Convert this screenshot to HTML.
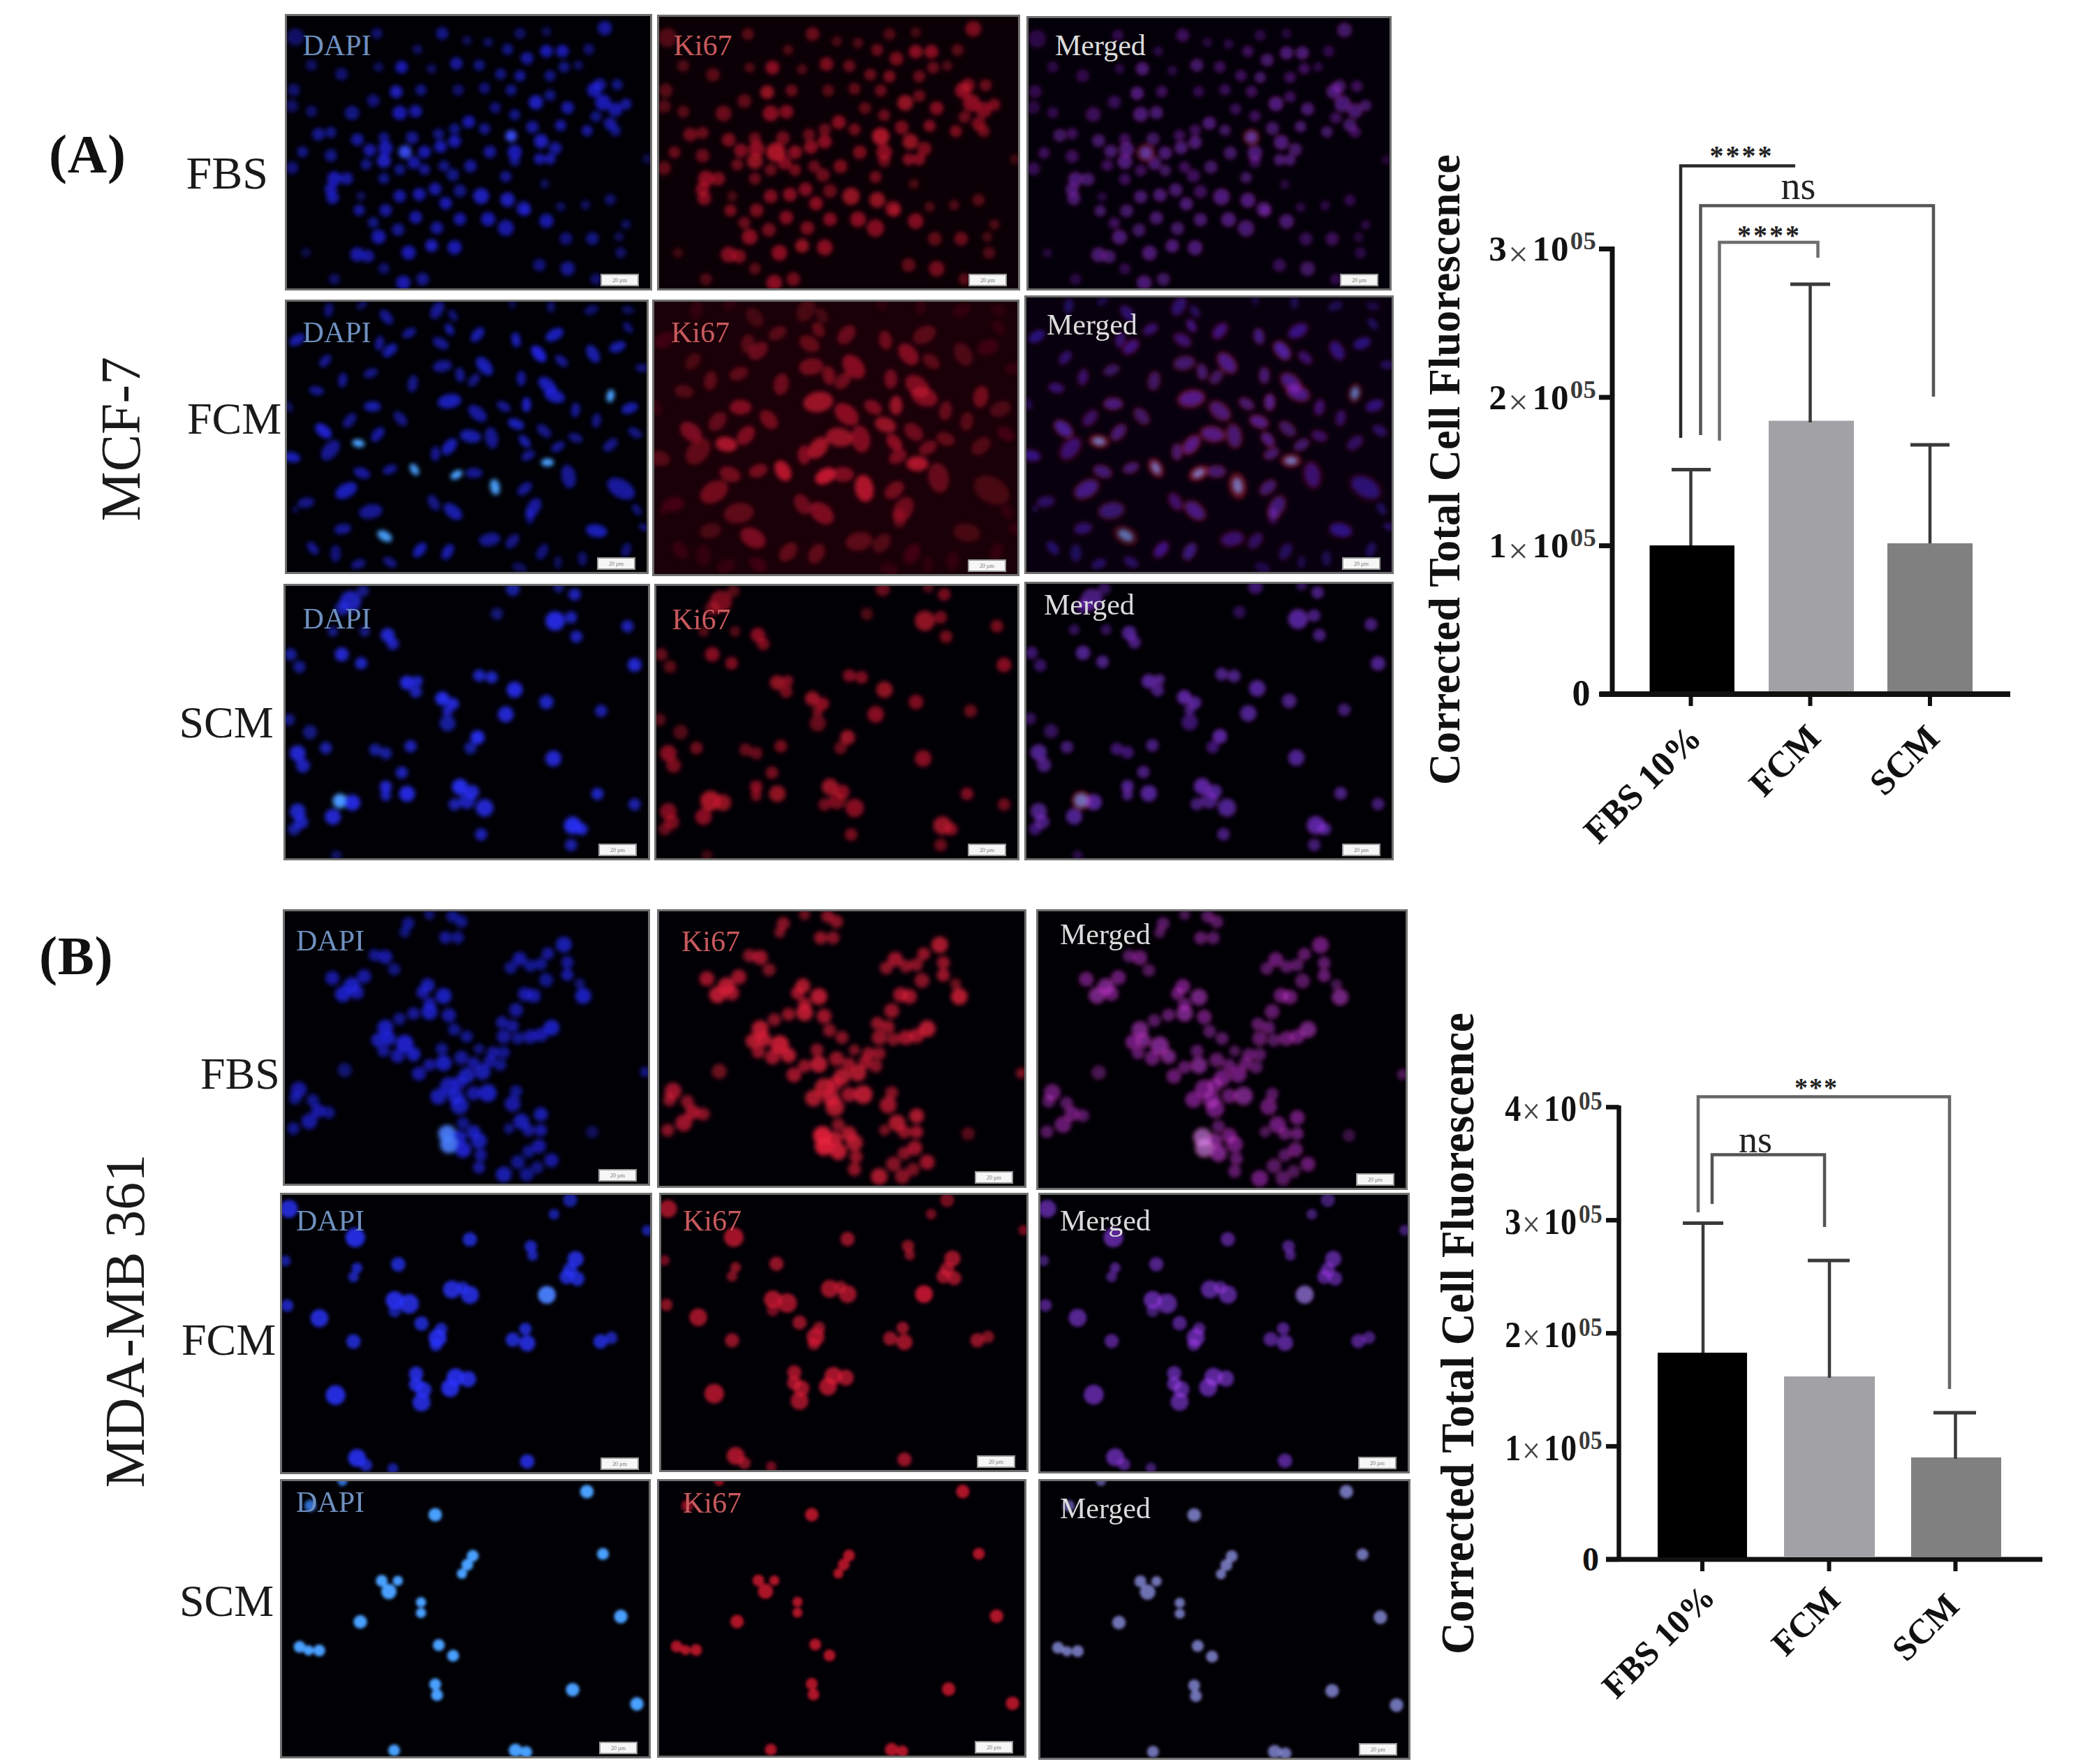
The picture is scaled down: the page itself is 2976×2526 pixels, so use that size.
<!DOCTYPE html><html><head><meta charset="utf-8"><title>Ki67 figure</title><style>html,body{margin:0;padding:0;background:#fff}body{width:2976px;height:2526px;overflow:hidden}svg{display:block}</style></head><body><svg width="2976" height="2526" viewBox="0 0 2976 2526">
<defs><filter id="blur" x="-5%" y="-5%" width="110%" height="110%"><feGaussianBlur stdDeviation="3.2"/></filter><filter id="blur4" x="-5%" y="-5%" width="110%" height="110%"><feGaussianBlur stdDeviation="2.8"/></filter><filter id="blur3" x="-5%" y="-5%" width="110%" height="110%"><feGaussianBlur stdDeviation="2"/></filter></defs>
<rect width="2976" height="2526" fill="#fff"/>
<rect x="408" y="20" width="526" height="396" fill="#6f6f6f"/>
<clipPath id="clipA00"><rect x="411" y="23" width="520" height="390"/></clipPath>
<rect x="411" y="23" width="520" height="390" fill="#010005"/>
<g clip-path="url(#clipA00)"><g style="isolation:isolate">
<g filter="url(#blur)">
<circle cx="423.2" cy="52.9" r="12.5" fill="#2426f0" fill-opacity="0.41"/>
<circle cx="539.6" cy="47.9" r="8.0" fill="#2426f0" fill-opacity="0.45"/>
<circle cx="633.3" cy="47.9" r="9.1" fill="#2426f0" fill-opacity="0.54"/>
<circle cx="668.7" cy="58.0" r="6.8" fill="#2426f0" fill-opacity="0.36"/>
<circle cx="699.1" cy="60.5" r="6.8" fill="#2426f0" fill-opacity="0.41"/>
<circle cx="744.7" cy="47.9" r="8.0" fill="#2426f0" fill-opacity="0.41"/>
<circle cx="782.6" cy="45.3" r="6.8" fill="#2426f0" fill-opacity="0.36"/>
<circle cx="866.2" cy="40.3" r="10.3" fill="#2426f0" fill-opacity="0.63"/>
<circle cx="843.4" cy="70.6" r="8.0" fill="#2426f0" fill-opacity="0.45"/>
<circle cx="575.1" cy="96.0" r="9.1" fill="#2426f0" fill-opacity="0.72"/>
<circle cx="597.8" cy="70.6" r="6.8" fill="#2426f0" fill-opacity="0.41"/>
<circle cx="653.5" cy="90.9" r="9.1" fill="#2426f0" fill-opacity="0.63"/>
<circle cx="686.4" cy="93.4" r="8.0" fill="#2426f0" fill-opacity="0.54"/>
<circle cx="726.9" cy="70.6" r="8.0" fill="#2426f0" fill-opacity="0.54"/>
<circle cx="754.8" cy="83.3" r="9.1" fill="#2426f0" fill-opacity="0.63"/>
<circle cx="782.6" cy="73.2" r="9.1" fill="#2426f0" fill-opacity="0.72"/>
<circle cx="805.4" cy="73.2" r="9.1" fill="#2426f0" fill-opacity="0.72"/>
<circle cx="807.9" cy="96.0" r="8.0" fill="#2426f0" fill-opacity="0.54"/>
<circle cx="744.7" cy="108.6" r="8.0" fill="#2426f0" fill-opacity="0.63"/>
<circle cx="716.8" cy="106.1" r="8.0" fill="#2426f0" fill-opacity="0.54"/>
<circle cx="787.7" cy="108.6" r="8.0" fill="#2426f0" fill-opacity="0.54"/>
<circle cx="489.0" cy="106.1" r="9.1" fill="#2426f0" fill-opacity="0.45"/>
<circle cx="446.0" cy="93.4" r="8.0" fill="#2426f0" fill-opacity="0.41"/>
<circle cx="542.2" cy="96.0" r="6.8" fill="#2426f0" fill-opacity="0.41"/>
<circle cx="618.1" cy="98.5" r="6.8" fill="#2426f0" fill-opacity="0.41"/>
<circle cx="828.2" cy="93.4" r="6.8" fill="#2426f0" fill-opacity="0.41"/>
<circle cx="567.5" cy="131.4" r="9.1" fill="#2426f0" fill-opacity="0.77"/>
<circle cx="602.9" cy="128.9" r="8.0" fill="#2426f0" fill-opacity="0.54"/>
<circle cx="656.1" cy="128.9" r="8.0" fill="#2426f0" fill-opacity="0.45"/>
<circle cx="694.0" cy="126.3" r="8.0" fill="#2426f0" fill-opacity="0.50"/>
<circle cx="732.0" cy="128.9" r="8.0" fill="#2426f0" fill-opacity="0.54"/>
<circle cx="767.4" cy="146.6" r="10.3" fill="#2426f0" fill-opacity="0.77"/>
<circle cx="787.7" cy="136.5" r="8.0" fill="#2426f0" fill-opacity="0.54"/>
<circle cx="813.0" cy="154.2" r="9.1" fill="#2426f0" fill-opacity="0.68"/>
<circle cx="851.0" cy="128.9" r="10.3" fill="#2426f0" fill-opacity="0.72"/>
<circle cx="863.6" cy="146.6" r="11.4" fill="#2426f0" fill-opacity="0.72"/>
<circle cx="881.3" cy="156.7" r="10.3" fill="#2426f0" fill-opacity="0.68"/>
<circle cx="896.5" cy="149.1" r="8.0" fill="#2426f0" fill-opacity="0.63"/>
<circle cx="858.6" cy="121.3" r="9.1" fill="#2426f0" fill-opacity="0.63"/>
<circle cx="883.9" cy="121.3" r="8.0" fill="#2426f0" fill-opacity="0.54"/>
<circle cx="420.7" cy="128.9" r="9.1" fill="#2426f0" fill-opacity="0.45"/>
<circle cx="418.1" cy="151.7" r="9.1" fill="#2426f0" fill-opacity="0.41"/>
<circle cx="446.0" cy="159.3" r="8.0" fill="#2426f0" fill-opacity="0.45"/>
<circle cx="504.2" cy="161.8" r="10.3" fill="#2426f0" fill-opacity="0.54"/>
<circle cx="534.6" cy="144.1" r="9.1" fill="#2426f0" fill-opacity="0.50"/>
<circle cx="572.5" cy="161.8" r="10.3" fill="#2426f0" fill-opacity="0.72"/>
<circle cx="595.3" cy="159.3" r="9.1" fill="#2426f0" fill-opacity="0.68"/>
<circle cx="709.2" cy="154.2" r="8.0" fill="#2426f0" fill-opacity="0.50"/>
<circle cx="737.1" cy="164.3" r="8.0" fill="#2426f0" fill-opacity="0.54"/>
<circle cx="873.8" cy="177.0" r="9.1" fill="#2426f0" fill-opacity="0.63"/>
<circle cx="881.3" cy="187.1" r="8.0" fill="#2426f0" fill-opacity="0.54"/>
<circle cx="671.3" cy="174.5" r="9.1" fill="#2426f0" fill-opacity="0.72"/>
<circle cx="694.0" cy="184.6" r="8.0" fill="#2426f0" fill-opacity="0.59"/>
<circle cx="651.0" cy="184.6" r="8.0" fill="#2426f0" fill-opacity="0.54"/>
<circle cx="628.2" cy="192.2" r="8.0" fill="#2426f0" fill-opacity="0.54"/>
<circle cx="732.0" cy="194.7" r="8.5" fill="#3a50ff" fill-opacity="0.90"/>
<circle cx="762.4" cy="182.0" r="9.1" fill="#2426f0" fill-opacity="0.63"/>
<circle cx="802.9" cy="179.5" r="8.0" fill="#2426f0" fill-opacity="0.68"/>
<circle cx="840.8" cy="187.1" r="8.0" fill="#2426f0" fill-opacity="0.63"/>
<circle cx="456.1" cy="192.2" r="9.1" fill="#2426f0" fill-opacity="0.59"/>
<circle cx="473.8" cy="189.6" r="8.0" fill="#2426f0" fill-opacity="0.54"/>
<circle cx="511.8" cy="199.8" r="9.1" fill="#2426f0" fill-opacity="0.63"/>
<circle cx="549.8" cy="197.2" r="8.0" fill="#2426f0" fill-opacity="0.54"/>
<circle cx="590.3" cy="197.2" r="9.1" fill="#2426f0" fill-opacity="0.59"/>
<circle cx="853.5" cy="166.9" r="8.0" fill="#2426f0" fill-opacity="0.54"/>
<circle cx="529.5" cy="215.0" r="9.1" fill="#2426f0" fill-opacity="0.68"/>
<circle cx="552.3" cy="212.4" r="10.3" fill="#2426f0" fill-opacity="0.72"/>
<circle cx="580.1" cy="217.5" r="9.4" fill="#3a50ff" fill-opacity="0.90"/>
<circle cx="608.0" cy="217.5" r="9.1" fill="#2426f0" fill-opacity="0.72"/>
<circle cx="630.8" cy="209.9" r="9.1" fill="#2426f0" fill-opacity="0.72"/>
<circle cx="651.0" cy="202.3" r="9.1" fill="#2426f0" fill-opacity="0.72"/>
<circle cx="701.6" cy="217.5" r="9.1" fill="#2426f0" fill-opacity="0.63"/>
<circle cx="737.1" cy="217.5" r="10.3" fill="#2426f0" fill-opacity="0.72"/>
<circle cx="775.0" cy="202.3" r="10.3" fill="#2426f0" fill-opacity="0.77"/>
<circle cx="795.3" cy="212.4" r="9.1" fill="#2426f0" fill-opacity="0.63"/>
<circle cx="772.5" cy="227.6" r="8.0" fill="#2426f0" fill-opacity="0.68"/>
<circle cx="787.7" cy="227.6" r="8.0" fill="#2426f0" fill-opacity="0.68"/>
<circle cx="433.3" cy="217.5" r="8.0" fill="#2426f0" fill-opacity="0.54"/>
<circle cx="473.8" cy="222.6" r="9.1" fill="#2426f0" fill-opacity="0.54"/>
<circle cx="549.8" cy="230.2" r="10.3" fill="#2426f0" fill-opacity="0.77"/>
<circle cx="592.8" cy="232.7" r="9.1" fill="#2426f0" fill-opacity="0.68"/>
<circle cx="524.4" cy="235.2" r="8.0" fill="#2426f0" fill-opacity="0.54"/>
<circle cx="572.5" cy="242.8" r="8.0" fill="#2426f0" fill-opacity="0.54"/>
<circle cx="608.0" cy="242.8" r="8.0" fill="#2426f0" fill-opacity="0.59"/>
<circle cx="635.8" cy="237.7" r="8.0" fill="#2426f0" fill-opacity="0.54"/>
<circle cx="673.8" cy="237.7" r="9.1" fill="#2426f0" fill-opacity="0.63"/>
<circle cx="418.1" cy="240.3" r="9.1" fill="#2426f0" fill-opacity="0.50"/>
<circle cx="926.9" cy="227.6" r="6.8" fill="#2426f0" fill-opacity="0.32"/>
<circle cx="737.1" cy="230.2" r="8.0" fill="#2426f0" fill-opacity="0.54"/>
<circle cx="478.9" cy="255.5" r="10.3" fill="#2426f0" fill-opacity="0.72"/>
<circle cx="496.6" cy="255.5" r="9.1" fill="#2426f0" fill-opacity="0.63"/>
<circle cx="549.8" cy="255.5" r="8.0" fill="#2426f0" fill-opacity="0.54"/>
<circle cx="648.5" cy="250.4" r="9.1" fill="#2426f0" fill-opacity="0.54"/>
<circle cx="724.4" cy="252.9" r="8.0" fill="#2426f0" fill-opacity="0.59"/>
<circle cx="473.8" cy="270.7" r="9.1" fill="#2426f0" fill-opacity="0.68"/>
<circle cx="476.3" cy="283.3" r="9.1" fill="#2426f0" fill-opacity="0.68"/>
<circle cx="572.5" cy="280.8" r="9.1" fill="#2426f0" fill-opacity="0.68"/>
<circle cx="600.4" cy="278.3" r="9.1" fill="#2426f0" fill-opacity="0.72"/>
<circle cx="623.2" cy="270.7" r="9.1" fill="#2426f0" fill-opacity="0.68"/>
<circle cx="658.6" cy="273.2" r="9.1" fill="#2426f0" fill-opacity="0.54"/>
<circle cx="689.0" cy="280.8" r="11.4" fill="#2426f0" fill-opacity="0.77"/>
<circle cx="726.9" cy="285.9" r="10.3" fill="#2426f0" fill-opacity="0.77"/>
<circle cx="638.3" cy="290.9" r="9.1" fill="#2426f0" fill-opacity="0.72"/>
<circle cx="516.8" cy="280.8" r="6.8" fill="#2426f0" fill-opacity="0.36"/>
<circle cx="780.1" cy="263.1" r="6.8" fill="#2426f0" fill-opacity="0.36"/>
<circle cx="873.8" cy="285.9" r="8.0" fill="#2426f0" fill-opacity="0.45"/>
<circle cx="802.9" cy="296.0" r="6.8" fill="#2426f0" fill-opacity="0.41"/>
<circle cx="838.3" cy="293.5" r="6.8" fill="#2426f0" fill-opacity="0.41"/>
<circle cx="749.7" cy="298.5" r="10.3" fill="#2426f0" fill-opacity="0.63"/>
<circle cx="514.3" cy="301.0" r="8.0" fill="#2426f0" fill-opacity="0.63"/>
<circle cx="552.3" cy="301.0" r="9.1" fill="#2426f0" fill-opacity="0.63"/>
<circle cx="534.6" cy="318.8" r="8.0" fill="#2426f0" fill-opacity="0.54"/>
<circle cx="595.3" cy="311.2" r="9.1" fill="#2426f0" fill-opacity="0.68"/>
<circle cx="658.6" cy="313.7" r="9.1" fill="#2426f0" fill-opacity="0.68"/>
<circle cx="699.1" cy="313.7" r="10.3" fill="#2426f0" fill-opacity="0.72"/>
<circle cx="752.3" cy="301.0" r="8.0" fill="#2426f0" fill-opacity="0.54"/>
<circle cx="782.6" cy="316.2" r="10.3" fill="#2426f0" fill-opacity="0.68"/>
<circle cx="570.0" cy="328.9" r="9.1" fill="#2426f0" fill-opacity="0.59"/>
<circle cx="625.7" cy="326.4" r="9.1" fill="#2426f0" fill-opacity="0.63"/>
<circle cx="724.4" cy="326.4" r="11.4" fill="#2426f0" fill-opacity="0.68"/>
<circle cx="896.5" cy="321.3" r="6.8" fill="#2426f0" fill-opacity="0.41"/>
<circle cx="810.5" cy="341.6" r="9.1" fill="#2426f0" fill-opacity="0.50"/>
<circle cx="848.4" cy="341.6" r="9.1" fill="#2426f0" fill-opacity="0.54"/>
<circle cx="542.2" cy="339.0" r="10.3" fill="#2426f0" fill-opacity="0.72"/>
<circle cx="511.8" cy="364.3" r="10.3" fill="#2426f0" fill-opacity="0.68"/>
<circle cx="527.0" cy="366.9" r="9.1" fill="#2426f0" fill-opacity="0.63"/>
<circle cx="585.2" cy="361.8" r="10.3" fill="#2426f0" fill-opacity="0.72"/>
<circle cx="618.1" cy="351.7" r="9.1" fill="#2426f0" fill-opacity="0.77"/>
<circle cx="651.0" cy="354.2" r="10.3" fill="#2426f0" fill-opacity="0.72"/>
<circle cx="772.5" cy="379.5" r="9.1" fill="#2426f0" fill-opacity="0.50"/>
<circle cx="813.0" cy="384.6" r="10.3" fill="#2426f0" fill-opacity="0.59"/>
<circle cx="853.5" cy="399.8" r="8.0" fill="#2426f0" fill-opacity="0.45"/>
<circle cx="549.8" cy="384.6" r="8.0" fill="#2426f0" fill-opacity="0.45"/>
<circle cx="577.6" cy="404.9" r="10.3" fill="#2426f0" fill-opacity="0.72"/>
<circle cx="605.4" cy="399.8" r="9.1" fill="#2426f0" fill-opacity="0.59"/>
<circle cx="478.9" cy="399.8" r="8.0" fill="#2426f0" fill-opacity="0.41"/>
<circle cx="888.9" cy="361.8" r="8.0" fill="#2426f0" fill-opacity="0.41"/>
<circle cx="886.4" cy="339.0" r="6.8" fill="#2426f0" fill-opacity="0.36"/>
<circle cx="438.4" cy="361.8" r="6.8" fill="#2426f0" fill-opacity="0.32"/>
</g>
</g></g>
<text x="433.5" y="79.3" font-family="'Liberation Serif','Times New Roman',serif" font-size="42" fill="#6f90c0">DAPI</text>
<rect x="861" y="393" width="53" height="16" fill="#f6f6f6" stroke="#9a9a9a" stroke-width="2"/>
<text x="887.5" y="404" font-family="'Liberation Serif','Times New Roman',serif" font-size="8" fill="#777" text-anchor="middle">20 µm</text>
<rect x="941" y="21" width="520" height="395" fill="#6f6f6f"/>
<clipPath id="clipA01"><rect x="944" y="24" width="514" height="389"/></clipPath>
<rect x="944" y="24" width="514" height="389" fill="#0a0005"/>
<g clip-path="url(#clipA01)"><g style="isolation:isolate">
<g filter="url(#blur)">
<circle cx="956.0" cy="53.8" r="13.8" fill="#d01830" fill-opacity="0.36"/>
<circle cx="1071.1" cy="48.8" r="8.8" fill="#d01830" fill-opacity="0.40"/>
<circle cx="1163.7" cy="48.8" r="10.0" fill="#d01830" fill-opacity="0.48"/>
<circle cx="1198.7" cy="58.9" r="7.5" fill="#d01830" fill-opacity="0.32"/>
<circle cx="1228.8" cy="61.4" r="7.5" fill="#d01830" fill-opacity="0.36"/>
<circle cx="1273.8" cy="48.8" r="8.8" fill="#d01830" fill-opacity="0.36"/>
<circle cx="1311.4" cy="46.3" r="7.5" fill="#d01830" fill-opacity="0.32"/>
<circle cx="1393.9" cy="41.2" r="11.3" fill="#d01830" fill-opacity="0.56"/>
<circle cx="1371.4" cy="71.5" r="8.8" fill="#d01830" fill-opacity="0.40"/>
<circle cx="1106.2" cy="96.8" r="10.0" fill="#d01830" fill-opacity="0.64"/>
<circle cx="1128.7" cy="71.5" r="7.5" fill="#d01830" fill-opacity="0.36"/>
<circle cx="1183.7" cy="91.7" r="10.0" fill="#d01830" fill-opacity="0.56"/>
<circle cx="1216.3" cy="94.2" r="8.8" fill="#d01830" fill-opacity="0.48"/>
<circle cx="1256.3" cy="71.5" r="8.8" fill="#d01830" fill-opacity="0.48"/>
<circle cx="1283.8" cy="84.1" r="10.0" fill="#d01830" fill-opacity="0.56"/>
<circle cx="1311.4" cy="74.0" r="10.0" fill="#d01830" fill-opacity="0.64"/>
<circle cx="1333.9" cy="74.0" r="10.0" fill="#d01830" fill-opacity="0.64"/>
<circle cx="1336.4" cy="96.8" r="8.8" fill="#d01830" fill-opacity="0.48"/>
<circle cx="1273.8" cy="109.4" r="8.8" fill="#d01830" fill-opacity="0.56"/>
<circle cx="1246.3" cy="106.9" r="8.8" fill="#d01830" fill-opacity="0.48"/>
<circle cx="1316.4" cy="109.4" r="8.8" fill="#d01830" fill-opacity="0.48"/>
<circle cx="1021.1" cy="106.9" r="10.0" fill="#d01830" fill-opacity="0.40"/>
<circle cx="978.5" cy="94.2" r="8.8" fill="#d01830" fill-opacity="0.36"/>
<circle cx="1073.6" cy="96.8" r="7.5" fill="#d01830" fill-opacity="0.36"/>
<circle cx="1148.7" cy="99.3" r="7.5" fill="#d01830" fill-opacity="0.36"/>
<circle cx="1356.4" cy="94.2" r="7.5" fill="#d01830" fill-opacity="0.36"/>
<circle cx="1098.7" cy="132.1" r="10.0" fill="#d01830" fill-opacity="0.68"/>
<circle cx="1133.7" cy="129.6" r="8.8" fill="#d01830" fill-opacity="0.48"/>
<circle cx="1186.2" cy="129.6" r="8.8" fill="#d01830" fill-opacity="0.40"/>
<circle cx="1223.8" cy="127.1" r="8.8" fill="#d01830" fill-opacity="0.44"/>
<circle cx="1261.3" cy="129.6" r="8.8" fill="#d01830" fill-opacity="0.48"/>
<circle cx="1296.3" cy="147.3" r="11.3" fill="#d01830" fill-opacity="0.68"/>
<circle cx="1316.4" cy="137.2" r="8.8" fill="#d01830" fill-opacity="0.48"/>
<circle cx="1341.4" cy="154.9" r="10.0" fill="#d01830" fill-opacity="0.60"/>
<circle cx="1378.9" cy="129.6" r="11.3" fill="#d01830" fill-opacity="0.64"/>
<circle cx="1391.4" cy="147.3" r="12.5" fill="#d01830" fill-opacity="0.64"/>
<circle cx="1408.9" cy="157.4" r="11.3" fill="#d01830" fill-opacity="0.60"/>
<circle cx="1424.0" cy="149.8" r="8.8" fill="#d01830" fill-opacity="0.56"/>
<circle cx="1386.4" cy="122.0" r="10.0" fill="#d01830" fill-opacity="0.56"/>
<circle cx="1411.5" cy="122.0" r="8.8" fill="#d01830" fill-opacity="0.48"/>
<circle cx="953.5" cy="129.6" r="10.0" fill="#d01830" fill-opacity="0.40"/>
<circle cx="951.0" cy="152.3" r="10.0" fill="#d01830" fill-opacity="0.36"/>
<circle cx="978.5" cy="159.9" r="8.8" fill="#d01830" fill-opacity="0.40"/>
<circle cx="1036.1" cy="162.4" r="11.3" fill="#d01830" fill-opacity="0.48"/>
<circle cx="1066.1" cy="144.8" r="10.0" fill="#d01830" fill-opacity="0.44"/>
<circle cx="1103.7" cy="162.4" r="11.3" fill="#d01830" fill-opacity="0.64"/>
<circle cx="1126.2" cy="159.9" r="10.0" fill="#d01830" fill-opacity="0.60"/>
<circle cx="1238.8" cy="154.9" r="8.8" fill="#d01830" fill-opacity="0.44"/>
<circle cx="1266.3" cy="165.0" r="8.8" fill="#d01830" fill-opacity="0.48"/>
<circle cx="1401.4" cy="177.6" r="10.0" fill="#d01830" fill-opacity="0.56"/>
<circle cx="1408.9" cy="187.7" r="8.8" fill="#d01830" fill-opacity="0.48"/>
<circle cx="1201.3" cy="175.1" r="10.0" fill="#d01830" fill-opacity="0.64"/>
<circle cx="1223.8" cy="185.2" r="8.8" fill="#d01830" fill-opacity="0.52"/>
<circle cx="1181.2" cy="185.2" r="8.8" fill="#d01830" fill-opacity="0.48"/>
<circle cx="1158.7" cy="192.7" r="8.8" fill="#d01830" fill-opacity="0.48"/>
<circle cx="1261.3" cy="195.3" r="12.5" fill="#d01830" fill-opacity="0.80"/>
<circle cx="1291.3" cy="182.6" r="10.0" fill="#d01830" fill-opacity="0.56"/>
<circle cx="1331.4" cy="180.1" r="8.8" fill="#d01830" fill-opacity="0.60"/>
<circle cx="1368.9" cy="187.7" r="8.8" fill="#d01830" fill-opacity="0.56"/>
<circle cx="988.5" cy="192.7" r="10.0" fill="#d01830" fill-opacity="0.52"/>
<circle cx="1006.1" cy="190.2" r="8.8" fill="#d01830" fill-opacity="0.48"/>
<circle cx="1043.6" cy="200.3" r="10.0" fill="#d01830" fill-opacity="0.56"/>
<circle cx="1081.1" cy="197.8" r="8.8" fill="#d01830" fill-opacity="0.48"/>
<circle cx="1121.2" cy="197.8" r="10.0" fill="#d01830" fill-opacity="0.52"/>
<circle cx="1381.4" cy="167.5" r="8.8" fill="#d01830" fill-opacity="0.48"/>
<circle cx="1061.1" cy="215.5" r="10.0" fill="#d01830" fill-opacity="0.60"/>
<circle cx="1083.6" cy="212.9" r="11.3" fill="#d01830" fill-opacity="0.64"/>
<circle cx="1111.2" cy="218.0" r="13.8" fill="#d01830" fill-opacity="0.80"/>
<circle cx="1138.7" cy="218.0" r="10.0" fill="#d01830" fill-opacity="0.64"/>
<circle cx="1161.2" cy="210.4" r="10.0" fill="#d01830" fill-opacity="0.64"/>
<circle cx="1181.2" cy="202.8" r="10.0" fill="#d01830" fill-opacity="0.64"/>
<circle cx="1231.3" cy="218.0" r="10.0" fill="#d01830" fill-opacity="0.56"/>
<circle cx="1266.3" cy="218.0" r="11.3" fill="#d01830" fill-opacity="0.64"/>
<circle cx="1303.8" cy="202.8" r="11.3" fill="#d01830" fill-opacity="0.68"/>
<circle cx="1323.9" cy="212.9" r="10.0" fill="#d01830" fill-opacity="0.56"/>
<circle cx="1301.3" cy="228.1" r="8.8" fill="#d01830" fill-opacity="0.60"/>
<circle cx="1316.4" cy="228.1" r="8.8" fill="#d01830" fill-opacity="0.60"/>
<circle cx="966.0" cy="218.0" r="8.8" fill="#d01830" fill-opacity="0.48"/>
<circle cx="1006.1" cy="223.0" r="10.0" fill="#d01830" fill-opacity="0.48"/>
<circle cx="1081.1" cy="230.6" r="11.3" fill="#d01830" fill-opacity="0.68"/>
<circle cx="1123.7" cy="233.1" r="10.0" fill="#d01830" fill-opacity="0.60"/>
<circle cx="1056.1" cy="235.7" r="8.8" fill="#d01830" fill-opacity="0.48"/>
<circle cx="1103.7" cy="243.3" r="8.8" fill="#d01830" fill-opacity="0.48"/>
<circle cx="1138.7" cy="243.3" r="8.8" fill="#d01830" fill-opacity="0.52"/>
<circle cx="1166.2" cy="238.2" r="8.8" fill="#d01830" fill-opacity="0.48"/>
<circle cx="1203.8" cy="238.2" r="10.0" fill="#d01830" fill-opacity="0.56"/>
<circle cx="951.0" cy="240.7" r="10.0" fill="#d01830" fill-opacity="0.44"/>
<circle cx="1454.0" cy="228.1" r="7.5" fill="#d01830" fill-opacity="0.28"/>
<circle cx="1266.3" cy="230.6" r="8.8" fill="#d01830" fill-opacity="0.48"/>
<circle cx="1011.1" cy="255.9" r="11.3" fill="#d01830" fill-opacity="0.64"/>
<circle cx="1028.6" cy="255.9" r="10.0" fill="#d01830" fill-opacity="0.56"/>
<circle cx="1081.1" cy="255.9" r="8.8" fill="#d01830" fill-opacity="0.48"/>
<circle cx="1178.7" cy="250.8" r="10.0" fill="#d01830" fill-opacity="0.48"/>
<circle cx="1253.8" cy="253.4" r="8.8" fill="#d01830" fill-opacity="0.52"/>
<circle cx="1006.1" cy="271.0" r="10.0" fill="#d01830" fill-opacity="0.60"/>
<circle cx="1008.6" cy="283.7" r="10.0" fill="#d01830" fill-opacity="0.60"/>
<circle cx="1103.7" cy="281.1" r="10.0" fill="#d01830" fill-opacity="0.60"/>
<circle cx="1131.2" cy="278.6" r="10.0" fill="#d01830" fill-opacity="0.64"/>
<circle cx="1153.7" cy="271.0" r="10.0" fill="#d01830" fill-opacity="0.60"/>
<circle cx="1188.7" cy="273.6" r="10.0" fill="#d01830" fill-opacity="0.48"/>
<circle cx="1218.8" cy="281.1" r="12.5" fill="#d01830" fill-opacity="0.68"/>
<circle cx="1256.3" cy="286.2" r="11.3" fill="#d01830" fill-opacity="0.68"/>
<circle cx="1168.7" cy="291.2" r="10.0" fill="#d01830" fill-opacity="0.64"/>
<circle cx="1048.6" cy="281.1" r="7.5" fill="#d01830" fill-opacity="0.32"/>
<circle cx="1308.9" cy="263.5" r="7.5" fill="#d01830" fill-opacity="0.32"/>
<circle cx="1401.4" cy="286.2" r="8.8" fill="#d01830" fill-opacity="0.40"/>
<circle cx="1331.4" cy="296.3" r="7.5" fill="#d01830" fill-opacity="0.36"/>
<circle cx="1366.4" cy="293.8" r="7.5" fill="#d01830" fill-opacity="0.36"/>
<circle cx="1278.8" cy="298.8" r="11.3" fill="#d01830" fill-opacity="0.56"/>
<circle cx="1046.1" cy="301.3" r="8.8" fill="#d01830" fill-opacity="0.56"/>
<circle cx="1083.6" cy="301.3" r="10.0" fill="#d01830" fill-opacity="0.56"/>
<circle cx="1066.1" cy="319.0" r="8.8" fill="#d01830" fill-opacity="0.48"/>
<circle cx="1126.2" cy="311.4" r="10.0" fill="#d01830" fill-opacity="0.60"/>
<circle cx="1188.7" cy="314.0" r="10.0" fill="#d01830" fill-opacity="0.60"/>
<circle cx="1228.8" cy="314.0" r="11.3" fill="#d01830" fill-opacity="0.64"/>
<circle cx="1281.3" cy="301.3" r="8.8" fill="#d01830" fill-opacity="0.48"/>
<circle cx="1311.4" cy="316.5" r="11.3" fill="#d01830" fill-opacity="0.60"/>
<circle cx="1101.2" cy="329.1" r="10.0" fill="#d01830" fill-opacity="0.52"/>
<circle cx="1156.2" cy="326.6" r="10.0" fill="#d01830" fill-opacity="0.56"/>
<circle cx="1253.8" cy="326.6" r="12.5" fill="#d01830" fill-opacity="0.60"/>
<circle cx="1424.0" cy="321.5" r="7.5" fill="#d01830" fill-opacity="0.36"/>
<circle cx="1338.9" cy="341.7" r="10.0" fill="#d01830" fill-opacity="0.44"/>
<circle cx="1376.4" cy="341.7" r="10.0" fill="#d01830" fill-opacity="0.48"/>
<circle cx="1073.6" cy="339.2" r="11.3" fill="#d01830" fill-opacity="0.64"/>
<circle cx="1043.6" cy="364.5" r="11.3" fill="#d01830" fill-opacity="0.60"/>
<circle cx="1058.6" cy="367.0" r="10.0" fill="#d01830" fill-opacity="0.56"/>
<circle cx="1116.2" cy="362.0" r="11.3" fill="#d01830" fill-opacity="0.64"/>
<circle cx="1148.7" cy="351.9" r="10.0" fill="#d01830" fill-opacity="0.68"/>
<circle cx="1181.2" cy="354.4" r="11.3" fill="#d01830" fill-opacity="0.64"/>
<circle cx="1301.3" cy="379.6" r="10.0" fill="#d01830" fill-opacity="0.44"/>
<circle cx="1341.4" cy="384.7" r="11.3" fill="#d01830" fill-opacity="0.52"/>
<circle cx="1381.4" cy="399.8" r="8.8" fill="#d01830" fill-opacity="0.40"/>
<circle cx="1081.1" cy="384.7" r="8.8" fill="#d01830" fill-opacity="0.40"/>
<circle cx="1108.7" cy="404.9" r="11.3" fill="#d01830" fill-opacity="0.64"/>
<circle cx="1136.2" cy="399.8" r="10.0" fill="#d01830" fill-opacity="0.52"/>
<circle cx="1011.1" cy="399.8" r="8.8" fill="#d01830" fill-opacity="0.36"/>
<circle cx="1416.5" cy="362.0" r="8.8" fill="#d01830" fill-opacity="0.36"/>
<circle cx="1414.0" cy="339.2" r="7.5" fill="#d01830" fill-opacity="0.32"/>
<circle cx="971.0" cy="362.0" r="7.5" fill="#d01830" fill-opacity="0.28"/>
</g>
</g></g>
<text x="964.4" y="79.3" font-family="'Liberation Serif','Times New Roman',serif" font-size="42" fill="#c85a5e">Ki67</text>
<rect x="1388" y="393" width="53" height="16" fill="#f6f6f6" stroke="#9a9a9a" stroke-width="2"/>
<text x="1414.5" y="404" font-family="'Liberation Serif','Times New Roman',serif" font-size="8" fill="#777" text-anchor="middle">20 µm</text>
<rect x="1470" y="23" width="523" height="393" fill="#6f6f6f"/>
<clipPath id="clipA02"><rect x="1473" y="26" width="517" height="387"/></clipPath>
<rect x="1473" y="26" width="517" height="387" fill="#04000a"/>
<g clip-path="url(#clipA02)"><g style="isolation:isolate">
<g filter="url(#blur)">
<circle cx="1485.1" cy="55.7" r="12.5" fill="#2426f0" fill-opacity="0.25"/>
<circle cx="1600.9" cy="50.6" r="7.9" fill="#2426f0" fill-opacity="0.28"/>
<circle cx="1694.0" cy="50.6" r="9.1" fill="#2426f0" fill-opacity="0.33"/>
<circle cx="1729.2" cy="60.7" r="6.8" fill="#2426f0" fill-opacity="0.22"/>
<circle cx="1759.4" cy="63.2" r="6.8" fill="#2426f0" fill-opacity="0.25"/>
<circle cx="1804.7" cy="50.6" r="7.9" fill="#2426f0" fill-opacity="0.25"/>
<circle cx="1842.5" cy="48.1" r="6.8" fill="#2426f0" fill-opacity="0.22"/>
<circle cx="1925.5" cy="43.1" r="10.2" fill="#2426f0" fill-opacity="0.39"/>
<circle cx="1902.9" cy="73.3" r="7.9" fill="#2426f0" fill-opacity="0.28"/>
<circle cx="1636.1" cy="98.4" r="9.1" fill="#2426f0" fill-opacity="0.45"/>
<circle cx="1658.8" cy="73.3" r="6.8" fill="#2426f0" fill-opacity="0.25"/>
<circle cx="1714.1" cy="93.4" r="9.1" fill="#2426f0" fill-opacity="0.39"/>
<circle cx="1746.9" cy="95.9" r="7.9" fill="#2426f0" fill-opacity="0.33"/>
<circle cx="1787.1" cy="73.3" r="7.9" fill="#2426f0" fill-opacity="0.33"/>
<circle cx="1814.8" cy="85.8" r="9.1" fill="#2426f0" fill-opacity="0.39"/>
<circle cx="1842.5" cy="75.8" r="9.1" fill="#2426f0" fill-opacity="0.45"/>
<circle cx="1865.1" cy="75.8" r="9.1" fill="#2426f0" fill-opacity="0.45"/>
<circle cx="1867.7" cy="98.4" r="7.9" fill="#2426f0" fill-opacity="0.33"/>
<circle cx="1804.7" cy="110.9" r="7.9" fill="#2426f0" fill-opacity="0.39"/>
<circle cx="1777.1" cy="108.4" r="7.9" fill="#2426f0" fill-opacity="0.33"/>
<circle cx="1847.5" cy="110.9" r="7.9" fill="#2426f0" fill-opacity="0.33"/>
<circle cx="1550.5" cy="108.4" r="9.1" fill="#2426f0" fill-opacity="0.28"/>
<circle cx="1507.8" cy="95.9" r="7.9" fill="#2426f0" fill-opacity="0.25"/>
<circle cx="1603.4" cy="98.4" r="6.8" fill="#2426f0" fill-opacity="0.25"/>
<circle cx="1678.9" cy="100.9" r="6.8" fill="#2426f0" fill-opacity="0.25"/>
<circle cx="1887.8" cy="95.9" r="6.8" fill="#2426f0" fill-opacity="0.25"/>
<circle cx="1628.6" cy="133.6" r="9.1" fill="#2426f0" fill-opacity="0.47"/>
<circle cx="1663.8" cy="131.0" r="7.9" fill="#2426f0" fill-opacity="0.33"/>
<circle cx="1716.7" cy="131.0" r="7.9" fill="#2426f0" fill-opacity="0.28"/>
<circle cx="1754.4" cy="128.5" r="7.9" fill="#2426f0" fill-opacity="0.31"/>
<circle cx="1792.2" cy="131.0" r="7.9" fill="#2426f0" fill-opacity="0.33"/>
<circle cx="1827.4" cy="148.6" r="10.2" fill="#2426f0" fill-opacity="0.47"/>
<circle cx="1847.5" cy="138.6" r="7.9" fill="#2426f0" fill-opacity="0.33"/>
<circle cx="1872.7" cy="156.2" r="9.1" fill="#2426f0" fill-opacity="0.42"/>
<circle cx="1910.4" cy="131.0" r="10.2" fill="#2426f0" fill-opacity="0.45"/>
<circle cx="1923.0" cy="148.6" r="11.3" fill="#2426f0" fill-opacity="0.45"/>
<circle cx="1940.6" cy="158.7" r="10.2" fill="#2426f0" fill-opacity="0.42"/>
<circle cx="1955.8" cy="151.2" r="7.9" fill="#2426f0" fill-opacity="0.39"/>
<circle cx="1918.0" cy="123.5" r="9.1" fill="#2426f0" fill-opacity="0.39"/>
<circle cx="1943.2" cy="123.5" r="7.9" fill="#2426f0" fill-opacity="0.33"/>
<circle cx="1482.6" cy="131.0" r="9.1" fill="#2426f0" fill-opacity="0.28"/>
<circle cx="1480.1" cy="153.7" r="9.1" fill="#2426f0" fill-opacity="0.25"/>
<circle cx="1507.8" cy="161.2" r="7.9" fill="#2426f0" fill-opacity="0.28"/>
<circle cx="1565.6" cy="163.7" r="10.2" fill="#2426f0" fill-opacity="0.33"/>
<circle cx="1595.8" cy="146.1" r="9.1" fill="#2426f0" fill-opacity="0.31"/>
<circle cx="1633.6" cy="163.7" r="10.2" fill="#2426f0" fill-opacity="0.45"/>
<circle cx="1656.2" cy="161.2" r="9.1" fill="#2426f0" fill-opacity="0.42"/>
<circle cx="1769.5" cy="156.2" r="7.9" fill="#2426f0" fill-opacity="0.31"/>
<circle cx="1797.2" cy="166.2" r="7.9" fill="#2426f0" fill-opacity="0.33"/>
<circle cx="1933.1" cy="178.8" r="9.1" fill="#2426f0" fill-opacity="0.39"/>
<circle cx="1940.6" cy="188.8" r="7.9" fill="#2426f0" fill-opacity="0.33"/>
<circle cx="1731.8" cy="176.3" r="9.1" fill="#2426f0" fill-opacity="0.45"/>
<circle cx="1754.4" cy="186.3" r="7.9" fill="#2426f0" fill-opacity="0.36"/>
<circle cx="1711.6" cy="186.3" r="7.9" fill="#2426f0" fill-opacity="0.33"/>
<circle cx="1689.0" cy="193.9" r="7.9" fill="#2426f0" fill-opacity="0.33"/>
<circle cx="1792.2" cy="196.4" r="8.5" fill="#3a50ff" fill-opacity="0.56"/>
<circle cx="1822.4" cy="183.8" r="9.1" fill="#2426f0" fill-opacity="0.39"/>
<circle cx="1862.6" cy="181.3" r="7.9" fill="#2426f0" fill-opacity="0.42"/>
<circle cx="1900.4" cy="188.8" r="7.9" fill="#2426f0" fill-opacity="0.39"/>
<circle cx="1517.8" cy="193.9" r="9.1" fill="#2426f0" fill-opacity="0.36"/>
<circle cx="1535.4" cy="191.4" r="7.9" fill="#2426f0" fill-opacity="0.33"/>
<circle cx="1573.2" cy="201.4" r="9.1" fill="#2426f0" fill-opacity="0.39"/>
<circle cx="1610.9" cy="198.9" r="7.9" fill="#2426f0" fill-opacity="0.33"/>
<circle cx="1651.2" cy="198.9" r="9.1" fill="#2426f0" fill-opacity="0.36"/>
<circle cx="1913.0" cy="168.7" r="7.9" fill="#2426f0" fill-opacity="0.33"/>
<circle cx="1590.8" cy="216.5" r="9.1" fill="#2426f0" fill-opacity="0.42"/>
<circle cx="1613.5" cy="214.0" r="10.2" fill="#2426f0" fill-opacity="0.45"/>
<circle cx="1641.1" cy="219.0" r="9.3" fill="#3a50ff" fill-opacity="0.56"/>
<circle cx="1668.8" cy="219.0" r="9.1" fill="#2426f0" fill-opacity="0.45"/>
<circle cx="1691.5" cy="211.5" r="9.1" fill="#2426f0" fill-opacity="0.45"/>
<circle cx="1711.6" cy="203.9" r="9.1" fill="#2426f0" fill-opacity="0.45"/>
<circle cx="1762.0" cy="219.0" r="9.1" fill="#2426f0" fill-opacity="0.39"/>
<circle cx="1797.2" cy="219.0" r="10.2" fill="#2426f0" fill-opacity="0.45"/>
<circle cx="1834.9" cy="203.9" r="10.2" fill="#2426f0" fill-opacity="0.47"/>
<circle cx="1855.1" cy="214.0" r="9.1" fill="#2426f0" fill-opacity="0.39"/>
<circle cx="1832.4" cy="229.0" r="7.9" fill="#2426f0" fill-opacity="0.42"/>
<circle cx="1847.5" cy="229.0" r="7.9" fill="#2426f0" fill-opacity="0.42"/>
<circle cx="1495.2" cy="219.0" r="7.9" fill="#2426f0" fill-opacity="0.33"/>
<circle cx="1535.4" cy="224.0" r="9.1" fill="#2426f0" fill-opacity="0.33"/>
<circle cx="1610.9" cy="231.6" r="10.2" fill="#2426f0" fill-opacity="0.47"/>
<circle cx="1653.7" cy="234.1" r="9.1" fill="#2426f0" fill-opacity="0.42"/>
<circle cx="1585.8" cy="236.6" r="7.9" fill="#2426f0" fill-opacity="0.33"/>
<circle cx="1633.6" cy="244.1" r="7.9" fill="#2426f0" fill-opacity="0.33"/>
<circle cx="1668.8" cy="244.1" r="7.9" fill="#2426f0" fill-opacity="0.36"/>
<circle cx="1696.5" cy="239.1" r="7.9" fill="#2426f0" fill-opacity="0.33"/>
<circle cx="1734.3" cy="239.1" r="9.1" fill="#2426f0" fill-opacity="0.39"/>
<circle cx="1480.1" cy="241.6" r="9.1" fill="#2426f0" fill-opacity="0.31"/>
<circle cx="1986.0" cy="229.0" r="6.8" fill="#2426f0" fill-opacity="0.20"/>
<circle cx="1797.2" cy="231.6" r="7.9" fill="#2426f0" fill-opacity="0.33"/>
<circle cx="1540.5" cy="256.7" r="10.2" fill="#2426f0" fill-opacity="0.45"/>
<circle cx="1558.1" cy="256.7" r="9.1" fill="#2426f0" fill-opacity="0.39"/>
<circle cx="1610.9" cy="256.7" r="7.9" fill="#2426f0" fill-opacity="0.33"/>
<circle cx="1709.1" cy="251.7" r="9.1" fill="#2426f0" fill-opacity="0.33"/>
<circle cx="1784.6" cy="254.2" r="7.9" fill="#2426f0" fill-opacity="0.36"/>
<circle cx="1535.4" cy="271.8" r="9.1" fill="#2426f0" fill-opacity="0.42"/>
<circle cx="1538.0" cy="284.3" r="9.1" fill="#2426f0" fill-opacity="0.42"/>
<circle cx="1633.6" cy="281.8" r="9.1" fill="#2426f0" fill-opacity="0.42"/>
<circle cx="1661.3" cy="279.3" r="9.1" fill="#2426f0" fill-opacity="0.45"/>
<circle cx="1683.9" cy="271.8" r="9.1" fill="#2426f0" fill-opacity="0.42"/>
<circle cx="1719.2" cy="274.3" r="9.1" fill="#2426f0" fill-opacity="0.33"/>
<circle cx="1749.4" cy="281.8" r="11.3" fill="#2426f0" fill-opacity="0.47"/>
<circle cx="1787.1" cy="286.8" r="10.2" fill="#2426f0" fill-opacity="0.47"/>
<circle cx="1699.0" cy="291.9" r="9.1" fill="#2426f0" fill-opacity="0.45"/>
<circle cx="1578.2" cy="281.8" r="6.8" fill="#2426f0" fill-opacity="0.22"/>
<circle cx="1840.0" cy="264.2" r="6.8" fill="#2426f0" fill-opacity="0.22"/>
<circle cx="1933.1" cy="286.8" r="7.9" fill="#2426f0" fill-opacity="0.28"/>
<circle cx="1862.6" cy="296.9" r="6.8" fill="#2426f0" fill-opacity="0.25"/>
<circle cx="1897.9" cy="294.4" r="6.8" fill="#2426f0" fill-opacity="0.25"/>
<circle cx="1809.8" cy="299.4" r="10.2" fill="#2426f0" fill-opacity="0.39"/>
<circle cx="1575.7" cy="301.9" r="7.9" fill="#2426f0" fill-opacity="0.39"/>
<circle cx="1613.5" cy="301.9" r="9.1" fill="#2426f0" fill-opacity="0.39"/>
<circle cx="1595.8" cy="319.5" r="7.9" fill="#2426f0" fill-opacity="0.33"/>
<circle cx="1656.2" cy="312.0" r="9.1" fill="#2426f0" fill-opacity="0.42"/>
<circle cx="1719.2" cy="314.5" r="9.1" fill="#2426f0" fill-opacity="0.42"/>
<circle cx="1759.4" cy="314.5" r="10.2" fill="#2426f0" fill-opacity="0.45"/>
<circle cx="1812.3" cy="301.9" r="7.9" fill="#2426f0" fill-opacity="0.33"/>
<circle cx="1842.5" cy="317.0" r="10.2" fill="#2426f0" fill-opacity="0.42"/>
<circle cx="1631.1" cy="329.6" r="9.1" fill="#2426f0" fill-opacity="0.36"/>
<circle cx="1686.4" cy="327.0" r="9.1" fill="#2426f0" fill-opacity="0.39"/>
<circle cx="1784.6" cy="327.0" r="11.3" fill="#2426f0" fill-opacity="0.42"/>
<circle cx="1955.8" cy="322.0" r="6.8" fill="#2426f0" fill-opacity="0.25"/>
<circle cx="1870.2" cy="342.1" r="9.1" fill="#2426f0" fill-opacity="0.31"/>
<circle cx="1907.9" cy="342.1" r="9.1" fill="#2426f0" fill-opacity="0.33"/>
<circle cx="1603.4" cy="339.6" r="10.2" fill="#2426f0" fill-opacity="0.45"/>
<circle cx="1573.2" cy="364.7" r="10.2" fill="#2426f0" fill-opacity="0.42"/>
<circle cx="1588.3" cy="367.3" r="9.1" fill="#2426f0" fill-opacity="0.39"/>
<circle cx="1646.2" cy="362.2" r="10.2" fill="#2426f0" fill-opacity="0.45"/>
<circle cx="1678.9" cy="352.2" r="9.1" fill="#2426f0" fill-opacity="0.47"/>
<circle cx="1711.6" cy="354.7" r="10.2" fill="#2426f0" fill-opacity="0.45"/>
<circle cx="1832.4" cy="379.8" r="9.1" fill="#2426f0" fill-opacity="0.31"/>
<circle cx="1872.7" cy="384.8" r="10.2" fill="#2426f0" fill-opacity="0.36"/>
<circle cx="1913.0" cy="399.9" r="7.9" fill="#2426f0" fill-opacity="0.28"/>
<circle cx="1610.9" cy="384.8" r="7.9" fill="#2426f0" fill-opacity="0.28"/>
<circle cx="1638.6" cy="404.9" r="10.2" fill="#2426f0" fill-opacity="0.45"/>
<circle cx="1666.3" cy="399.9" r="9.1" fill="#2426f0" fill-opacity="0.36"/>
<circle cx="1540.5" cy="399.9" r="7.9" fill="#2426f0" fill-opacity="0.25"/>
<circle cx="1948.2" cy="362.2" r="7.9" fill="#2426f0" fill-opacity="0.25"/>
<circle cx="1945.7" cy="339.6" r="6.8" fill="#2426f0" fill-opacity="0.22"/>
<circle cx="1500.2" cy="362.2" r="6.8" fill="#2426f0" fill-opacity="0.20"/>
</g>
<g filter="url(#blur)" style="mix-blend-mode:screen">
<circle cx="1485.1" cy="55.7" r="13.8" fill="#d01830" fill-opacity="0.16"/>
<circle cx="1600.9" cy="50.6" r="8.8" fill="#d01830" fill-opacity="0.18"/>
<circle cx="1694.0" cy="50.6" r="10.1" fill="#d01830" fill-opacity="0.22"/>
<circle cx="1729.2" cy="60.7" r="7.6" fill="#d01830" fill-opacity="0.14"/>
<circle cx="1759.4" cy="63.2" r="7.6" fill="#d01830" fill-opacity="0.16"/>
<circle cx="1804.7" cy="50.6" r="8.8" fill="#d01830" fill-opacity="0.16"/>
<circle cx="1842.5" cy="48.1" r="7.6" fill="#d01830" fill-opacity="0.14"/>
<circle cx="1925.5" cy="43.1" r="11.3" fill="#d01830" fill-opacity="0.25"/>
<circle cx="1902.9" cy="73.3" r="8.8" fill="#d01830" fill-opacity="0.18"/>
<circle cx="1636.1" cy="98.4" r="10.1" fill="#d01830" fill-opacity="0.29"/>
<circle cx="1658.8" cy="73.3" r="7.6" fill="#d01830" fill-opacity="0.16"/>
<circle cx="1714.1" cy="93.4" r="10.1" fill="#d01830" fill-opacity="0.25"/>
<circle cx="1746.9" cy="95.9" r="8.8" fill="#d01830" fill-opacity="0.22"/>
<circle cx="1787.1" cy="73.3" r="8.8" fill="#d01830" fill-opacity="0.22"/>
<circle cx="1814.8" cy="85.8" r="10.1" fill="#d01830" fill-opacity="0.25"/>
<circle cx="1842.5" cy="75.8" r="10.1" fill="#d01830" fill-opacity="0.29"/>
<circle cx="1865.1" cy="75.8" r="10.1" fill="#d01830" fill-opacity="0.29"/>
<circle cx="1867.7" cy="98.4" r="8.8" fill="#d01830" fill-opacity="0.22"/>
<circle cx="1804.7" cy="110.9" r="8.8" fill="#d01830" fill-opacity="0.25"/>
<circle cx="1777.1" cy="108.4" r="8.8" fill="#d01830" fill-opacity="0.22"/>
<circle cx="1847.5" cy="110.9" r="8.8" fill="#d01830" fill-opacity="0.22"/>
<circle cx="1550.5" cy="108.4" r="10.1" fill="#d01830" fill-opacity="0.18"/>
<circle cx="1507.8" cy="95.9" r="8.8" fill="#d01830" fill-opacity="0.16"/>
<circle cx="1603.4" cy="98.4" r="7.6" fill="#d01830" fill-opacity="0.16"/>
<circle cx="1678.9" cy="100.9" r="7.6" fill="#d01830" fill-opacity="0.16"/>
<circle cx="1887.8" cy="95.9" r="7.6" fill="#d01830" fill-opacity="0.16"/>
<circle cx="1628.6" cy="133.6" r="10.1" fill="#d01830" fill-opacity="0.31"/>
<circle cx="1663.8" cy="131.0" r="8.8" fill="#d01830" fill-opacity="0.22"/>
<circle cx="1716.7" cy="131.0" r="8.8" fill="#d01830" fill-opacity="0.18"/>
<circle cx="1754.4" cy="128.5" r="8.8" fill="#d01830" fill-opacity="0.20"/>
<circle cx="1792.2" cy="131.0" r="8.8" fill="#d01830" fill-opacity="0.22"/>
<circle cx="1827.4" cy="148.6" r="11.3" fill="#d01830" fill-opacity="0.31"/>
<circle cx="1847.5" cy="138.6" r="8.8" fill="#d01830" fill-opacity="0.22"/>
<circle cx="1872.7" cy="156.2" r="10.1" fill="#d01830" fill-opacity="0.27"/>
<circle cx="1910.4" cy="131.0" r="11.3" fill="#d01830" fill-opacity="0.29"/>
<circle cx="1923.0" cy="148.6" r="12.6" fill="#d01830" fill-opacity="0.29"/>
<circle cx="1940.6" cy="158.7" r="11.3" fill="#d01830" fill-opacity="0.27"/>
<circle cx="1955.8" cy="151.2" r="8.8" fill="#d01830" fill-opacity="0.25"/>
<circle cx="1918.0" cy="123.5" r="10.1" fill="#d01830" fill-opacity="0.25"/>
<circle cx="1943.2" cy="123.5" r="8.8" fill="#d01830" fill-opacity="0.22"/>
<circle cx="1482.6" cy="131.0" r="10.1" fill="#d01830" fill-opacity="0.18"/>
<circle cx="1480.1" cy="153.7" r="10.1" fill="#d01830" fill-opacity="0.16"/>
<circle cx="1507.8" cy="161.2" r="8.8" fill="#d01830" fill-opacity="0.18"/>
<circle cx="1565.6" cy="163.7" r="11.3" fill="#d01830" fill-opacity="0.22"/>
<circle cx="1595.8" cy="146.1" r="10.1" fill="#d01830" fill-opacity="0.20"/>
<circle cx="1633.6" cy="163.7" r="11.3" fill="#d01830" fill-opacity="0.29"/>
<circle cx="1656.2" cy="161.2" r="10.1" fill="#d01830" fill-opacity="0.27"/>
<circle cx="1769.5" cy="156.2" r="8.8" fill="#d01830" fill-opacity="0.20"/>
<circle cx="1797.2" cy="166.2" r="8.8" fill="#d01830" fill-opacity="0.22"/>
<circle cx="1933.1" cy="178.8" r="10.1" fill="#d01830" fill-opacity="0.25"/>
<circle cx="1940.6" cy="188.8" r="8.8" fill="#d01830" fill-opacity="0.22"/>
<circle cx="1731.8" cy="176.3" r="10.1" fill="#d01830" fill-opacity="0.29"/>
<circle cx="1754.4" cy="186.3" r="8.8" fill="#d01830" fill-opacity="0.23"/>
<circle cx="1711.6" cy="186.3" r="8.8" fill="#d01830" fill-opacity="0.22"/>
<circle cx="1689.0" cy="193.9" r="8.8" fill="#d01830" fill-opacity="0.22"/>
<circle cx="1792.2" cy="196.4" r="12.6" fill="#d01830" fill-opacity="0.36"/>
<circle cx="1822.4" cy="183.8" r="10.1" fill="#d01830" fill-opacity="0.25"/>
<circle cx="1862.6" cy="181.3" r="8.8" fill="#d01830" fill-opacity="0.27"/>
<circle cx="1900.4" cy="188.8" r="8.8" fill="#d01830" fill-opacity="0.25"/>
<circle cx="1517.8" cy="193.9" r="10.1" fill="#d01830" fill-opacity="0.23"/>
<circle cx="1535.4" cy="191.4" r="8.8" fill="#d01830" fill-opacity="0.22"/>
<circle cx="1573.2" cy="201.4" r="10.1" fill="#d01830" fill-opacity="0.25"/>
<circle cx="1610.9" cy="198.9" r="8.8" fill="#d01830" fill-opacity="0.22"/>
<circle cx="1651.2" cy="198.9" r="10.1" fill="#d01830" fill-opacity="0.23"/>
<circle cx="1913.0" cy="168.7" r="8.8" fill="#d01830" fill-opacity="0.22"/>
<circle cx="1590.8" cy="216.5" r="10.1" fill="#d01830" fill-opacity="0.27"/>
<circle cx="1613.5" cy="214.0" r="11.3" fill="#d01830" fill-opacity="0.29"/>
<circle cx="1641.1" cy="219.0" r="13.8" fill="#d01830" fill-opacity="0.36"/>
<circle cx="1668.8" cy="219.0" r="10.1" fill="#d01830" fill-opacity="0.29"/>
<circle cx="1691.5" cy="211.5" r="10.1" fill="#d01830" fill-opacity="0.29"/>
<circle cx="1711.6" cy="203.9" r="10.1" fill="#d01830" fill-opacity="0.29"/>
<circle cx="1762.0" cy="219.0" r="10.1" fill="#d01830" fill-opacity="0.25"/>
<circle cx="1797.2" cy="219.0" r="11.3" fill="#d01830" fill-opacity="0.29"/>
<circle cx="1834.9" cy="203.9" r="11.3" fill="#d01830" fill-opacity="0.31"/>
<circle cx="1855.1" cy="214.0" r="10.1" fill="#d01830" fill-opacity="0.25"/>
<circle cx="1832.4" cy="229.0" r="8.8" fill="#d01830" fill-opacity="0.27"/>
<circle cx="1847.5" cy="229.0" r="8.8" fill="#d01830" fill-opacity="0.27"/>
<circle cx="1495.2" cy="219.0" r="8.8" fill="#d01830" fill-opacity="0.22"/>
<circle cx="1535.4" cy="224.0" r="10.1" fill="#d01830" fill-opacity="0.22"/>
<circle cx="1610.9" cy="231.6" r="11.3" fill="#d01830" fill-opacity="0.31"/>
<circle cx="1653.7" cy="234.1" r="10.1" fill="#d01830" fill-opacity="0.27"/>
<circle cx="1585.8" cy="236.6" r="8.8" fill="#d01830" fill-opacity="0.22"/>
<circle cx="1633.6" cy="244.1" r="8.8" fill="#d01830" fill-opacity="0.22"/>
<circle cx="1668.8" cy="244.1" r="8.8" fill="#d01830" fill-opacity="0.23"/>
<circle cx="1696.5" cy="239.1" r="8.8" fill="#d01830" fill-opacity="0.22"/>
<circle cx="1734.3" cy="239.1" r="10.1" fill="#d01830" fill-opacity="0.25"/>
<circle cx="1480.1" cy="241.6" r="10.1" fill="#d01830" fill-opacity="0.20"/>
<circle cx="1986.0" cy="229.0" r="7.6" fill="#d01830" fill-opacity="0.13"/>
<circle cx="1797.2" cy="231.6" r="8.8" fill="#d01830" fill-opacity="0.22"/>
<circle cx="1540.5" cy="256.7" r="11.3" fill="#d01830" fill-opacity="0.29"/>
<circle cx="1558.1" cy="256.7" r="10.1" fill="#d01830" fill-opacity="0.25"/>
<circle cx="1610.9" cy="256.7" r="8.8" fill="#d01830" fill-opacity="0.22"/>
<circle cx="1709.1" cy="251.7" r="10.1" fill="#d01830" fill-opacity="0.22"/>
<circle cx="1784.6" cy="254.2" r="8.8" fill="#d01830" fill-opacity="0.23"/>
<circle cx="1535.4" cy="271.8" r="10.1" fill="#d01830" fill-opacity="0.27"/>
<circle cx="1538.0" cy="284.3" r="10.1" fill="#d01830" fill-opacity="0.27"/>
<circle cx="1633.6" cy="281.8" r="10.1" fill="#d01830" fill-opacity="0.27"/>
<circle cx="1661.3" cy="279.3" r="10.1" fill="#d01830" fill-opacity="0.29"/>
<circle cx="1683.9" cy="271.8" r="10.1" fill="#d01830" fill-opacity="0.27"/>
<circle cx="1719.2" cy="274.3" r="10.1" fill="#d01830" fill-opacity="0.22"/>
<circle cx="1749.4" cy="281.8" r="12.6" fill="#d01830" fill-opacity="0.31"/>
<circle cx="1787.1" cy="286.8" r="11.3" fill="#d01830" fill-opacity="0.31"/>
<circle cx="1699.0" cy="291.9" r="10.1" fill="#d01830" fill-opacity="0.29"/>
<circle cx="1578.2" cy="281.8" r="7.6" fill="#d01830" fill-opacity="0.14"/>
<circle cx="1840.0" cy="264.2" r="7.6" fill="#d01830" fill-opacity="0.14"/>
<circle cx="1933.1" cy="286.8" r="8.8" fill="#d01830" fill-opacity="0.18"/>
<circle cx="1862.6" cy="296.9" r="7.6" fill="#d01830" fill-opacity="0.16"/>
<circle cx="1897.9" cy="294.4" r="7.6" fill="#d01830" fill-opacity="0.16"/>
<circle cx="1809.8" cy="299.4" r="11.3" fill="#d01830" fill-opacity="0.25"/>
<circle cx="1575.7" cy="301.9" r="8.8" fill="#d01830" fill-opacity="0.25"/>
<circle cx="1613.5" cy="301.9" r="10.1" fill="#d01830" fill-opacity="0.25"/>
<circle cx="1595.8" cy="319.5" r="8.8" fill="#d01830" fill-opacity="0.22"/>
<circle cx="1656.2" cy="312.0" r="10.1" fill="#d01830" fill-opacity="0.27"/>
<circle cx="1719.2" cy="314.5" r="10.1" fill="#d01830" fill-opacity="0.27"/>
<circle cx="1759.4" cy="314.5" r="11.3" fill="#d01830" fill-opacity="0.29"/>
<circle cx="1812.3" cy="301.9" r="8.8" fill="#d01830" fill-opacity="0.22"/>
<circle cx="1842.5" cy="317.0" r="11.3" fill="#d01830" fill-opacity="0.27"/>
<circle cx="1631.1" cy="329.6" r="10.1" fill="#d01830" fill-opacity="0.23"/>
<circle cx="1686.4" cy="327.0" r="10.1" fill="#d01830" fill-opacity="0.25"/>
<circle cx="1784.6" cy="327.0" r="12.6" fill="#d01830" fill-opacity="0.27"/>
<circle cx="1955.8" cy="322.0" r="7.6" fill="#d01830" fill-opacity="0.16"/>
<circle cx="1870.2" cy="342.1" r="10.1" fill="#d01830" fill-opacity="0.20"/>
<circle cx="1907.9" cy="342.1" r="10.1" fill="#d01830" fill-opacity="0.22"/>
<circle cx="1603.4" cy="339.6" r="11.3" fill="#d01830" fill-opacity="0.29"/>
<circle cx="1573.2" cy="364.7" r="11.3" fill="#d01830" fill-opacity="0.27"/>
<circle cx="1588.3" cy="367.3" r="10.1" fill="#d01830" fill-opacity="0.25"/>
<circle cx="1646.2" cy="362.2" r="11.3" fill="#d01830" fill-opacity="0.29"/>
<circle cx="1678.9" cy="352.2" r="10.1" fill="#d01830" fill-opacity="0.31"/>
<circle cx="1711.6" cy="354.7" r="11.3" fill="#d01830" fill-opacity="0.29"/>
<circle cx="1832.4" cy="379.8" r="10.1" fill="#d01830" fill-opacity="0.20"/>
<circle cx="1872.7" cy="384.8" r="11.3" fill="#d01830" fill-opacity="0.23"/>
<circle cx="1913.0" cy="399.9" r="8.8" fill="#d01830" fill-opacity="0.18"/>
<circle cx="1610.9" cy="384.8" r="8.8" fill="#d01830" fill-opacity="0.18"/>
<circle cx="1638.6" cy="404.9" r="11.3" fill="#d01830" fill-opacity="0.29"/>
<circle cx="1666.3" cy="399.9" r="10.1" fill="#d01830" fill-opacity="0.23"/>
<circle cx="1540.5" cy="399.9" r="8.8" fill="#d01830" fill-opacity="0.16"/>
<circle cx="1948.2" cy="362.2" r="8.8" fill="#d01830" fill-opacity="0.16"/>
<circle cx="1945.7" cy="339.6" r="7.6" fill="#d01830" fill-opacity="0.14"/>
<circle cx="1500.2" cy="362.2" r="7.6" fill="#d01830" fill-opacity="0.13"/>
</g>
</g></g>
<text x="1511.0" y="79.3" font-family="'Liberation Serif','Times New Roman',serif" font-size="42" fill="#dcdcdc">Merged</text>
<rect x="1920" y="393" width="53" height="16" fill="#f6f6f6" stroke="#9a9a9a" stroke-width="2"/>
<text x="1946.5" y="404" font-family="'Liberation Serif','Times New Roman',serif" font-size="8" fill="#777" text-anchor="middle">20 µm</text>
<rect x="408" y="429" width="521" height="393" fill="#6f6f6f"/>
<clipPath id="clipA10"><rect x="411" y="432" width="515" height="387"/></clipPath>
<rect x="411" y="432" width="515" height="387" fill="#010005"/>
<g clip-path="url(#clipA10)"><g style="isolation:isolate">
<g filter="url(#blur)">
<ellipse cx="425.6" cy="486.7" rx="12.4" ry="7.4" transform="rotate(-30 425.6 486.7)" fill="#2426f0" fill-opacity="0.70"/>
<ellipse cx="470.7" cy="444.0" rx="10.8" ry="6.5" transform="rotate(-80 470.7 444.0)" fill="#2426f0" fill-opacity="0.50"/>
<ellipse cx="518.3" cy="436.5" rx="9.3" ry="5.6" transform="rotate(-40 518.3 436.5)" fill="#2426f0" fill-opacity="0.40"/>
<ellipse cx="553.4" cy="454.1" rx="12.4" ry="7.4" transform="rotate(50 553.4 454.1)" fill="#2426f0" fill-opacity="0.60"/>
<ellipse cx="543.4" cy="491.7" rx="10.8" ry="6.5" transform="rotate(-80 543.4 491.7)" fill="#2426f0" fill-opacity="0.60"/>
<ellipse cx="558.4" cy="501.7" rx="12.4" ry="7.4" transform="rotate(-40 558.4 501.7)" fill="#2426f0" fill-opacity="0.70"/>
<ellipse cx="586.0" cy="476.7" rx="10.8" ry="6.5" transform="rotate(-30 586.0 476.7)" fill="#2426f0" fill-opacity="0.60"/>
<ellipse cx="626.1" cy="444.0" rx="13.9" ry="8.4" transform="rotate(-60 626.1 444.0)" fill="#2426f0" fill-opacity="0.60"/>
<ellipse cx="648.7" cy="451.6" rx="9.3" ry="5.6" transform="rotate(60 648.7 451.6)" fill="#2426f0" fill-opacity="0.50"/>
<ellipse cx="643.7" cy="471.6" rx="9.3" ry="5.6" transform="rotate(60 643.7 471.6)" fill="#2426f0" fill-opacity="0.70"/>
<ellipse cx="631.1" cy="491.7" rx="12.4" ry="7.4" transform="rotate(30 631.1 491.7)" fill="#2426f0" fill-opacity="0.60"/>
<ellipse cx="683.8" cy="479.2" rx="12.4" ry="7.4" transform="rotate(-50 683.8 479.2)" fill="#2426f0" fill-opacity="0.70"/>
<ellipse cx="739.0" cy="486.7" rx="10.8" ry="6.5" transform="rotate(80 739.0 486.7)" fill="#2426f0" fill-opacity="0.75"/>
<ellipse cx="794.1" cy="479.2" rx="13.9" ry="8.4" transform="rotate(-30 794.1 479.2)" fill="#2426f0" fill-opacity="0.75"/>
<ellipse cx="789.1" cy="439.0" rx="9.3" ry="5.6" transform="rotate(-90 789.1 439.0)" fill="#2426f0" fill-opacity="0.45"/>
<ellipse cx="846.8" cy="444.0" rx="10.8" ry="6.5" transform="rotate(-20 846.8 444.0)" fill="#2426f0" fill-opacity="0.45"/>
<ellipse cx="899.4" cy="444.0" rx="9.3" ry="5.6" transform="rotate(10 899.4 444.0)" fill="#2426f0" fill-opacity="0.40"/>
<ellipse cx="899.4" cy="469.1" rx="9.3" ry="5.6" transform="rotate(50 899.4 469.1)" fill="#2426f0" fill-opacity="0.50"/>
<ellipse cx="771.5" cy="506.7" rx="13.9" ry="8.4" transform="rotate(50 771.5 506.7)" fill="#2426f0" fill-opacity="0.90"/>
<ellipse cx="804.1" cy="516.8" rx="10.8" ry="6.5" transform="rotate(40 804.1 516.8)" fill="#2426f0" fill-opacity="0.60"/>
<ellipse cx="849.3" cy="506.7" rx="13.9" ry="8.4" transform="rotate(60 849.3 506.7)" fill="#2426f0" fill-opacity="0.70"/>
<ellipse cx="884.4" cy="496.7" rx="12.4" ry="7.4" transform="rotate(-20 884.4 496.7)" fill="#2426f0" fill-opacity="0.70"/>
<ellipse cx="465.7" cy="516.8" rx="10.8" ry="6.5" transform="rotate(-50 465.7 516.8)" fill="#2426f0" fill-opacity="0.60"/>
<ellipse cx="733.9" cy="434.0" rx="9.3" ry="5.6" transform="rotate(-90 733.9 434.0)" fill="#2426f0" fill-opacity="0.30"/>
<ellipse cx="490.7" cy="544.4" rx="10.8" ry="6.5" transform="rotate(-80 490.7 544.4)" fill="#2426f0" fill-opacity="0.60"/>
<ellipse cx="530.9" cy="534.3" rx="10.8" ry="6.5" transform="rotate(-20 530.9 534.3)" fill="#2426f0" fill-opacity="0.55"/>
<ellipse cx="591.0" cy="549.4" rx="12.4" ry="7.4" transform="rotate(-80 591.0 549.4)" fill="#2426f0" fill-opacity="0.55"/>
<ellipse cx="633.6" cy="524.3" rx="13.9" ry="8.4" transform="rotate(-10 633.6 524.3)" fill="#2426f0" fill-opacity="0.60"/>
<ellipse cx="658.7" cy="536.8" rx="10.8" ry="6.5" transform="rotate(80 658.7 536.8)" fill="#2426f0" fill-opacity="0.60"/>
<ellipse cx="678.8" cy="544.4" rx="10.8" ry="6.5" transform="rotate(-50 678.8 544.4)" fill="#2426f0" fill-opacity="0.55"/>
<ellipse cx="693.8" cy="524.3" rx="15.5" ry="9.3" transform="rotate(50 693.8 524.3)" fill="#2426f0" fill-opacity="0.75"/>
<ellipse cx="746.5" cy="541.9" rx="10.8" ry="6.5" transform="rotate(-90 746.5 541.9)" fill="#2426f0" fill-opacity="0.65"/>
<ellipse cx="784.1" cy="551.9" rx="15.5" ry="9.3" transform="rotate(40 784.1 551.9)" fill="#2426f0" fill-opacity="0.75"/>
<ellipse cx="794.1" cy="566.9" rx="15.5" ry="9.3" transform="rotate(20 794.1 566.9)" fill="#2426f0" fill-opacity="0.75"/>
<ellipse cx="919.5" cy="526.8" rx="9.3" ry="5.6" transform="rotate(0 919.5 526.8)" fill="#2426f0" fill-opacity="0.55"/>
<ellipse cx="453.1" cy="559.4" rx="10.8" ry="6.5" transform="rotate(10 453.1 559.4)" fill="#2426f0" fill-opacity="0.60"/>
<ellipse cx="533.4" cy="582.0" rx="12.4" ry="7.4" transform="rotate(0 533.4 582.0)" fill="#2426f0" fill-opacity="0.70"/>
<ellipse cx="643.7" cy="574.5" rx="17.0" ry="10.2" transform="rotate(-10 643.7 574.5)" fill="#2426f0" fill-opacity="0.75"/>
<ellipse cx="721.4" cy="582.0" rx="10.8" ry="6.5" transform="rotate(30 721.4 582.0)" fill="#2426f0" fill-opacity="0.60"/>
<ellipse cx="754.0" cy="579.5" rx="10.8" ry="6.5" transform="rotate(-90 754.0 579.5)" fill="#2426f0" fill-opacity="0.80"/>
<ellipse cx="874.3" cy="566.9" rx="9.3" ry="5.6" transform="rotate(-80 874.3 566.9)" fill="#4aa0ff" fill-opacity="1.00"/>
<ellipse cx="901.9" cy="584.5" rx="12.4" ry="7.4" transform="rotate(-20 901.9 584.5)" fill="#2426f0" fill-opacity="0.70"/>
<ellipse cx="824.2" cy="587.0" rx="10.8" ry="6.5" transform="rotate(-80 824.2 587.0)" fill="#2426f0" fill-opacity="0.60"/>
<ellipse cx="413.0" cy="582.0" rx="9.3" ry="5.6" transform="rotate(60 413.0 582.0)" fill="#2426f0" fill-opacity="0.40"/>
<ellipse cx="500.8" cy="602.1" rx="12.4" ry="7.4" transform="rotate(-50 500.8 602.1)" fill="#2426f0" fill-opacity="0.55"/>
<ellipse cx="573.5" cy="599.5" rx="12.4" ry="7.4" transform="rotate(50 573.5 599.5)" fill="#2426f0" fill-opacity="0.55"/>
<ellipse cx="683.8" cy="592.0" rx="15.5" ry="9.3" transform="rotate(40 683.8 592.0)" fill="#2426f0" fill-opacity="0.65"/>
<ellipse cx="739.0" cy="607.1" rx="12.4" ry="7.4" transform="rotate(20 739.0 607.1)" fill="#2426f0" fill-opacity="0.75"/>
<ellipse cx="779.1" cy="617.1" rx="12.4" ry="7.4" transform="rotate(40 779.1 617.1)" fill="#2426f0" fill-opacity="0.55"/>
<ellipse cx="854.3" cy="602.1" rx="10.8" ry="6.5" transform="rotate(-80 854.3 602.1)" fill="#2426f0" fill-opacity="0.55"/>
<ellipse cx="909.4" cy="619.6" rx="10.8" ry="6.5" transform="rotate(30 909.4 619.6)" fill="#2426f0" fill-opacity="0.55"/>
<ellipse cx="463.2" cy="617.1" rx="13.9" ry="8.4" transform="rotate(40 463.2 617.1)" fill="#2426f0" fill-opacity="0.85"/>
<ellipse cx="540.9" cy="622.1" rx="12.4" ry="7.4" transform="rotate(-50 540.9 622.1)" fill="#2426f0" fill-opacity="0.65"/>
<ellipse cx="513.3" cy="634.7" rx="9.3" ry="5.6" transform="rotate(10 513.3 634.7)" fill="#4aa0ff" fill-opacity="1.00"/>
<ellipse cx="673.8" cy="624.6" rx="15.5" ry="9.3" transform="rotate(10 673.8 624.6)" fill="#2426f0" fill-opacity="0.70"/>
<ellipse cx="703.9" cy="627.1" rx="15.5" ry="9.3" transform="rotate(80 703.9 627.1)" fill="#2426f0" fill-opacity="0.60"/>
<ellipse cx="751.5" cy="632.1" rx="10.8" ry="6.5" transform="rotate(50 751.5 632.1)" fill="#2426f0" fill-opacity="0.70"/>
<ellipse cx="643.7" cy="639.7" rx="13.9" ry="8.4" transform="rotate(-50 643.7 639.7)" fill="#2426f0" fill-opacity="0.75"/>
<ellipse cx="623.6" cy="649.7" rx="10.8" ry="6.5" transform="rotate(-90 623.6 649.7)" fill="#2426f0" fill-opacity="0.60"/>
<ellipse cx="799.1" cy="639.7" rx="10.8" ry="6.5" transform="rotate(-30 799.1 639.7)" fill="#2426f0" fill-opacity="0.60"/>
<ellipse cx="824.2" cy="627.1" rx="10.8" ry="6.5" transform="rotate(20 824.2 627.1)" fill="#2426f0" fill-opacity="0.55"/>
<ellipse cx="874.3" cy="637.2" rx="12.4" ry="7.4" transform="rotate(-40 874.3 637.2)" fill="#2426f0" fill-opacity="0.55"/>
<ellipse cx="473.2" cy="644.7" rx="17.0" ry="10.2" transform="rotate(-50 473.2 644.7)" fill="#2426f0" fill-opacity="0.60"/>
<ellipse cx="418.0" cy="654.7" rx="12.4" ry="7.4" transform="rotate(10 418.0 654.7)" fill="#2426f0" fill-opacity="0.75"/>
<ellipse cx="756.5" cy="652.2" rx="10.8" ry="6.5" transform="rotate(-30 756.5 652.2)" fill="#2426f0" fill-opacity="0.60"/>
<ellipse cx="593.5" cy="672.3" rx="9.3" ry="5.6" transform="rotate(60 593.5 672.3)" fill="#4aa0ff" fill-opacity="0.95"/>
<ellipse cx="784.1" cy="662.2" rx="9.3" ry="5.6" transform="rotate(0 784.1 662.2)" fill="#4aa0ff" fill-opacity="1.00"/>
<ellipse cx="653.7" cy="679.8" rx="9.3" ry="5.6" transform="rotate(-30 653.7 679.8)" fill="#4aa0ff" fill-opacity="1.00"/>
<ellipse cx="678.8" cy="677.3" rx="12.4" ry="7.4" transform="rotate(0 678.8 677.3)" fill="#2426f0" fill-opacity="0.60"/>
<ellipse cx="558.4" cy="672.3" rx="10.8" ry="6.5" transform="rotate(-20 558.4 672.3)" fill="#2426f0" fill-opacity="0.60"/>
<ellipse cx="518.3" cy="677.3" rx="12.4" ry="7.4" transform="rotate(20 518.3 677.3)" fill="#2426f0" fill-opacity="0.65"/>
<ellipse cx="814.2" cy="682.3" rx="17.0" ry="10.2" transform="rotate(80 814.2 682.3)" fill="#2426f0" fill-opacity="0.60"/>
<ellipse cx="495.8" cy="702.4" rx="17.0" ry="10.2" transform="rotate(-30 495.8 702.4)" fill="#2426f0" fill-opacity="0.75"/>
<ellipse cx="708.9" cy="697.4" rx="11.6" ry="7.0" transform="rotate(80 708.9 697.4)" fill="#4aa0ff" fill-opacity="0.95"/>
<ellipse cx="751.5" cy="699.9" rx="12.4" ry="7.4" transform="rotate(-40 751.5 699.9)" fill="#2426f0" fill-opacity="0.60"/>
<ellipse cx="889.4" cy="699.9" rx="21.7" ry="13.0" transform="rotate(30 889.4 699.9)" fill="#2426f0" fill-opacity="0.65"/>
<ellipse cx="438.1" cy="719.9" rx="12.4" ry="7.4" transform="rotate(-10 438.1 719.9)" fill="#2426f0" fill-opacity="0.55"/>
<ellipse cx="423.0" cy="730.0" rx="4.6" ry="2.8" transform="rotate(-90 423.0 730.0)" fill="#2426f0" fill-opacity="0.60"/>
<ellipse cx="530.9" cy="732.5" rx="17.0" ry="10.2" transform="rotate(-10 530.9 732.5)" fill="#2426f0" fill-opacity="0.60"/>
<ellipse cx="621.1" cy="719.9" rx="12.4" ry="7.4" transform="rotate(60 621.1 719.9)" fill="#2426f0" fill-opacity="0.55"/>
<ellipse cx="648.7" cy="732.5" rx="15.5" ry="9.3" transform="rotate(40 648.7 732.5)" fill="#2426f0" fill-opacity="0.70"/>
<ellipse cx="764.0" cy="727.4" rx="15.5" ry="9.3" transform="rotate(-60 764.0 727.4)" fill="#2426f0" fill-opacity="0.65"/>
<ellipse cx="912.0" cy="730.0" rx="9.3" ry="5.6" transform="rotate(60 912.0 730.0)" fill="#2426f0" fill-opacity="0.50"/>
<ellipse cx="759.0" cy="740.0" rx="10.8" ry="6.5" transform="rotate(-90 759.0 740.0)" fill="#2426f0" fill-opacity="0.50"/>
<ellipse cx="490.7" cy="757.5" rx="12.4" ry="7.4" transform="rotate(-10 490.7 757.5)" fill="#2426f0" fill-opacity="0.60"/>
<ellipse cx="550.9" cy="767.6" rx="11.6" ry="7.0" transform="rotate(30 550.9 767.6)" fill="#4aa0ff" fill-opacity="0.95"/>
<ellipse cx="854.3" cy="760.1" rx="15.5" ry="9.3" transform="rotate(10 854.3 760.1)" fill="#2426f0" fill-opacity="0.75"/>
<ellipse cx="922.0" cy="755.0" rx="7.7" ry="4.6" transform="rotate(20 922.0 755.0)" fill="#2426f0" fill-opacity="0.55"/>
<ellipse cx="448.1" cy="785.1" rx="10.8" ry="6.5" transform="rotate(50 448.1 785.1)" fill="#2426f0" fill-opacity="0.60"/>
<ellipse cx="480.7" cy="792.7" rx="12.4" ry="7.4" transform="rotate(-90 480.7 792.7)" fill="#2426f0" fill-opacity="0.50"/>
<ellipse cx="601.1" cy="787.6" rx="12.4" ry="7.4" transform="rotate(-50 601.1 787.6)" fill="#2426f0" fill-opacity="0.75"/>
<ellipse cx="641.2" cy="790.1" rx="12.4" ry="7.4" transform="rotate(-60 641.2 790.1)" fill="#2426f0" fill-opacity="0.70"/>
<ellipse cx="701.3" cy="772.6" rx="15.5" ry="9.3" transform="rotate(-10 701.3 772.6)" fill="#2426f0" fill-opacity="0.60"/>
<ellipse cx="733.9" cy="775.1" rx="12.4" ry="7.4" transform="rotate(-50 733.9 775.1)" fill="#2426f0" fill-opacity="0.55"/>
<ellipse cx="776.6" cy="790.1" rx="12.4" ry="7.4" transform="rotate(-60 776.6 790.1)" fill="#2426f0" fill-opacity="0.50"/>
<ellipse cx="834.2" cy="800.2" rx="10.8" ry="6.5" transform="rotate(-90 834.2 800.2)" fill="#2426f0" fill-opacity="0.45"/>
<ellipse cx="896.9" cy="787.6" rx="10.8" ry="6.5" transform="rotate(-70 896.9 787.6)" fill="#2426f0" fill-opacity="0.50"/>
<ellipse cx="513.3" cy="807.7" rx="10.8" ry="6.5" transform="rotate(-20 513.3 807.7)" fill="#2426f0" fill-opacity="0.55"/>
<ellipse cx="558.4" cy="805.2" rx="10.8" ry="6.5" transform="rotate(30 558.4 805.2)" fill="#2426f0" fill-opacity="0.55"/>
<ellipse cx="744.0" cy="812.7" rx="10.8" ry="6.5" transform="rotate(20 744.0 812.7)" fill="#2426f0" fill-opacity="0.40"/>
<ellipse cx="799.1" cy="805.2" rx="9.3" ry="5.6" transform="rotate(-90 799.1 805.2)" fill="#2426f0" fill-opacity="0.40"/>
</g>
</g></g>
<text x="433.6" y="489.6" font-family="'Liberation Serif','Times New Roman',serif" font-size="42" fill="#6f90c0">DAPI</text>
<rect x="856" y="799" width="53" height="16" fill="#f6f6f6" stroke="#9a9a9a" stroke-width="2"/>
<text x="882.5" y="810" font-family="'Liberation Serif','Times New Roman',serif" font-size="8" fill="#777" text-anchor="middle">20 µm</text>
<rect x="934" y="429" width="526" height="396" fill="#6f6f6f"/>
<clipPath id="clipA11"><rect x="937" y="432" width="520" height="390"/></clipPath>
<rect x="937" y="432" width="520" height="390" fill="#1a0008"/>
<g clip-path="url(#clipA11)"><g style="isolation:isolate">
<g filter="url(#blur)">
<ellipse cx="951.7" cy="487.1" rx="15.7" ry="10.7" transform="rotate(-30 951.7 487.1)" fill="#d01834" fill-opacity="0.20"/>
<ellipse cx="997.3" cy="444.2" rx="13.8" ry="9.3" transform="rotate(-80 997.3 444.2)" fill="#d01834" fill-opacity="0.14"/>
<ellipse cx="1045.4" cy="436.6" rx="11.8" ry="8.0" transform="rotate(-40 1045.4 436.6)" fill="#d01834" fill-opacity="0.11"/>
<ellipse cx="1080.8" cy="454.3" rx="15.7" ry="10.7" transform="rotate(50 1080.8 454.3)" fill="#d01834" fill-opacity="0.24"/>
<ellipse cx="1070.7" cy="492.2" rx="13.8" ry="9.3" transform="rotate(-80 1070.7 492.2)" fill="#d01834" fill-opacity="0.34"/>
<ellipse cx="1085.9" cy="502.3" rx="15.7" ry="10.7" transform="rotate(-40 1085.9 502.3)" fill="#d01834" fill-opacity="0.44"/>
<ellipse cx="1113.7" cy="477.0" rx="13.8" ry="9.3" transform="rotate(-30 1113.7 477.0)" fill="#d01834" fill-opacity="0.34"/>
<ellipse cx="1154.2" cy="444.2" rx="17.7" ry="12.0" transform="rotate(-60 1154.2 444.2)" fill="#d01834" fill-opacity="0.26"/>
<ellipse cx="1177.0" cy="451.7" rx="11.8" ry="8.0" transform="rotate(60 1177.0 451.7)" fill="#d01834" fill-opacity="0.24"/>
<ellipse cx="1171.9" cy="472.0" rx="11.8" ry="8.0" transform="rotate(60 1171.9 472.0)" fill="#d01834" fill-opacity="0.41"/>
<ellipse cx="1159.3" cy="492.2" rx="15.7" ry="10.7" transform="rotate(30 1159.3 492.2)" fill="#d01834" fill-opacity="0.41"/>
<ellipse cx="1212.4" cy="479.5" rx="15.7" ry="10.7" transform="rotate(-50 1212.4 479.5)" fill="#d01834" fill-opacity="0.43"/>
<ellipse cx="1268.1" cy="487.1" rx="13.8" ry="9.3" transform="rotate(80 1268.1 487.1)" fill="#d01834" fill-opacity="0.45"/>
<ellipse cx="1323.8" cy="479.5" rx="17.7" ry="12.0" transform="rotate(-30 1323.8 479.5)" fill="#d01834" fill-opacity="0.35"/>
<ellipse cx="1318.8" cy="439.1" rx="11.8" ry="8.0" transform="rotate(-90 1318.8 439.1)" fill="#d01834" fill-opacity="0.13"/>
<ellipse cx="1377.0" cy="444.2" rx="13.8" ry="9.3" transform="rotate(-20 1377.0 444.2)" fill="#d01834" fill-opacity="0.13"/>
<ellipse cx="1430.1" cy="444.2" rx="11.8" ry="8.0" transform="rotate(10 1430.1 444.2)" fill="#d01834" fill-opacity="0.11"/>
<ellipse cx="1430.1" cy="469.4" rx="11.8" ry="8.0" transform="rotate(50 1430.1 469.4)" fill="#d01834" fill-opacity="0.14"/>
<ellipse cx="1301.0" cy="507.3" rx="17.7" ry="12.0" transform="rotate(50 1301.0 507.3)" fill="#d01834" fill-opacity="0.56"/>
<ellipse cx="1333.9" cy="517.4" rx="13.8" ry="9.3" transform="rotate(40 1333.9 517.4)" fill="#d01834" fill-opacity="0.35"/>
<ellipse cx="1379.5" cy="507.3" rx="17.7" ry="12.0" transform="rotate(60 1379.5 507.3)" fill="#d01834" fill-opacity="0.29"/>
<ellipse cx="1414.9" cy="497.2" rx="15.7" ry="10.7" transform="rotate(-20 1414.9 497.2)" fill="#d01834" fill-opacity="0.20"/>
<ellipse cx="992.2" cy="517.4" rx="13.8" ry="9.3" transform="rotate(-50 992.2 517.4)" fill="#d01834" fill-opacity="0.27"/>
<ellipse cx="1263.1" cy="434.1" rx="11.8" ry="8.0" transform="rotate(-90 1263.1 434.1)" fill="#d01834" fill-opacity="0.10"/>
<ellipse cx="1017.5" cy="545.2" rx="13.8" ry="9.3" transform="rotate(-80 1017.5 545.2)" fill="#d01834" fill-opacity="0.37"/>
<ellipse cx="1058.0" cy="535.1" rx="13.8" ry="9.3" transform="rotate(-20 1058.0 535.1)" fill="#d01834" fill-opacity="0.38"/>
<ellipse cx="1118.8" cy="550.3" rx="15.7" ry="10.7" transform="rotate(-80 1118.8 550.3)" fill="#d01834" fill-opacity="0.46"/>
<ellipse cx="1161.8" cy="525.0" rx="17.7" ry="12.0" transform="rotate(-10 1161.8 525.0)" fill="#d01834" fill-opacity="0.48"/>
<ellipse cx="1187.1" cy="537.7" rx="13.8" ry="9.3" transform="rotate(80 1187.1 537.7)" fill="#d01834" fill-opacity="0.50"/>
<ellipse cx="1207.4" cy="545.2" rx="13.8" ry="9.3" transform="rotate(-50 1207.4 545.2)" fill="#d01834" fill-opacity="0.47"/>
<ellipse cx="1222.6" cy="525.0" rx="19.6" ry="13.3" transform="rotate(50 1222.6 525.0)" fill="#d01834" fill-opacity="0.59"/>
<ellipse cx="1275.7" cy="542.7" rx="13.8" ry="9.3" transform="rotate(-90 1275.7 542.7)" fill="#d01834" fill-opacity="0.51"/>
<ellipse cx="1313.7" cy="552.8" rx="19.6" ry="13.3" transform="rotate(40 1313.7 552.8)" fill="#d01834" fill-opacity="0.55"/>
<ellipse cx="1323.8" cy="568.0" rx="19.6" ry="13.3" transform="rotate(20 1323.8 568.0)" fill="#d01834" fill-opacity="0.56"/>
<ellipse cx="1450.4" cy="527.6" rx="11.8" ry="8.0" transform="rotate(0 1450.4 527.6)" fill="#d01834" fill-opacity="0.15"/>
<ellipse cx="979.6" cy="560.4" rx="13.8" ry="9.3" transform="rotate(10 979.6 560.4)" fill="#d01834" fill-opacity="0.31"/>
<ellipse cx="1060.6" cy="583.2" rx="15.7" ry="10.7" transform="rotate(0 1060.6 583.2)" fill="#d01834" fill-opacity="0.56"/>
<ellipse cx="1171.9" cy="575.6" rx="21.6" ry="14.7" transform="rotate(-10 1171.9 575.6)" fill="#d01834" fill-opacity="0.69"/>
<ellipse cx="1250.4" cy="583.2" rx="13.8" ry="9.3" transform="rotate(30 1250.4 583.2)" fill="#d01834" fill-opacity="0.54"/>
<ellipse cx="1283.3" cy="580.6" rx="13.8" ry="9.3" transform="rotate(-90 1283.3 580.6)" fill="#d01834" fill-opacity="0.68"/>
<ellipse cx="1404.8" cy="568.0" rx="15.7" ry="10.7" transform="rotate(-80 1404.8 568.0)" fill="#d01834" fill-opacity="0.49"/>
<ellipse cx="1432.7" cy="585.7" rx="15.7" ry="10.7" transform="rotate(-20 1432.7 585.7)" fill="#d01834" fill-opacity="0.29"/>
<ellipse cx="1354.2" cy="588.2" rx="13.8" ry="9.3" transform="rotate(-80 1354.2 588.2)" fill="#d01834" fill-opacity="0.42"/>
<ellipse cx="939.1" cy="583.2" rx="11.8" ry="8.0" transform="rotate(60 939.1 583.2)" fill="#d01834" fill-opacity="0.16"/>
<ellipse cx="1027.7" cy="603.4" rx="15.7" ry="10.7" transform="rotate(-50 1027.7 603.4)" fill="#d01834" fill-opacity="0.40"/>
<ellipse cx="1101.1" cy="600.8" rx="15.7" ry="10.7" transform="rotate(50 1101.1 600.8)" fill="#d01834" fill-opacity="0.49"/>
<ellipse cx="1212.4" cy="593.3" rx="19.6" ry="13.3" transform="rotate(40 1212.4 593.3)" fill="#d01834" fill-opacity="0.61"/>
<ellipse cx="1268.1" cy="608.4" rx="15.7" ry="10.7" transform="rotate(20 1268.1 608.4)" fill="#d01834" fill-opacity="0.67"/>
<ellipse cx="1308.6" cy="618.5" rx="15.7" ry="10.7" transform="rotate(40 1308.6 618.5)" fill="#d01834" fill-opacity="0.46"/>
<ellipse cx="1384.6" cy="603.4" rx="13.8" ry="9.3" transform="rotate(-80 1384.6 603.4)" fill="#d01834" fill-opacity="0.34"/>
<ellipse cx="1440.3" cy="621.1" rx="13.8" ry="9.3" transform="rotate(30 1440.3 621.1)" fill="#d01834" fill-opacity="0.22"/>
<ellipse cx="989.7" cy="618.5" rx="17.7" ry="12.0" transform="rotate(40 989.7 618.5)" fill="#d01834" fill-opacity="0.53"/>
<ellipse cx="1068.2" cy="623.6" rx="15.7" ry="10.7" transform="rotate(-50 1068.2 623.6)" fill="#d01834" fill-opacity="0.54"/>
<ellipse cx="1040.3" cy="636.2" rx="15.7" ry="10.7" transform="rotate(10 1040.3 636.2)" fill="#d01834" fill-opacity="0.77"/>
<ellipse cx="1202.3" cy="626.1" rx="19.6" ry="13.3" transform="rotate(10 1202.3 626.1)" fill="#d01834" fill-opacity="0.67"/>
<ellipse cx="1232.7" cy="628.6" rx="19.6" ry="13.3" transform="rotate(80 1232.7 628.6)" fill="#d01834" fill-opacity="0.56"/>
<ellipse cx="1280.8" cy="633.7" rx="13.8" ry="9.3" transform="rotate(50 1280.8 633.7)" fill="#d01834" fill-opacity="0.62"/>
<ellipse cx="1171.9" cy="641.3" rx="17.7" ry="12.0" transform="rotate(-50 1171.9 641.3)" fill="#d01834" fill-opacity="0.72"/>
<ellipse cx="1151.7" cy="651.4" rx="13.8" ry="9.3" transform="rotate(-90 1151.7 651.4)" fill="#d01834" fill-opacity="0.56"/>
<ellipse cx="1328.9" cy="641.3" rx="13.8" ry="9.3" transform="rotate(-30 1328.9 641.3)" fill="#d01834" fill-opacity="0.47"/>
<ellipse cx="1354.2" cy="628.6" rx="13.8" ry="9.3" transform="rotate(20 1354.2 628.6)" fill="#d01834" fill-opacity="0.39"/>
<ellipse cx="1404.8" cy="638.8" rx="15.7" ry="10.7" transform="rotate(-40 1404.8 638.8)" fill="#d01834" fill-opacity="0.30"/>
<ellipse cx="999.8" cy="646.3" rx="21.6" ry="14.7" transform="rotate(-50 999.8 646.3)" fill="#d01834" fill-opacity="0.39"/>
<ellipse cx="944.1" cy="656.4" rx="15.7" ry="10.7" transform="rotate(10 944.1 656.4)" fill="#d01834" fill-opacity="0.33"/>
<ellipse cx="1285.8" cy="653.9" rx="13.8" ry="9.3" transform="rotate(-30 1285.8 653.9)" fill="#d01834" fill-opacity="0.52"/>
<ellipse cx="1121.3" cy="674.1" rx="15.7" ry="10.7" transform="rotate(60 1121.3 674.1)" fill="#d01834" fill-opacity="0.84"/>
<ellipse cx="1313.7" cy="664.0" rx="15.7" ry="10.7" transform="rotate(0 1313.7 664.0)" fill="#d01834" fill-opacity="0.80"/>
<ellipse cx="1182.1" cy="681.7" rx="15.7" ry="10.7" transform="rotate(-30 1182.1 681.7)" fill="#d01834" fill-opacity="0.91"/>
<ellipse cx="1207.4" cy="679.2" rx="15.7" ry="10.7" transform="rotate(0 1207.4 679.2)" fill="#d01834" fill-opacity="0.55"/>
<ellipse cx="1085.9" cy="674.1" rx="13.8" ry="9.3" transform="rotate(-20 1085.9 674.1)" fill="#d01834" fill-opacity="0.50"/>
<ellipse cx="1045.4" cy="679.2" rx="15.7" ry="10.7" transform="rotate(20 1045.4 679.2)" fill="#d01834" fill-opacity="0.48"/>
<ellipse cx="1344.1" cy="684.2" rx="21.6" ry="14.7" transform="rotate(80 1344.1 684.2)" fill="#d01834" fill-opacity="0.42"/>
<ellipse cx="1022.6" cy="704.5" rx="21.6" ry="14.7" transform="rotate(-30 1022.6 704.5)" fill="#d01834" fill-opacity="0.48"/>
<ellipse cx="1237.8" cy="699.4" rx="19.6" ry="13.3" transform="rotate(80 1237.8 699.4)" fill="#d01834" fill-opacity="0.81"/>
<ellipse cx="1280.8" cy="701.9" rx="15.7" ry="10.7" transform="rotate(-40 1280.8 701.9)" fill="#d01834" fill-opacity="0.48"/>
<ellipse cx="1420.0" cy="701.9" rx="27.5" ry="18.7" transform="rotate(30 1420.0 701.9)" fill="#d01834" fill-opacity="0.26"/>
<ellipse cx="964.4" cy="722.1" rx="15.7" ry="10.7" transform="rotate(-10 964.4 722.1)" fill="#d01834" fill-opacity="0.22"/>
<ellipse cx="949.2" cy="732.3" rx="5.9" ry="4.0" transform="rotate(-90 949.2 732.3)" fill="#d01834" fill-opacity="0.18"/>
<ellipse cx="1058.0" cy="734.8" rx="21.6" ry="14.7" transform="rotate(-10 1058.0 734.8)" fill="#d01834" fill-opacity="0.38"/>
<ellipse cx="1149.2" cy="722.1" rx="15.7" ry="10.7" transform="rotate(60 1149.2 722.1)" fill="#d01834" fill-opacity="0.45"/>
<ellipse cx="1177.0" cy="734.8" rx="19.6" ry="13.3" transform="rotate(40 1177.0 734.8)" fill="#d01834" fill-opacity="0.55"/>
<ellipse cx="1293.4" cy="729.7" rx="19.6" ry="13.3" transform="rotate(-60 1293.4 729.7)" fill="#d01834" fill-opacity="0.45"/>
<ellipse cx="1442.8" cy="732.3" rx="11.8" ry="8.0" transform="rotate(60 1442.8 732.3)" fill="#d01834" fill-opacity="0.14"/>
<ellipse cx="1288.4" cy="742.4" rx="13.8" ry="9.3" transform="rotate(-90 1288.4 742.4)" fill="#d01834" fill-opacity="0.33"/>
<ellipse cx="1017.5" cy="760.1" rx="15.7" ry="10.7" transform="rotate(-10 1017.5 760.1)" fill="#d01834" fill-opacity="0.26"/>
<ellipse cx="1078.3" cy="770.2" rx="19.6" ry="13.3" transform="rotate(30 1078.3 770.2)" fill="#d01834" fill-opacity="0.52"/>
<ellipse cx="1384.6" cy="762.6" rx="19.6" ry="13.3" transform="rotate(10 1384.6 762.6)" fill="#d01834" fill-opacity="0.25"/>
<ellipse cx="1452.9" cy="757.5" rx="9.8" ry="6.7" transform="rotate(20 1452.9 757.5)" fill="#d01834" fill-opacity="0.15"/>
<ellipse cx="974.5" cy="787.9" rx="13.8" ry="9.3" transform="rotate(50 974.5 787.9)" fill="#d01834" fill-opacity="0.17"/>
<ellipse cx="1007.4" cy="795.4" rx="15.7" ry="10.7" transform="rotate(-90 1007.4 795.4)" fill="#d01834" fill-opacity="0.14"/>
<ellipse cx="1128.9" cy="790.4" rx="15.7" ry="10.7" transform="rotate(-50 1128.9 790.4)" fill="#d01834" fill-opacity="0.39"/>
<ellipse cx="1169.4" cy="792.9" rx="15.7" ry="10.7" transform="rotate(-60 1169.4 792.9)" fill="#d01834" fill-opacity="0.38"/>
<ellipse cx="1230.2" cy="775.2" rx="19.6" ry="13.3" transform="rotate(-10 1230.2 775.2)" fill="#d01834" fill-opacity="0.36"/>
<ellipse cx="1263.1" cy="777.7" rx="15.7" ry="10.7" transform="rotate(-50 1263.1 777.7)" fill="#d01834" fill-opacity="0.31"/>
<ellipse cx="1306.1" cy="792.9" rx="15.7" ry="10.7" transform="rotate(-60 1306.1 792.9)" fill="#d01834" fill-opacity="0.21"/>
<ellipse cx="1364.3" cy="803.0" rx="13.8" ry="9.3" transform="rotate(-90 1364.3 803.0)" fill="#d01834" fill-opacity="0.13"/>
<ellipse cx="1427.6" cy="790.4" rx="13.8" ry="9.3" transform="rotate(-70 1427.6 790.4)" fill="#d01834" fill-opacity="0.14"/>
<ellipse cx="1040.3" cy="810.6" rx="13.8" ry="9.3" transform="rotate(-20 1040.3 810.6)" fill="#d01834" fill-opacity="0.15"/>
<ellipse cx="1085.9" cy="808.1" rx="13.8" ry="9.3" transform="rotate(30 1085.9 808.1)" fill="#d01834" fill-opacity="0.20"/>
<ellipse cx="1273.2" cy="815.6" rx="13.8" ry="9.3" transform="rotate(20 1273.2 815.6)" fill="#d01834" fill-opacity="0.14"/>
<ellipse cx="1328.9" cy="808.1" rx="11.8" ry="8.0" transform="rotate(-90 1328.9 808.1)" fill="#d01834" fill-opacity="0.11"/>
</g>
</g></g>
<text x="961.0" y="489.6" font-family="'Liberation Serif','Times New Roman',serif" font-size="42" fill="#c85a5e">Ki67</text>
<rect x="1387" y="802" width="53" height="16" fill="#f6f6f6" stroke="#9a9a9a" stroke-width="2"/>
<text x="1413.5" y="813" font-family="'Liberation Serif','Times New Roman',serif" font-size="8" fill="#777" text-anchor="middle">20 µm</text>
<rect x="1467" y="423" width="529" height="399" fill="#6f6f6f"/>
<clipPath id="clipA12"><rect x="1470" y="426" width="523" height="393"/></clipPath>
<rect x="1470" y="426" width="523" height="393" fill="#08000e"/>
<g clip-path="url(#clipA12)"><g style="isolation:isolate">
<g filter="url(#blur)">
<ellipse cx="1484.8" cy="481.6" rx="12.6" ry="7.5" transform="rotate(-30 1484.8 481.6)" fill="#2426f0" fill-opacity="0.48"/>
<ellipse cx="1530.6" cy="438.3" rx="11.0" ry="6.6" transform="rotate(-80 1530.6 438.3)" fill="#2426f0" fill-opacity="0.34"/>
<ellipse cx="1579.0" cy="430.6" rx="9.4" ry="5.7" transform="rotate(-40 1579.0 430.6)" fill="#2426f0" fill-opacity="0.27"/>
<ellipse cx="1614.7" cy="448.5" rx="12.6" ry="7.5" transform="rotate(50 1614.7 448.5)" fill="#2426f0" fill-opacity="0.41"/>
<ellipse cx="1604.5" cy="486.7" rx="11.0" ry="6.6" transform="rotate(-80 1604.5 486.7)" fill="#2426f0" fill-opacity="0.41"/>
<ellipse cx="1619.7" cy="496.8" rx="12.6" ry="7.5" transform="rotate(-40 1619.7 496.8)" fill="#2426f0" fill-opacity="0.48"/>
<ellipse cx="1647.7" cy="471.4" rx="11.0" ry="6.6" transform="rotate(-30 1647.7 471.4)" fill="#2426f0" fill-opacity="0.41"/>
<ellipse cx="1688.5" cy="438.3" rx="14.1" ry="8.5" transform="rotate(-60 1688.5 438.3)" fill="#2426f0" fill-opacity="0.41"/>
<ellipse cx="1711.4" cy="445.9" rx="9.4" ry="5.7" transform="rotate(60 1711.4 445.9)" fill="#2426f0" fill-opacity="0.34"/>
<ellipse cx="1706.3" cy="466.3" rx="9.4" ry="5.7" transform="rotate(60 1706.3 466.3)" fill="#2426f0" fill-opacity="0.48"/>
<ellipse cx="1693.6" cy="486.7" rx="12.6" ry="7.5" transform="rotate(30 1693.6 486.7)" fill="#2426f0" fill-opacity="0.41"/>
<ellipse cx="1747.0" cy="473.9" rx="12.6" ry="7.5" transform="rotate(-50 1747.0 473.9)" fill="#2426f0" fill-opacity="0.48"/>
<ellipse cx="1803.0" cy="481.6" rx="11.0" ry="6.6" transform="rotate(80 1803.0 481.6)" fill="#2426f0" fill-opacity="0.51"/>
<ellipse cx="1859.0" cy="473.9" rx="14.1" ry="8.5" transform="rotate(-30 1859.0 473.9)" fill="#2426f0" fill-opacity="0.51"/>
<ellipse cx="1853.9" cy="433.2" rx="9.4" ry="5.7" transform="rotate(-90 1853.9 433.2)" fill="#2426f0" fill-opacity="0.31"/>
<ellipse cx="1912.5" cy="438.3" rx="11.0" ry="6.6" transform="rotate(-20 1912.5 438.3)" fill="#2426f0" fill-opacity="0.31"/>
<ellipse cx="1966.0" cy="438.3" rx="9.4" ry="5.7" transform="rotate(10 1966.0 438.3)" fill="#2426f0" fill-opacity="0.27"/>
<ellipse cx="1966.0" cy="463.7" rx="9.4" ry="5.7" transform="rotate(50 1966.0 463.7)" fill="#2426f0" fill-opacity="0.34"/>
<ellipse cx="1836.1" cy="501.9" rx="14.1" ry="8.5" transform="rotate(50 1836.1 501.9)" fill="#2426f0" fill-opacity="0.61"/>
<ellipse cx="1869.2" cy="512.1" rx="11.0" ry="6.6" transform="rotate(40 1869.2 512.1)" fill="#2426f0" fill-opacity="0.41"/>
<ellipse cx="1915.0" cy="501.9" rx="14.1" ry="8.5" transform="rotate(60 1915.0 501.9)" fill="#2426f0" fill-opacity="0.48"/>
<ellipse cx="1950.7" cy="491.7" rx="12.6" ry="7.5" transform="rotate(-20 1950.7 491.7)" fill="#2426f0" fill-opacity="0.48"/>
<ellipse cx="1525.6" cy="512.1" rx="11.0" ry="6.6" transform="rotate(-50 1525.6 512.1)" fill="#2426f0" fill-opacity="0.41"/>
<ellipse cx="1797.9" cy="428.1" rx="9.4" ry="5.7" transform="rotate(-90 1797.9 428.1)" fill="#2426f0" fill-opacity="0.20"/>
<ellipse cx="1551.0" cy="540.1" rx="11.0" ry="6.6" transform="rotate(-80 1551.0 540.1)" fill="#2426f0" fill-opacity="0.41"/>
<ellipse cx="1591.7" cy="529.9" rx="11.0" ry="6.6" transform="rotate(-20 1591.7 529.9)" fill="#2426f0" fill-opacity="0.37"/>
<ellipse cx="1652.8" cy="545.2" rx="12.6" ry="7.5" transform="rotate(-80 1652.8 545.2)" fill="#2426f0" fill-opacity="0.37"/>
<ellipse cx="1696.1" cy="519.8" rx="14.1" ry="8.5" transform="rotate(-10 1696.1 519.8)" fill="#2426f0" fill-opacity="0.41"/>
<ellipse cx="1721.6" cy="532.5" rx="11.0" ry="6.6" transform="rotate(80 1721.6 532.5)" fill="#2426f0" fill-opacity="0.41"/>
<ellipse cx="1741.9" cy="540.1" rx="11.0" ry="6.6" transform="rotate(-50 1741.9 540.1)" fill="#2426f0" fill-opacity="0.37"/>
<ellipse cx="1757.2" cy="519.8" rx="15.7" ry="9.4" transform="rotate(50 1757.2 519.8)" fill="#2426f0" fill-opacity="0.51"/>
<ellipse cx="1810.7" cy="537.6" rx="11.0" ry="6.6" transform="rotate(-90 1810.7 537.6)" fill="#2426f0" fill-opacity="0.44"/>
<ellipse cx="1848.9" cy="547.8" rx="15.7" ry="9.4" transform="rotate(40 1848.9 547.8)" fill="#2426f0" fill-opacity="0.51"/>
<ellipse cx="1859.0" cy="563.0" rx="15.7" ry="9.4" transform="rotate(20 1859.0 563.0)" fill="#2426f0" fill-opacity="0.51"/>
<ellipse cx="1986.3" cy="522.3" rx="9.4" ry="5.7" transform="rotate(0 1986.3 522.3)" fill="#2426f0" fill-opacity="0.37"/>
<ellipse cx="1512.8" cy="555.4" rx="11.0" ry="6.6" transform="rotate(10 1512.8 555.4)" fill="#2426f0" fill-opacity="0.41"/>
<ellipse cx="1594.3" cy="578.3" rx="12.6" ry="7.5" transform="rotate(0 1594.3 578.3)" fill="#2426f0" fill-opacity="0.48"/>
<ellipse cx="1706.3" cy="570.7" rx="17.3" ry="10.4" transform="rotate(-10 1706.3 570.7)" fill="#2426f0" fill-opacity="0.51"/>
<ellipse cx="1785.2" cy="578.3" rx="11.0" ry="6.6" transform="rotate(30 1785.2 578.3)" fill="#2426f0" fill-opacity="0.41"/>
<ellipse cx="1818.3" cy="575.8" rx="11.0" ry="6.6" transform="rotate(-90 1818.3 575.8)" fill="#2426f0" fill-opacity="0.54"/>
<ellipse cx="1940.5" cy="563.0" rx="9.4" ry="5.7" transform="rotate(-80 1940.5 563.0)" fill="#4aa0ff" fill-opacity="0.68"/>
<ellipse cx="1968.5" cy="580.9" rx="12.6" ry="7.5" transform="rotate(-20 1968.5 580.9)" fill="#2426f0" fill-opacity="0.48"/>
<ellipse cx="1889.6" cy="583.4" rx="11.0" ry="6.6" transform="rotate(-80 1889.6 583.4)" fill="#2426f0" fill-opacity="0.41"/>
<ellipse cx="1472.1" cy="578.3" rx="9.4" ry="5.7" transform="rotate(60 1472.1 578.3)" fill="#2426f0" fill-opacity="0.27"/>
<ellipse cx="1561.2" cy="598.7" rx="12.6" ry="7.5" transform="rotate(-50 1561.2 598.7)" fill="#2426f0" fill-opacity="0.37"/>
<ellipse cx="1635.0" cy="596.1" rx="12.6" ry="7.5" transform="rotate(50 1635.0 596.1)" fill="#2426f0" fill-opacity="0.37"/>
<ellipse cx="1747.0" cy="588.5" rx="15.7" ry="9.4" transform="rotate(40 1747.0 588.5)" fill="#2426f0" fill-opacity="0.44"/>
<ellipse cx="1803.0" cy="603.8" rx="12.6" ry="7.5" transform="rotate(20 1803.0 603.8)" fill="#2426f0" fill-opacity="0.51"/>
<ellipse cx="1843.8" cy="614.0" rx="12.6" ry="7.5" transform="rotate(40 1843.8 614.0)" fill="#2426f0" fill-opacity="0.37"/>
<ellipse cx="1920.1" cy="598.7" rx="11.0" ry="6.6" transform="rotate(-80 1920.1 598.7)" fill="#2426f0" fill-opacity="0.37"/>
<ellipse cx="1976.1" cy="616.5" rx="11.0" ry="6.6" transform="rotate(30 1976.1 616.5)" fill="#2426f0" fill-opacity="0.37"/>
<ellipse cx="1523.0" cy="614.0" rx="14.1" ry="8.5" transform="rotate(40 1523.0 614.0)" fill="#2426f0" fill-opacity="0.58"/>
<ellipse cx="1601.9" cy="619.1" rx="12.6" ry="7.5" transform="rotate(-50 1601.9 619.1)" fill="#2426f0" fill-opacity="0.44"/>
<ellipse cx="1573.9" cy="631.8" rx="9.4" ry="5.7" transform="rotate(10 1573.9 631.8)" fill="#4aa0ff" fill-opacity="0.68"/>
<ellipse cx="1736.8" cy="621.6" rx="15.7" ry="9.4" transform="rotate(10 1736.8 621.6)" fill="#2426f0" fill-opacity="0.48"/>
<ellipse cx="1767.4" cy="624.2" rx="15.7" ry="9.4" transform="rotate(80 1767.4 624.2)" fill="#2426f0" fill-opacity="0.41"/>
<ellipse cx="1815.8" cy="629.2" rx="11.0" ry="6.6" transform="rotate(50 1815.8 629.2)" fill="#2426f0" fill-opacity="0.48"/>
<ellipse cx="1706.3" cy="636.9" rx="14.1" ry="8.5" transform="rotate(-50 1706.3 636.9)" fill="#2426f0" fill-opacity="0.51"/>
<ellipse cx="1685.9" cy="647.1" rx="11.0" ry="6.6" transform="rotate(-90 1685.9 647.1)" fill="#2426f0" fill-opacity="0.41"/>
<ellipse cx="1864.1" cy="636.9" rx="11.0" ry="6.6" transform="rotate(-30 1864.1 636.9)" fill="#2426f0" fill-opacity="0.41"/>
<ellipse cx="1889.6" cy="624.2" rx="11.0" ry="6.6" transform="rotate(20 1889.6 624.2)" fill="#2426f0" fill-opacity="0.37"/>
<ellipse cx="1940.5" cy="634.3" rx="12.6" ry="7.5" transform="rotate(-40 1940.5 634.3)" fill="#2426f0" fill-opacity="0.37"/>
<ellipse cx="1533.2" cy="642.0" rx="17.3" ry="10.4" transform="rotate(-50 1533.2 642.0)" fill="#2426f0" fill-opacity="0.41"/>
<ellipse cx="1477.2" cy="652.2" rx="12.6" ry="7.5" transform="rotate(10 1477.2 652.2)" fill="#2426f0" fill-opacity="0.51"/>
<ellipse cx="1820.9" cy="649.6" rx="11.0" ry="6.6" transform="rotate(-30 1820.9 649.6)" fill="#2426f0" fill-opacity="0.41"/>
<ellipse cx="1655.4" cy="670.0" rx="9.4" ry="5.7" transform="rotate(60 1655.4 670.0)" fill="#4aa0ff" fill-opacity="0.65"/>
<ellipse cx="1848.9" cy="659.8" rx="9.4" ry="5.7" transform="rotate(0 1848.9 659.8)" fill="#4aa0ff" fill-opacity="0.68"/>
<ellipse cx="1716.5" cy="677.6" rx="9.4" ry="5.7" transform="rotate(-30 1716.5 677.6)" fill="#4aa0ff" fill-opacity="0.68"/>
<ellipse cx="1741.9" cy="675.1" rx="12.6" ry="7.5" transform="rotate(0 1741.9 675.1)" fill="#2426f0" fill-opacity="0.41"/>
<ellipse cx="1619.7" cy="670.0" rx="11.0" ry="6.6" transform="rotate(-20 1619.7 670.0)" fill="#2426f0" fill-opacity="0.41"/>
<ellipse cx="1579.0" cy="675.1" rx="12.6" ry="7.5" transform="rotate(20 1579.0 675.1)" fill="#2426f0" fill-opacity="0.44"/>
<ellipse cx="1879.4" cy="680.2" rx="17.3" ry="10.4" transform="rotate(80 1879.4 680.2)" fill="#2426f0" fill-opacity="0.41"/>
<ellipse cx="1556.1" cy="700.5" rx="17.3" ry="10.4" transform="rotate(-30 1556.1 700.5)" fill="#2426f0" fill-opacity="0.51"/>
<ellipse cx="1772.5" cy="695.5" rx="11.8" ry="7.1" transform="rotate(80 1772.5 695.5)" fill="#4aa0ff" fill-opacity="0.65"/>
<ellipse cx="1815.8" cy="698.0" rx="12.6" ry="7.5" transform="rotate(-40 1815.8 698.0)" fill="#2426f0" fill-opacity="0.41"/>
<ellipse cx="1955.8" cy="698.0" rx="22.0" ry="13.2" transform="rotate(30 1955.8 698.0)" fill="#2426f0" fill-opacity="0.44"/>
<ellipse cx="1497.5" cy="718.4" rx="12.6" ry="7.5" transform="rotate(-10 1497.5 718.4)" fill="#2426f0" fill-opacity="0.37"/>
<ellipse cx="1482.3" cy="728.6" rx="4.7" ry="2.8" transform="rotate(-90 1482.3 728.6)" fill="#2426f0" fill-opacity="0.41"/>
<ellipse cx="1591.7" cy="731.1" rx="17.3" ry="10.4" transform="rotate(-10 1591.7 731.1)" fill="#2426f0" fill-opacity="0.41"/>
<ellipse cx="1683.4" cy="718.4" rx="12.6" ry="7.5" transform="rotate(60 1683.4 718.4)" fill="#2426f0" fill-opacity="0.37"/>
<ellipse cx="1711.4" cy="731.1" rx="15.7" ry="9.4" transform="rotate(40 1711.4 731.1)" fill="#2426f0" fill-opacity="0.48"/>
<ellipse cx="1828.5" cy="726.0" rx="15.7" ry="9.4" transform="rotate(-60 1828.5 726.0)" fill="#2426f0" fill-opacity="0.44"/>
<ellipse cx="1978.7" cy="728.6" rx="9.4" ry="5.7" transform="rotate(60 1978.7 728.6)" fill="#2426f0" fill-opacity="0.34"/>
<ellipse cx="1823.4" cy="738.7" rx="11.0" ry="6.6" transform="rotate(-90 1823.4 738.7)" fill="#2426f0" fill-opacity="0.34"/>
<ellipse cx="1551.0" cy="756.6" rx="12.6" ry="7.5" transform="rotate(-10 1551.0 756.6)" fill="#2426f0" fill-opacity="0.41"/>
<ellipse cx="1612.1" cy="766.7" rx="11.8" ry="7.1" transform="rotate(30 1612.1 766.7)" fill="#4aa0ff" fill-opacity="0.65"/>
<ellipse cx="1920.1" cy="759.1" rx="15.7" ry="9.4" transform="rotate(10 1920.1 759.1)" fill="#2426f0" fill-opacity="0.51"/>
<ellipse cx="1988.9" cy="754.0" rx="7.9" ry="4.7" transform="rotate(20 1988.9 754.0)" fill="#2426f0" fill-opacity="0.37"/>
<ellipse cx="1507.7" cy="784.6" rx="11.0" ry="6.6" transform="rotate(50 1507.7 784.6)" fill="#2426f0" fill-opacity="0.41"/>
<ellipse cx="1540.8" cy="792.2" rx="12.6" ry="7.5" transform="rotate(-90 1540.8 792.2)" fill="#2426f0" fill-opacity="0.34"/>
<ellipse cx="1663.0" cy="787.1" rx="12.6" ry="7.5" transform="rotate(-50 1663.0 787.1)" fill="#2426f0" fill-opacity="0.51"/>
<ellipse cx="1703.8" cy="789.7" rx="12.6" ry="7.5" transform="rotate(-60 1703.8 789.7)" fill="#2426f0" fill-opacity="0.48"/>
<ellipse cx="1764.8" cy="771.8" rx="15.7" ry="9.4" transform="rotate(-10 1764.8 771.8)" fill="#2426f0" fill-opacity="0.41"/>
<ellipse cx="1797.9" cy="774.4" rx="12.6" ry="7.5" transform="rotate(-50 1797.9 774.4)" fill="#2426f0" fill-opacity="0.37"/>
<ellipse cx="1841.2" cy="789.7" rx="12.6" ry="7.5" transform="rotate(-60 1841.2 789.7)" fill="#2426f0" fill-opacity="0.34"/>
<ellipse cx="1899.8" cy="799.8" rx="11.0" ry="6.6" transform="rotate(-90 1899.8 799.8)" fill="#2426f0" fill-opacity="0.31"/>
<ellipse cx="1963.4" cy="787.1" rx="11.0" ry="6.6" transform="rotate(-70 1963.4 787.1)" fill="#2426f0" fill-opacity="0.34"/>
<ellipse cx="1573.9" cy="807.5" rx="11.0" ry="6.6" transform="rotate(-20 1573.9 807.5)" fill="#2426f0" fill-opacity="0.37"/>
<ellipse cx="1619.7" cy="804.9" rx="11.0" ry="6.6" transform="rotate(30 1619.7 804.9)" fill="#2426f0" fill-opacity="0.37"/>
<ellipse cx="1808.1" cy="812.6" rx="11.0" ry="6.6" transform="rotate(20 1808.1 812.6)" fill="#2426f0" fill-opacity="0.27"/>
<ellipse cx="1864.1" cy="804.9" rx="9.4" ry="5.7" transform="rotate(-90 1864.1 804.9)" fill="#2426f0" fill-opacity="0.27"/>
</g>
<g filter="url(#blur)" style="mix-blend-mode:screen">
<ellipse cx="1484.8" cy="481.6" rx="15.8" ry="10.7" transform="rotate(-30 1484.8 481.6)" fill="#d01834" fill-opacity="0.10"/>
<ellipse cx="1530.6" cy="438.3" rx="13.8" ry="9.4" transform="rotate(-80 1530.6 438.3)" fill="#d01834" fill-opacity="0.07"/>
<ellipse cx="1579.0" cy="430.6" rx="11.9" ry="8.0" transform="rotate(-40 1579.0 430.6)" fill="#d01834" fill-opacity="0.06"/>
<ellipse cx="1614.7" cy="448.5" rx="15.8" ry="10.7" transform="rotate(50 1614.7 448.5)" fill="#d01834" fill-opacity="0.12"/>
<ellipse cx="1604.5" cy="486.7" rx="13.8" ry="9.4" transform="rotate(-80 1604.5 486.7)" fill="#d01834" fill-opacity="0.17"/>
<ellipse cx="1619.7" cy="496.8" rx="15.8" ry="10.7" transform="rotate(-40 1619.7 496.8)" fill="#d01834" fill-opacity="0.22"/>
<ellipse cx="1647.7" cy="471.4" rx="13.8" ry="9.4" transform="rotate(-30 1647.7 471.4)" fill="#d01834" fill-opacity="0.17"/>
<ellipse cx="1688.5" cy="438.3" rx="17.8" ry="12.1" transform="rotate(-60 1688.5 438.3)" fill="#d01834" fill-opacity="0.13"/>
<ellipse cx="1711.4" cy="445.9" rx="11.9" ry="8.0" transform="rotate(60 1711.4 445.9)" fill="#d01834" fill-opacity="0.12"/>
<ellipse cx="1706.3" cy="466.3" rx="11.9" ry="8.0" transform="rotate(60 1706.3 466.3)" fill="#d01834" fill-opacity="0.21"/>
<ellipse cx="1693.6" cy="486.7" rx="15.8" ry="10.7" transform="rotate(30 1693.6 486.7)" fill="#d01834" fill-opacity="0.20"/>
<ellipse cx="1747.0" cy="473.9" rx="15.8" ry="10.7" transform="rotate(-50 1747.0 473.9)" fill="#d01834" fill-opacity="0.22"/>
<ellipse cx="1803.0" cy="481.6" rx="13.8" ry="9.4" transform="rotate(80 1803.0 481.6)" fill="#d01834" fill-opacity="0.23"/>
<ellipse cx="1859.0" cy="473.9" rx="17.8" ry="12.1" transform="rotate(-30 1859.0 473.9)" fill="#d01834" fill-opacity="0.17"/>
<ellipse cx="1853.9" cy="433.2" rx="11.9" ry="8.0" transform="rotate(-90 1853.9 433.2)" fill="#d01834" fill-opacity="0.06"/>
<ellipse cx="1912.5" cy="438.3" rx="13.8" ry="9.4" transform="rotate(-20 1912.5 438.3)" fill="#d01834" fill-opacity="0.06"/>
<ellipse cx="1966.0" cy="438.3" rx="11.9" ry="8.0" transform="rotate(10 1966.0 438.3)" fill="#d01834" fill-opacity="0.06"/>
<ellipse cx="1966.0" cy="463.7" rx="11.9" ry="8.0" transform="rotate(50 1966.0 463.7)" fill="#d01834" fill-opacity="0.07"/>
<ellipse cx="1836.1" cy="501.9" rx="17.8" ry="12.1" transform="rotate(50 1836.1 501.9)" fill="#d01834" fill-opacity="0.28"/>
<ellipse cx="1869.2" cy="512.1" rx="13.8" ry="9.4" transform="rotate(40 1869.2 512.1)" fill="#d01834" fill-opacity="0.18"/>
<ellipse cx="1915.0" cy="501.9" rx="17.8" ry="12.1" transform="rotate(60 1915.0 501.9)" fill="#d01834" fill-opacity="0.15"/>
<ellipse cx="1950.7" cy="491.7" rx="15.8" ry="10.7" transform="rotate(-20 1950.7 491.7)" fill="#d01834" fill-opacity="0.10"/>
<ellipse cx="1525.6" cy="512.1" rx="13.8" ry="9.4" transform="rotate(-50 1525.6 512.1)" fill="#d01834" fill-opacity="0.13"/>
<ellipse cx="1797.9" cy="428.1" rx="11.9" ry="8.0" transform="rotate(-90 1797.9 428.1)" fill="#d01834" fill-opacity="0.05"/>
<ellipse cx="1551.0" cy="540.1" rx="13.8" ry="9.4" transform="rotate(-80 1551.0 540.1)" fill="#d01834" fill-opacity="0.18"/>
<ellipse cx="1591.7" cy="529.9" rx="13.8" ry="9.4" transform="rotate(-20 1591.7 529.9)" fill="#d01834" fill-opacity="0.19"/>
<ellipse cx="1652.8" cy="545.2" rx="15.8" ry="10.7" transform="rotate(-80 1652.8 545.2)" fill="#d01834" fill-opacity="0.23"/>
<ellipse cx="1696.1" cy="519.8" rx="17.8" ry="12.1" transform="rotate(-10 1696.1 519.8)" fill="#d01834" fill-opacity="0.24"/>
<ellipse cx="1721.6" cy="532.5" rx="13.8" ry="9.4" transform="rotate(80 1721.6 532.5)" fill="#d01834" fill-opacity="0.25"/>
<ellipse cx="1741.9" cy="540.1" rx="13.8" ry="9.4" transform="rotate(-50 1741.9 540.1)" fill="#d01834" fill-opacity="0.23"/>
<ellipse cx="1757.2" cy="519.8" rx="19.8" ry="13.4" transform="rotate(50 1757.2 519.8)" fill="#d01834" fill-opacity="0.30"/>
<ellipse cx="1810.7" cy="537.6" rx="13.8" ry="9.4" transform="rotate(-90 1810.7 537.6)" fill="#d01834" fill-opacity="0.25"/>
<ellipse cx="1848.9" cy="547.8" rx="19.8" ry="13.4" transform="rotate(40 1848.9 547.8)" fill="#d01834" fill-opacity="0.28"/>
<ellipse cx="1859.0" cy="563.0" rx="19.8" ry="13.4" transform="rotate(20 1859.0 563.0)" fill="#d01834" fill-opacity="0.28"/>
<ellipse cx="1986.3" cy="522.3" rx="11.9" ry="8.0" transform="rotate(0 1986.3 522.3)" fill="#d01834" fill-opacity="0.08"/>
<ellipse cx="1512.8" cy="555.4" rx="13.8" ry="9.4" transform="rotate(10 1512.8 555.4)" fill="#d01834" fill-opacity="0.16"/>
<ellipse cx="1594.3" cy="578.3" rx="15.8" ry="10.7" transform="rotate(0 1594.3 578.3)" fill="#d01834" fill-opacity="0.28"/>
<ellipse cx="1706.3" cy="570.7" rx="21.7" ry="14.7" transform="rotate(-10 1706.3 570.7)" fill="#d01834" fill-opacity="0.34"/>
<ellipse cx="1785.2" cy="578.3" rx="13.8" ry="9.4" transform="rotate(30 1785.2 578.3)" fill="#d01834" fill-opacity="0.27"/>
<ellipse cx="1818.3" cy="575.8" rx="13.8" ry="9.4" transform="rotate(-90 1818.3 575.8)" fill="#d01834" fill-opacity="0.34"/>
<ellipse cx="1940.5" cy="563.0" rx="15.8" ry="10.7" transform="rotate(-80 1940.5 563.0)" fill="#d01834" fill-opacity="0.25"/>
<ellipse cx="1968.5" cy="580.9" rx="15.8" ry="10.7" transform="rotate(-20 1968.5 580.9)" fill="#d01834" fill-opacity="0.14"/>
<ellipse cx="1889.6" cy="583.4" rx="13.8" ry="9.4" transform="rotate(-80 1889.6 583.4)" fill="#d01834" fill-opacity="0.21"/>
<ellipse cx="1472.1" cy="578.3" rx="11.9" ry="8.0" transform="rotate(60 1472.1 578.3)" fill="#d01834" fill-opacity="0.08"/>
<ellipse cx="1561.2" cy="598.7" rx="15.8" ry="10.7" transform="rotate(-50 1561.2 598.7)" fill="#d01834" fill-opacity="0.20"/>
<ellipse cx="1635.0" cy="596.1" rx="15.8" ry="10.7" transform="rotate(50 1635.0 596.1)" fill="#d01834" fill-opacity="0.24"/>
<ellipse cx="1747.0" cy="588.5" rx="19.8" ry="13.4" transform="rotate(40 1747.0 588.5)" fill="#d01834" fill-opacity="0.30"/>
<ellipse cx="1803.0" cy="603.8" rx="15.8" ry="10.7" transform="rotate(20 1803.0 603.8)" fill="#d01834" fill-opacity="0.34"/>
<ellipse cx="1843.8" cy="614.0" rx="15.8" ry="10.7" transform="rotate(40 1843.8 614.0)" fill="#d01834" fill-opacity="0.23"/>
<ellipse cx="1920.1" cy="598.7" rx="13.8" ry="9.4" transform="rotate(-80 1920.1 598.7)" fill="#d01834" fill-opacity="0.17"/>
<ellipse cx="1976.1" cy="616.5" rx="13.8" ry="9.4" transform="rotate(30 1976.1 616.5)" fill="#d01834" fill-opacity="0.11"/>
<ellipse cx="1523.0" cy="614.0" rx="17.8" ry="12.1" transform="rotate(40 1523.0 614.0)" fill="#d01834" fill-opacity="0.26"/>
<ellipse cx="1601.9" cy="619.1" rx="15.8" ry="10.7" transform="rotate(-50 1601.9 619.1)" fill="#d01834" fill-opacity="0.27"/>
<ellipse cx="1573.9" cy="631.8" rx="15.8" ry="10.7" transform="rotate(10 1573.9 631.8)" fill="#d01834" fill-opacity="0.39"/>
<ellipse cx="1736.8" cy="621.6" rx="19.8" ry="13.4" transform="rotate(10 1736.8 621.6)" fill="#d01834" fill-opacity="0.34"/>
<ellipse cx="1767.4" cy="624.2" rx="19.8" ry="13.4" transform="rotate(80 1767.4 624.2)" fill="#d01834" fill-opacity="0.28"/>
<ellipse cx="1815.8" cy="629.2" rx="13.8" ry="9.4" transform="rotate(50 1815.8 629.2)" fill="#d01834" fill-opacity="0.31"/>
<ellipse cx="1706.3" cy="636.9" rx="17.8" ry="12.1" transform="rotate(-50 1706.3 636.9)" fill="#d01834" fill-opacity="0.36"/>
<ellipse cx="1685.9" cy="647.1" rx="13.8" ry="9.4" transform="rotate(-90 1685.9 647.1)" fill="#d01834" fill-opacity="0.28"/>
<ellipse cx="1864.1" cy="636.9" rx="13.8" ry="9.4" transform="rotate(-30 1864.1 636.9)" fill="#d01834" fill-opacity="0.23"/>
<ellipse cx="1889.6" cy="624.2" rx="13.8" ry="9.4" transform="rotate(20 1889.6 624.2)" fill="#d01834" fill-opacity="0.20"/>
<ellipse cx="1940.5" cy="634.3" rx="15.8" ry="10.7" transform="rotate(-40 1940.5 634.3)" fill="#d01834" fill-opacity="0.15"/>
<ellipse cx="1533.2" cy="642.0" rx="21.7" ry="14.7" transform="rotate(-50 1533.2 642.0)" fill="#d01834" fill-opacity="0.20"/>
<ellipse cx="1477.2" cy="652.2" rx="15.8" ry="10.7" transform="rotate(10 1477.2 652.2)" fill="#d01834" fill-opacity="0.16"/>
<ellipse cx="1820.9" cy="649.6" rx="13.8" ry="9.4" transform="rotate(-30 1820.9 649.6)" fill="#d01834" fill-opacity="0.26"/>
<ellipse cx="1655.4" cy="670.0" rx="15.8" ry="10.7" transform="rotate(60 1655.4 670.0)" fill="#d01834" fill-opacity="0.42"/>
<ellipse cx="1848.9" cy="659.8" rx="15.8" ry="10.7" transform="rotate(0 1848.9 659.8)" fill="#d01834" fill-opacity="0.40"/>
<ellipse cx="1716.5" cy="677.6" rx="15.8" ry="10.7" transform="rotate(-30 1716.5 677.6)" fill="#d01834" fill-opacity="0.46"/>
<ellipse cx="1741.9" cy="675.1" rx="15.8" ry="10.7" transform="rotate(0 1741.9 675.1)" fill="#d01834" fill-opacity="0.27"/>
<ellipse cx="1619.7" cy="670.0" rx="13.8" ry="9.4" transform="rotate(-20 1619.7 670.0)" fill="#d01834" fill-opacity="0.25"/>
<ellipse cx="1579.0" cy="675.1" rx="15.8" ry="10.7" transform="rotate(20 1579.0 675.1)" fill="#d01834" fill-opacity="0.24"/>
<ellipse cx="1879.4" cy="680.2" rx="21.7" ry="14.7" transform="rotate(80 1879.4 680.2)" fill="#d01834" fill-opacity="0.21"/>
<ellipse cx="1556.1" cy="700.5" rx="21.7" ry="14.7" transform="rotate(-30 1556.1 700.5)" fill="#d01834" fill-opacity="0.24"/>
<ellipse cx="1772.5" cy="695.5" rx="19.8" ry="13.4" transform="rotate(80 1772.5 695.5)" fill="#d01834" fill-opacity="0.41"/>
<ellipse cx="1815.8" cy="698.0" rx="15.8" ry="10.7" transform="rotate(-40 1815.8 698.0)" fill="#d01834" fill-opacity="0.24"/>
<ellipse cx="1955.8" cy="698.0" rx="27.7" ry="18.8" transform="rotate(30 1955.8 698.0)" fill="#d01834" fill-opacity="0.13"/>
<ellipse cx="1497.5" cy="718.4" rx="15.8" ry="10.7" transform="rotate(-10 1497.5 718.4)" fill="#d01834" fill-opacity="0.11"/>
<ellipse cx="1482.3" cy="728.6" rx="5.9" ry="4.0" transform="rotate(-90 1482.3 728.6)" fill="#d01834" fill-opacity="0.09"/>
<ellipse cx="1591.7" cy="731.1" rx="21.7" ry="14.7" transform="rotate(-10 1591.7 731.1)" fill="#d01834" fill-opacity="0.19"/>
<ellipse cx="1683.4" cy="718.4" rx="15.8" ry="10.7" transform="rotate(60 1683.4 718.4)" fill="#d01834" fill-opacity="0.22"/>
<ellipse cx="1711.4" cy="731.1" rx="19.8" ry="13.4" transform="rotate(40 1711.4 731.1)" fill="#d01834" fill-opacity="0.27"/>
<ellipse cx="1828.5" cy="726.0" rx="19.8" ry="13.4" transform="rotate(-60 1828.5 726.0)" fill="#d01834" fill-opacity="0.23"/>
<ellipse cx="1978.7" cy="728.6" rx="11.9" ry="8.0" transform="rotate(60 1978.7 728.6)" fill="#d01834" fill-opacity="0.07"/>
<ellipse cx="1823.4" cy="738.7" rx="13.8" ry="9.4" transform="rotate(-90 1823.4 738.7)" fill="#d01834" fill-opacity="0.17"/>
<ellipse cx="1551.0" cy="756.6" rx="15.8" ry="10.7" transform="rotate(-10 1551.0 756.6)" fill="#d01834" fill-opacity="0.13"/>
<ellipse cx="1612.1" cy="766.7" rx="19.8" ry="13.4" transform="rotate(30 1612.1 766.7)" fill="#d01834" fill-opacity="0.26"/>
<ellipse cx="1920.1" cy="759.1" rx="19.8" ry="13.4" transform="rotate(10 1920.1 759.1)" fill="#d01834" fill-opacity="0.13"/>
<ellipse cx="1988.9" cy="754.0" rx="9.9" ry="6.7" transform="rotate(20 1988.9 754.0)" fill="#d01834" fill-opacity="0.08"/>
<ellipse cx="1507.7" cy="784.6" rx="13.8" ry="9.4" transform="rotate(50 1507.7 784.6)" fill="#d01834" fill-opacity="0.08"/>
<ellipse cx="1540.8" cy="792.2" rx="15.8" ry="10.7" transform="rotate(-90 1540.8 792.2)" fill="#d01834" fill-opacity="0.07"/>
<ellipse cx="1663.0" cy="787.1" rx="15.8" ry="10.7" transform="rotate(-50 1663.0 787.1)" fill="#d01834" fill-opacity="0.20"/>
<ellipse cx="1703.8" cy="789.7" rx="15.8" ry="10.7" transform="rotate(-60 1703.8 789.7)" fill="#d01834" fill-opacity="0.19"/>
<ellipse cx="1764.8" cy="771.8" rx="19.8" ry="13.4" transform="rotate(-10 1764.8 771.8)" fill="#d01834" fill-opacity="0.18"/>
<ellipse cx="1797.9" cy="774.4" rx="15.8" ry="10.7" transform="rotate(-50 1797.9 774.4)" fill="#d01834" fill-opacity="0.15"/>
<ellipse cx="1841.2" cy="789.7" rx="15.8" ry="10.7" transform="rotate(-60 1841.2 789.7)" fill="#d01834" fill-opacity="0.10"/>
<ellipse cx="1899.8" cy="799.8" rx="13.8" ry="9.4" transform="rotate(-90 1899.8 799.8)" fill="#d01834" fill-opacity="0.06"/>
<ellipse cx="1963.4" cy="787.1" rx="13.8" ry="9.4" transform="rotate(-70 1963.4 787.1)" fill="#d01834" fill-opacity="0.07"/>
<ellipse cx="1573.9" cy="807.5" rx="13.8" ry="9.4" transform="rotate(-20 1573.9 807.5)" fill="#d01834" fill-opacity="0.08"/>
<ellipse cx="1619.7" cy="804.9" rx="13.8" ry="9.4" transform="rotate(30 1619.7 804.9)" fill="#d01834" fill-opacity="0.10"/>
<ellipse cx="1808.1" cy="812.6" rx="13.8" ry="9.4" transform="rotate(20 1808.1 812.6)" fill="#d01834" fill-opacity="0.07"/>
<ellipse cx="1864.1" cy="804.9" rx="11.9" ry="8.0" transform="rotate(-90 1864.1 804.9)" fill="#d01834" fill-opacity="0.06"/>
</g>
</g></g>
<text x="1499.0" y="479.0" font-family="'Liberation Serif','Times New Roman',serif" font-size="42" fill="#dcdcdc">Merged</text>
<rect x="1923" y="799" width="53" height="16" fill="#f6f6f6" stroke="#9a9a9a" stroke-width="2"/>
<text x="1949.5" y="810" font-family="'Liberation Serif','Times New Roman',serif" font-size="8" fill="#777" text-anchor="middle">20 µm</text>
<rect x="406" y="836" width="525" height="396" fill="#6f6f6f"/>
<clipPath id="clipA20"><rect x="409" y="839" width="519" height="390"/></clipPath>
<rect x="409" y="839" width="519" height="390" fill="#010005"/>
<g clip-path="url(#clipA20)"><g style="isolation:isolate">
<g filter="url(#blur)">
<circle cx="502.0" cy="861.3" r="15.2" fill="#2a30ff" fill-opacity="0.70"/>
<circle cx="489.4" cy="871.4" r="10.1" fill="#2a30ff" fill-opacity="0.60"/>
<circle cx="519.7" cy="846.1" r="8.8" fill="#2a30ff" fill-opacity="0.50"/>
<circle cx="476.7" cy="904.2" r="7.6" fill="#2a30ff" fill-opacity="0.50"/>
<circle cx="522.2" cy="904.2" r="7.6" fill="#2a30ff" fill-opacity="0.50"/>
<circle cx="555.1" cy="909.3" r="10.1" fill="#2a30ff" fill-opacity="0.80"/>
<circle cx="562.6" cy="921.9" r="8.8" fill="#2a30ff" fill-opacity="0.70"/>
<circle cx="734.4" cy="843.6" r="10.1" fill="#2a30ff" fill-opacity="0.60"/>
<circle cx="800.1" cy="841.1" r="7.6" fill="#2a30ff" fill-opacity="0.50"/>
<circle cx="822.9" cy="851.2" r="8.8" fill="#2a30ff" fill-opacity="0.70"/>
<circle cx="711.7" cy="879.0" r="8.8" fill="#2a30ff" fill-opacity="0.45"/>
<circle cx="795.1" cy="889.1" r="13.9" fill="#2a30ff" fill-opacity="0.85"/>
<circle cx="817.8" cy="884.0" r="8.8" fill="#2a30ff" fill-opacity="0.70"/>
<circle cx="825.4" cy="911.8" r="8.8" fill="#2a30ff" fill-opacity="0.70"/>
<circle cx="898.7" cy="896.7" r="8.8" fill="#2a30ff" fill-opacity="0.70"/>
<circle cx="416.1" cy="937.1" r="8.8" fill="#2a30ff" fill-opacity="0.60"/>
<circle cx="428.7" cy="954.8" r="8.8" fill="#2a30ff" fill-opacity="0.55"/>
<circle cx="489.4" cy="937.1" r="10.1" fill="#2a30ff" fill-opacity="0.80"/>
<circle cx="517.2" cy="949.7" r="8.8" fill="#2a30ff" fill-opacity="0.75"/>
<circle cx="686.4" cy="967.4" r="8.8" fill="#2a30ff" fill-opacity="0.75"/>
<circle cx="704.1" cy="969.9" r="8.8" fill="#2a30ff" fill-opacity="0.75"/>
<circle cx="908.8" cy="952.2" r="10.1" fill="#2a30ff" fill-opacity="0.80"/>
<circle cx="582.9" cy="977.5" r="10.1" fill="#2a30ff" fill-opacity="0.85"/>
<circle cx="598.0" cy="975.0" r="7.6" fill="#2a30ff" fill-opacity="0.75"/>
<circle cx="595.5" cy="990.2" r="8.8" fill="#2a30ff" fill-opacity="0.70"/>
<circle cx="737.0" cy="987.6" r="11.4" fill="#2a30ff" fill-opacity="0.85"/>
<circle cx="633.4" cy="1000.3" r="10.1" fill="#2a30ff" fill-opacity="0.90"/>
<circle cx="648.5" cy="1007.8" r="8.8" fill="#2a30ff" fill-opacity="0.80"/>
<circle cx="641.0" cy="1018.0" r="7.6" fill="#2a30ff" fill-opacity="0.70"/>
<circle cx="782.4" cy="1005.3" r="10.1" fill="#2a30ff" fill-opacity="0.75"/>
<circle cx="724.3" cy="1023.0" r="11.4" fill="#2a30ff" fill-opacity="0.80"/>
<circle cx="860.8" cy="1018.0" r="8.8" fill="#2a30ff" fill-opacity="0.65"/>
<circle cx="641.0" cy="1035.6" r="11.4" fill="#2a30ff" fill-opacity="0.60"/>
<circle cx="413.6" cy="1030.6" r="8.8" fill="#2a30ff" fill-opacity="0.50"/>
<circle cx="443.9" cy="1048.3" r="10.1" fill="#2a30ff" fill-opacity="0.50"/>
<circle cx="683.9" cy="1055.9" r="10.1" fill="#2a30ff" fill-opacity="0.90"/>
<circle cx="673.8" cy="1071.0" r="8.8" fill="#2a30ff" fill-opacity="0.60"/>
<circle cx="426.2" cy="1078.6" r="11.4" fill="#2a30ff" fill-opacity="0.80"/>
<circle cx="466.6" cy="1071.0" r="8.8" fill="#2a30ff" fill-opacity="0.65"/>
<circle cx="537.4" cy="1073.5" r="8.8" fill="#2a30ff" fill-opacity="0.60"/>
<circle cx="552.5" cy="1078.6" r="8.8" fill="#2a30ff" fill-opacity="0.60"/>
<circle cx="587.9" cy="1068.5" r="8.8" fill="#2a30ff" fill-opacity="0.70"/>
<circle cx="792.5" cy="1086.2" r="11.4" fill="#2a30ff" fill-opacity="0.80"/>
<circle cx="433.8" cy="1096.3" r="10.1" fill="#2a30ff" fill-opacity="0.70"/>
<circle cx="575.3" cy="1106.4" r="8.8" fill="#2a30ff" fill-opacity="0.70"/>
<circle cx="552.5" cy="1126.6" r="8.8" fill="#2a30ff" fill-opacity="0.80"/>
<circle cx="552.5" cy="1139.3" r="7.6" fill="#2a30ff" fill-opacity="0.70"/>
<circle cx="582.9" cy="1136.7" r="11.4" fill="#2a30ff" fill-opacity="0.85"/>
<circle cx="658.6" cy="1126.6" r="11.4" fill="#2a30ff" fill-opacity="0.90"/>
<circle cx="676.3" cy="1134.2" r="10.1" fill="#2a30ff" fill-opacity="0.80"/>
<circle cx="668.8" cy="1146.8" r="11.4" fill="#2a30ff" fill-opacity="0.70"/>
<circle cx="651.1" cy="1151.9" r="8.8" fill="#2a30ff" fill-opacity="0.65"/>
<circle cx="694.0" cy="1156.9" r="12.6" fill="#2a30ff" fill-opacity="0.80"/>
<circle cx="855.7" cy="1136.7" r="8.8" fill="#2a30ff" fill-opacity="0.75"/>
<circle cx="908.8" cy="1151.9" r="8.8" fill="#2a30ff" fill-opacity="0.65"/>
<circle cx="486.8" cy="1146.8" r="10.4" fill="#4a9aff" fill-opacity="1.00"/>
<circle cx="504.5" cy="1149.4" r="11.4" fill="#2a30ff" fill-opacity="0.85"/>
<circle cx="476.7" cy="1169.6" r="11.4" fill="#2a30ff" fill-opacity="0.80"/>
<circle cx="426.2" cy="1162.0" r="11.4" fill="#2a30ff" fill-opacity="0.75"/>
<circle cx="431.3" cy="1177.2" r="10.1" fill="#2a30ff" fill-opacity="0.70"/>
<circle cx="421.2" cy="1187.3" r="8.8" fill="#2a30ff" fill-opacity="0.60"/>
<circle cx="820.3" cy="1182.2" r="12.6" fill="#2a30ff" fill-opacity="0.90"/>
<circle cx="833.0" cy="1187.3" r="8.8" fill="#2a30ff" fill-opacity="0.80"/>
<circle cx="817.8" cy="1210.0" r="8.8" fill="#2a30ff" fill-opacity="0.65"/>
<circle cx="689.0" cy="1194.9" r="8.8" fill="#2a30ff" fill-opacity="0.70"/>
<circle cx="481.8" cy="1225.2" r="7.6" fill="#2a30ff" fill-opacity="0.40"/>
</g>
</g></g>
<text x="433.6" y="899.6" font-family="'Liberation Serif','Times New Roman',serif" font-size="42" fill="#6f90c0">DAPI</text>
<rect x="858" y="1209" width="53" height="16" fill="#f6f6f6" stroke="#9a9a9a" stroke-width="2"/>
<text x="884.5" y="1220" font-family="'Liberation Serif','Times New Roman',serif" font-size="8" fill="#777" text-anchor="middle">20 µm</text>
<rect x="937" y="836" width="523" height="396" fill="#6f6f6f"/>
<clipPath id="clipA21"><rect x="940" y="839" width="517" height="390"/></clipPath>
<rect x="940" y="839" width="517" height="390" fill="#010005"/>
<g clip-path="url(#clipA21)"><g style="isolation:isolate">
<g filter="url(#blur)">
<circle cx="1032.6" cy="861.3" r="15.9" fill="#d01830" fill-opacity="0.56"/>
<circle cx="1020.1" cy="871.4" r="10.6" fill="#d01830" fill-opacity="0.48"/>
<circle cx="1050.3" cy="846.1" r="9.2" fill="#d01830" fill-opacity="0.40"/>
<circle cx="1007.5" cy="904.2" r="7.9" fill="#d01830" fill-opacity="0.40"/>
<circle cx="1052.8" cy="904.2" r="7.9" fill="#d01830" fill-opacity="0.40"/>
<circle cx="1085.5" cy="909.3" r="10.6" fill="#d01830" fill-opacity="0.64"/>
<circle cx="1093.0" cy="921.9" r="9.2" fill="#d01830" fill-opacity="0.56"/>
<circle cx="1264.2" cy="843.6" r="10.6" fill="#d01830" fill-opacity="0.48"/>
<circle cx="1329.6" cy="841.1" r="7.9" fill="#d01830" fill-opacity="0.40"/>
<circle cx="1352.3" cy="851.2" r="9.2" fill="#d01830" fill-opacity="0.56"/>
<circle cx="1241.5" cy="879.0" r="9.2" fill="#d01830" fill-opacity="0.36"/>
<circle cx="1324.6" cy="889.1" r="14.5" fill="#d01830" fill-opacity="0.68"/>
<circle cx="1347.2" cy="884.0" r="9.2" fill="#d01830" fill-opacity="0.56"/>
<circle cx="1354.8" cy="911.8" r="9.2" fill="#d01830" fill-opacity="0.56"/>
<circle cx="1427.8" cy="896.7" r="9.2" fill="#d01830" fill-opacity="0.56"/>
<circle cx="947.1" cy="937.1" r="9.2" fill="#d01830" fill-opacity="0.48"/>
<circle cx="959.7" cy="954.8" r="9.2" fill="#d01830" fill-opacity="0.44"/>
<circle cx="1020.1" cy="937.1" r="10.6" fill="#d01830" fill-opacity="0.64"/>
<circle cx="1047.7" cy="949.7" r="9.2" fill="#d01830" fill-opacity="0.60"/>
<circle cx="1216.4" cy="967.4" r="9.2" fill="#d01830" fill-opacity="0.60"/>
<circle cx="1234.0" cy="969.9" r="9.2" fill="#d01830" fill-opacity="0.60"/>
<circle cx="1437.9" cy="952.2" r="10.6" fill="#d01830" fill-opacity="0.64"/>
<circle cx="1113.2" cy="977.5" r="10.6" fill="#d01830" fill-opacity="0.68"/>
<circle cx="1128.3" cy="975.0" r="7.9" fill="#d01830" fill-opacity="0.60"/>
<circle cx="1125.8" cy="990.2" r="9.2" fill="#d01830" fill-opacity="0.56"/>
<circle cx="1266.7" cy="987.6" r="11.9" fill="#d01830" fill-opacity="0.68"/>
<circle cx="1163.5" cy="1000.3" r="10.6" fill="#d01830" fill-opacity="0.72"/>
<circle cx="1178.6" cy="1007.8" r="9.2" fill="#d01830" fill-opacity="0.64"/>
<circle cx="1171.1" cy="1018.0" r="7.9" fill="#d01830" fill-opacity="0.56"/>
<circle cx="1312.0" cy="1005.3" r="10.6" fill="#d01830" fill-opacity="0.60"/>
<circle cx="1254.1" cy="1023.0" r="11.9" fill="#d01830" fill-opacity="0.64"/>
<circle cx="1390.0" cy="1018.0" r="9.2" fill="#d01830" fill-opacity="0.52"/>
<circle cx="1171.1" cy="1035.6" r="11.9" fill="#d01830" fill-opacity="0.48"/>
<circle cx="944.6" cy="1030.6" r="9.2" fill="#d01830" fill-opacity="0.40"/>
<circle cx="974.8" cy="1048.3" r="10.6" fill="#d01830" fill-opacity="0.40"/>
<circle cx="1213.9" cy="1055.9" r="10.6" fill="#d01830" fill-opacity="0.72"/>
<circle cx="1203.8" cy="1071.0" r="9.2" fill="#d01830" fill-opacity="0.48"/>
<circle cx="957.1" cy="1078.6" r="11.9" fill="#d01830" fill-opacity="0.64"/>
<circle cx="997.4" cy="1071.0" r="9.2" fill="#d01830" fill-opacity="0.52"/>
<circle cx="1067.9" cy="1073.5" r="9.2" fill="#d01830" fill-opacity="0.48"/>
<circle cx="1083.0" cy="1078.6" r="9.2" fill="#d01830" fill-opacity="0.48"/>
<circle cx="1118.2" cy="1068.5" r="9.2" fill="#d01830" fill-opacity="0.56"/>
<circle cx="1322.1" cy="1086.2" r="11.9" fill="#d01830" fill-opacity="0.64"/>
<circle cx="964.7" cy="1096.3" r="10.6" fill="#d01830" fill-opacity="0.56"/>
<circle cx="1105.6" cy="1106.4" r="9.2" fill="#d01830" fill-opacity="0.56"/>
<circle cx="1083.0" cy="1126.6" r="9.2" fill="#d01830" fill-opacity="0.64"/>
<circle cx="1083.0" cy="1139.3" r="7.9" fill="#d01830" fill-opacity="0.56"/>
<circle cx="1113.2" cy="1136.7" r="11.9" fill="#d01830" fill-opacity="0.68"/>
<circle cx="1188.7" cy="1126.6" r="11.9" fill="#d01830" fill-opacity="0.72"/>
<circle cx="1206.3" cy="1134.2" r="10.6" fill="#d01830" fill-opacity="0.64"/>
<circle cx="1198.8" cy="1146.8" r="11.9" fill="#d01830" fill-opacity="0.56"/>
<circle cx="1181.1" cy="1151.9" r="9.2" fill="#d01830" fill-opacity="0.52"/>
<circle cx="1223.9" cy="1156.9" r="13.2" fill="#d01830" fill-opacity="0.64"/>
<circle cx="1385.0" cy="1136.7" r="9.2" fill="#d01830" fill-opacity="0.60"/>
<circle cx="1437.9" cy="1151.9" r="9.2" fill="#d01830" fill-opacity="0.52"/>
<circle cx="1017.5" cy="1146.8" r="14.5" fill="#d01830" fill-opacity="0.80"/>
<circle cx="1035.2" cy="1149.4" r="11.9" fill="#d01830" fill-opacity="0.68"/>
<circle cx="1007.5" cy="1169.6" r="11.9" fill="#d01830" fill-opacity="0.64"/>
<circle cx="957.1" cy="1162.0" r="11.9" fill="#d01830" fill-opacity="0.60"/>
<circle cx="962.2" cy="1177.2" r="10.6" fill="#d01830" fill-opacity="0.56"/>
<circle cx="952.1" cy="1187.3" r="9.2" fill="#d01830" fill-opacity="0.48"/>
<circle cx="1349.8" cy="1182.2" r="13.2" fill="#d01830" fill-opacity="0.72"/>
<circle cx="1362.3" cy="1187.3" r="9.2" fill="#d01830" fill-opacity="0.64"/>
<circle cx="1347.2" cy="1210.0" r="9.2" fill="#d01830" fill-opacity="0.52"/>
<circle cx="1218.9" cy="1194.9" r="9.2" fill="#d01830" fill-opacity="0.56"/>
<circle cx="1012.5" cy="1225.2" r="7.9" fill="#d01830" fill-opacity="0.32"/>
</g>
</g></g>
<text x="962.5" y="900.8" font-family="'Liberation Serif','Times New Roman',serif" font-size="42" fill="#c85a5e">Ki67</text>
<rect x="1387" y="1209" width="53" height="16" fill="#f6f6f6" stroke="#9a9a9a" stroke-width="2"/>
<text x="1413.5" y="1220" font-family="'Liberation Serif','Times New Roman',serif" font-size="8" fill="#777" text-anchor="middle">20 µm</text>
<rect x="1467" y="833" width="529" height="399" fill="#6f6f6f"/>
<clipPath id="clipA22"><rect x="1470" y="836" width="523" height="393"/></clipPath>
<rect x="1470" y="836" width="523" height="393" fill="#010005"/>
<g clip-path="url(#clipA22)"><g style="isolation:isolate">
<g filter="url(#blur)">
<circle cx="1563.7" cy="858.5" r="15.3" fill="#2a30ff" fill-opacity="0.46"/>
<circle cx="1551.0" cy="868.6" r="10.2" fill="#2a30ff" fill-opacity="0.40"/>
<circle cx="1581.6" cy="843.2" r="8.9" fill="#2a30ff" fill-opacity="0.33"/>
<circle cx="1538.3" cy="901.7" r="7.6" fill="#2a30ff" fill-opacity="0.33"/>
<circle cx="1584.1" cy="901.7" r="7.6" fill="#2a30ff" fill-opacity="0.33"/>
<circle cx="1617.2" cy="906.8" r="10.2" fill="#2a30ff" fill-opacity="0.53"/>
<circle cx="1624.8" cy="919.6" r="8.9" fill="#2a30ff" fill-opacity="0.46"/>
<circle cx="1797.9" cy="840.6" r="10.2" fill="#2a30ff" fill-opacity="0.40"/>
<circle cx="1864.1" cy="838.1" r="7.6" fill="#2a30ff" fill-opacity="0.33"/>
<circle cx="1887.0" cy="848.3" r="8.9" fill="#2a30ff" fill-opacity="0.46"/>
<circle cx="1775.0" cy="876.3" r="8.9" fill="#2a30ff" fill-opacity="0.30"/>
<circle cx="1859.0" cy="886.5" r="14.0" fill="#2a30ff" fill-opacity="0.56"/>
<circle cx="1882.0" cy="881.4" r="8.9" fill="#2a30ff" fill-opacity="0.46"/>
<circle cx="1889.6" cy="909.4" r="8.9" fill="#2a30ff" fill-opacity="0.46"/>
<circle cx="1963.4" cy="894.1" r="8.9" fill="#2a30ff" fill-opacity="0.46"/>
<circle cx="1477.2" cy="934.9" r="8.9" fill="#2a30ff" fill-opacity="0.40"/>
<circle cx="1489.9" cy="952.7" r="8.9" fill="#2a30ff" fill-opacity="0.36"/>
<circle cx="1551.0" cy="934.9" r="10.2" fill="#2a30ff" fill-opacity="0.53"/>
<circle cx="1579.0" cy="947.6" r="8.9" fill="#2a30ff" fill-opacity="0.49"/>
<circle cx="1749.6" cy="965.4" r="8.9" fill="#2a30ff" fill-opacity="0.49"/>
<circle cx="1767.4" cy="968.0" r="8.9" fill="#2a30ff" fill-opacity="0.49"/>
<circle cx="1973.6" cy="950.1" r="10.2" fill="#2a30ff" fill-opacity="0.53"/>
<circle cx="1645.2" cy="975.6" r="10.2" fill="#2a30ff" fill-opacity="0.56"/>
<circle cx="1660.5" cy="973.0" r="7.6" fill="#2a30ff" fill-opacity="0.49"/>
<circle cx="1657.9" cy="988.3" r="8.9" fill="#2a30ff" fill-opacity="0.46"/>
<circle cx="1800.5" cy="985.8" r="11.5" fill="#2a30ff" fill-opacity="0.56"/>
<circle cx="1696.1" cy="998.5" r="10.2" fill="#2a30ff" fill-opacity="0.59"/>
<circle cx="1711.4" cy="1006.1" r="8.9" fill="#2a30ff" fill-opacity="0.53"/>
<circle cx="1703.8" cy="1016.3" r="7.6" fill="#2a30ff" fill-opacity="0.46"/>
<circle cx="1846.3" cy="1003.6" r="10.2" fill="#2a30ff" fill-opacity="0.49"/>
<circle cx="1787.8" cy="1021.4" r="11.5" fill="#2a30ff" fill-opacity="0.53"/>
<circle cx="1925.2" cy="1016.3" r="8.9" fill="#2a30ff" fill-opacity="0.43"/>
<circle cx="1703.8" cy="1034.2" r="11.5" fill="#2a30ff" fill-opacity="0.40"/>
<circle cx="1474.6" cy="1029.1" r="8.9" fill="#2a30ff" fill-opacity="0.33"/>
<circle cx="1505.2" cy="1046.9" r="10.2" fill="#2a30ff" fill-opacity="0.33"/>
<circle cx="1747.0" cy="1054.5" r="10.2" fill="#2a30ff" fill-opacity="0.59"/>
<circle cx="1736.8" cy="1069.8" r="8.9" fill="#2a30ff" fill-opacity="0.40"/>
<circle cx="1487.4" cy="1077.4" r="11.5" fill="#2a30ff" fill-opacity="0.53"/>
<circle cx="1528.1" cy="1069.8" r="8.9" fill="#2a30ff" fill-opacity="0.43"/>
<circle cx="1599.4" cy="1072.3" r="8.9" fill="#2a30ff" fill-opacity="0.40"/>
<circle cx="1614.7" cy="1077.4" r="8.9" fill="#2a30ff" fill-opacity="0.40"/>
<circle cx="1650.3" cy="1067.3" r="8.9" fill="#2a30ff" fill-opacity="0.46"/>
<circle cx="1856.5" cy="1085.1" r="11.5" fill="#2a30ff" fill-opacity="0.53"/>
<circle cx="1495.0" cy="1095.3" r="10.2" fill="#2a30ff" fill-opacity="0.46"/>
<circle cx="1637.6" cy="1105.5" r="8.9" fill="#2a30ff" fill-opacity="0.46"/>
<circle cx="1614.7" cy="1125.8" r="8.9" fill="#2a30ff" fill-opacity="0.53"/>
<circle cx="1614.7" cy="1138.6" r="7.6" fill="#2a30ff" fill-opacity="0.46"/>
<circle cx="1645.2" cy="1136.0" r="11.5" fill="#2a30ff" fill-opacity="0.56"/>
<circle cx="1721.6" cy="1125.8" r="11.5" fill="#2a30ff" fill-opacity="0.59"/>
<circle cx="1739.4" cy="1133.5" r="10.2" fill="#2a30ff" fill-opacity="0.53"/>
<circle cx="1731.8" cy="1146.2" r="11.5" fill="#2a30ff" fill-opacity="0.46"/>
<circle cx="1713.9" cy="1151.3" r="8.9" fill="#2a30ff" fill-opacity="0.43"/>
<circle cx="1757.2" cy="1156.4" r="12.7" fill="#2a30ff" fill-opacity="0.53"/>
<circle cx="1920.1" cy="1136.0" r="8.9" fill="#2a30ff" fill-opacity="0.49"/>
<circle cx="1973.6" cy="1151.3" r="8.9" fill="#2a30ff" fill-opacity="0.43"/>
<circle cx="1548.5" cy="1146.2" r="10.5" fill="#4a9aff" fill-opacity="0.66"/>
<circle cx="1566.3" cy="1148.7" r="11.5" fill="#2a30ff" fill-opacity="0.56"/>
<circle cx="1538.3" cy="1169.1" r="11.5" fill="#2a30ff" fill-opacity="0.53"/>
<circle cx="1487.4" cy="1161.5" r="11.5" fill="#2a30ff" fill-opacity="0.49"/>
<circle cx="1492.5" cy="1176.7" r="10.2" fill="#2a30ff" fill-opacity="0.46"/>
<circle cx="1482.3" cy="1186.9" r="8.9" fill="#2a30ff" fill-opacity="0.40"/>
<circle cx="1884.5" cy="1181.8" r="12.7" fill="#2a30ff" fill-opacity="0.59"/>
<circle cx="1897.2" cy="1186.9" r="8.9" fill="#2a30ff" fill-opacity="0.53"/>
<circle cx="1882.0" cy="1209.8" r="8.9" fill="#2a30ff" fill-opacity="0.43"/>
<circle cx="1752.1" cy="1194.6" r="8.9" fill="#2a30ff" fill-opacity="0.46"/>
<circle cx="1543.4" cy="1225.1" r="7.6" fill="#2a30ff" fill-opacity="0.26"/>
</g>
<g filter="url(#blur)" style="mix-blend-mode:screen">
<circle cx="1563.7" cy="858.5" r="16.0" fill="#d01830" fill-opacity="0.26"/>
<circle cx="1551.0" cy="868.6" r="10.7" fill="#d01830" fill-opacity="0.22"/>
<circle cx="1581.6" cy="843.2" r="9.4" fill="#d01830" fill-opacity="0.18"/>
<circle cx="1538.3" cy="901.7" r="8.0" fill="#d01830" fill-opacity="0.18"/>
<circle cx="1584.1" cy="901.7" r="8.0" fill="#d01830" fill-opacity="0.18"/>
<circle cx="1617.2" cy="906.8" r="10.7" fill="#d01830" fill-opacity="0.29"/>
<circle cx="1624.8" cy="919.6" r="9.4" fill="#d01830" fill-opacity="0.26"/>
<circle cx="1797.9" cy="840.6" r="10.7" fill="#d01830" fill-opacity="0.22"/>
<circle cx="1864.1" cy="838.1" r="8.0" fill="#d01830" fill-opacity="0.18"/>
<circle cx="1887.0" cy="848.3" r="9.4" fill="#d01830" fill-opacity="0.26"/>
<circle cx="1775.0" cy="876.3" r="9.4" fill="#d01830" fill-opacity="0.17"/>
<circle cx="1859.0" cy="886.5" r="14.7" fill="#d01830" fill-opacity="0.31"/>
<circle cx="1882.0" cy="881.4" r="9.4" fill="#d01830" fill-opacity="0.26"/>
<circle cx="1889.6" cy="909.4" r="9.4" fill="#d01830" fill-opacity="0.26"/>
<circle cx="1963.4" cy="894.1" r="9.4" fill="#d01830" fill-opacity="0.26"/>
<circle cx="1477.2" cy="934.9" r="9.4" fill="#d01830" fill-opacity="0.22"/>
<circle cx="1489.9" cy="952.7" r="9.4" fill="#d01830" fill-opacity="0.20"/>
<circle cx="1551.0" cy="934.9" r="10.7" fill="#d01830" fill-opacity="0.29"/>
<circle cx="1579.0" cy="947.6" r="9.4" fill="#d01830" fill-opacity="0.28"/>
<circle cx="1749.6" cy="965.4" r="9.4" fill="#d01830" fill-opacity="0.28"/>
<circle cx="1767.4" cy="968.0" r="9.4" fill="#d01830" fill-opacity="0.28"/>
<circle cx="1973.6" cy="950.1" r="10.7" fill="#d01830" fill-opacity="0.29"/>
<circle cx="1645.2" cy="975.6" r="10.7" fill="#d01830" fill-opacity="0.31"/>
<circle cx="1660.5" cy="973.0" r="8.0" fill="#d01830" fill-opacity="0.28"/>
<circle cx="1657.9" cy="988.3" r="9.4" fill="#d01830" fill-opacity="0.26"/>
<circle cx="1800.5" cy="985.8" r="12.0" fill="#d01830" fill-opacity="0.31"/>
<circle cx="1696.1" cy="998.5" r="10.7" fill="#d01830" fill-opacity="0.33"/>
<circle cx="1711.4" cy="1006.1" r="9.4" fill="#d01830" fill-opacity="0.29"/>
<circle cx="1703.8" cy="1016.3" r="8.0" fill="#d01830" fill-opacity="0.26"/>
<circle cx="1846.3" cy="1003.6" r="10.7" fill="#d01830" fill-opacity="0.28"/>
<circle cx="1787.8" cy="1021.4" r="12.0" fill="#d01830" fill-opacity="0.29"/>
<circle cx="1925.2" cy="1016.3" r="9.4" fill="#d01830" fill-opacity="0.24"/>
<circle cx="1703.8" cy="1034.2" r="12.0" fill="#d01830" fill-opacity="0.22"/>
<circle cx="1474.6" cy="1029.1" r="9.4" fill="#d01830" fill-opacity="0.18"/>
<circle cx="1505.2" cy="1046.9" r="10.7" fill="#d01830" fill-opacity="0.18"/>
<circle cx="1747.0" cy="1054.5" r="10.7" fill="#d01830" fill-opacity="0.33"/>
<circle cx="1736.8" cy="1069.8" r="9.4" fill="#d01830" fill-opacity="0.22"/>
<circle cx="1487.4" cy="1077.4" r="12.0" fill="#d01830" fill-opacity="0.29"/>
<circle cx="1528.1" cy="1069.8" r="9.4" fill="#d01830" fill-opacity="0.24"/>
<circle cx="1599.4" cy="1072.3" r="9.4" fill="#d01830" fill-opacity="0.22"/>
<circle cx="1614.7" cy="1077.4" r="9.4" fill="#d01830" fill-opacity="0.22"/>
<circle cx="1650.3" cy="1067.3" r="9.4" fill="#d01830" fill-opacity="0.26"/>
<circle cx="1856.5" cy="1085.1" r="12.0" fill="#d01830" fill-opacity="0.29"/>
<circle cx="1495.0" cy="1095.3" r="10.7" fill="#d01830" fill-opacity="0.26"/>
<circle cx="1637.6" cy="1105.5" r="9.4" fill="#d01830" fill-opacity="0.26"/>
<circle cx="1614.7" cy="1125.8" r="9.4" fill="#d01830" fill-opacity="0.29"/>
<circle cx="1614.7" cy="1138.6" r="8.0" fill="#d01830" fill-opacity="0.26"/>
<circle cx="1645.2" cy="1136.0" r="12.0" fill="#d01830" fill-opacity="0.31"/>
<circle cx="1721.6" cy="1125.8" r="12.0" fill="#d01830" fill-opacity="0.33"/>
<circle cx="1739.4" cy="1133.5" r="10.7" fill="#d01830" fill-opacity="0.29"/>
<circle cx="1731.8" cy="1146.2" r="12.0" fill="#d01830" fill-opacity="0.26"/>
<circle cx="1713.9" cy="1151.3" r="9.4" fill="#d01830" fill-opacity="0.24"/>
<circle cx="1757.2" cy="1156.4" r="13.4" fill="#d01830" fill-opacity="0.29"/>
<circle cx="1920.1" cy="1136.0" r="9.4" fill="#d01830" fill-opacity="0.28"/>
<circle cx="1973.6" cy="1151.3" r="9.4" fill="#d01830" fill-opacity="0.24"/>
<circle cx="1548.5" cy="1146.2" r="14.7" fill="#d01830" fill-opacity="0.37"/>
<circle cx="1566.3" cy="1148.7" r="12.0" fill="#d01830" fill-opacity="0.31"/>
<circle cx="1538.3" cy="1169.1" r="12.0" fill="#d01830" fill-opacity="0.29"/>
<circle cx="1487.4" cy="1161.5" r="12.0" fill="#d01830" fill-opacity="0.28"/>
<circle cx="1492.5" cy="1176.7" r="10.7" fill="#d01830" fill-opacity="0.26"/>
<circle cx="1482.3" cy="1186.9" r="9.4" fill="#d01830" fill-opacity="0.22"/>
<circle cx="1884.5" cy="1181.8" r="13.4" fill="#d01830" fill-opacity="0.33"/>
<circle cx="1897.2" cy="1186.9" r="9.4" fill="#d01830" fill-opacity="0.29"/>
<circle cx="1882.0" cy="1209.8" r="9.4" fill="#d01830" fill-opacity="0.24"/>
<circle cx="1752.1" cy="1194.6" r="9.4" fill="#d01830" fill-opacity="0.26"/>
<circle cx="1543.4" cy="1225.1" r="8.0" fill="#d01830" fill-opacity="0.15"/>
</g>
</g></g>
<text x="1495.0" y="880.4" font-family="'Liberation Serif','Times New Roman',serif" font-size="42" fill="#dcdcdc">Merged</text>
<rect x="1923" y="1209" width="53" height="16" fill="#f6f6f6" stroke="#9a9a9a" stroke-width="2"/>
<text x="1949.5" y="1220" font-family="'Liberation Serif','Times New Roman',serif" font-size="8" fill="#777" text-anchor="middle">20 µm</text>
<rect x="405" y="1302" width="526" height="396" fill="#6f6f6f"/>
<clipPath id="clipB00"><rect x="408" y="1305" width="520" height="390"/></clipPath>
<rect x="408" y="1305" width="520" height="390" fill="#010005"/>
<g clip-path="url(#clipB00)"><g style="isolation:isolate">
<g filter="url(#blur)">
<circle cx="615.1" cy="1309.6" r="7.6" fill="#2428f0" fill-opacity="0.47"/>
<circle cx="648.0" cy="1312.1" r="8.9" fill="#2428f0" fill-opacity="0.57"/>
<circle cx="660.7" cy="1319.7" r="8.9" fill="#2428f0" fill-opacity="0.57"/>
<circle cx="584.7" cy="1322.3" r="8.9" fill="#2428f0" fill-opacity="0.57"/>
<circle cx="579.7" cy="1334.9" r="7.6" fill="#2428f0" fill-opacity="0.52"/>
<circle cx="637.9" cy="1342.5" r="8.9" fill="#2428f0" fill-opacity="0.62"/>
<circle cx="655.6" cy="1342.5" r="8.9" fill="#2428f0" fill-opacity="0.57"/>
<circle cx="536.6" cy="1367.8" r="8.9" fill="#2428f0" fill-opacity="0.57"/>
<circle cx="551.8" cy="1370.4" r="10.1" fill="#2428f0" fill-opacity="0.66"/>
<circle cx="564.5" cy="1388.1" r="8.9" fill="#2428f0" fill-opacity="0.52"/>
<circle cx="475.9" cy="1400.7" r="10.1" fill="#2428f0" fill-opacity="0.66"/>
<circle cx="521.4" cy="1398.2" r="10.1" fill="#2428f0" fill-opacity="0.66"/>
<circle cx="503.7" cy="1410.9" r="11.4" fill="#2428f0" fill-opacity="0.76"/>
<circle cx="491.1" cy="1423.5" r="11.4" fill="#2428f0" fill-opacity="0.76"/>
<circle cx="511.3" cy="1421.0" r="10.1" fill="#2428f0" fill-opacity="0.66"/>
<circle cx="744.2" cy="1372.9" r="10.1" fill="#2428f0" fill-opacity="0.66"/>
<circle cx="731.5" cy="1385.6" r="8.9" fill="#2428f0" fill-opacity="0.57"/>
<circle cx="759.4" cy="1383.0" r="8.9" fill="#2428f0" fill-opacity="0.57"/>
<circle cx="774.6" cy="1380.5" r="8.9" fill="#2428f0" fill-opacity="0.57"/>
<circle cx="784.7" cy="1365.3" r="8.9" fill="#2428f0" fill-opacity="0.62"/>
<circle cx="807.5" cy="1352.6" r="11.4" fill="#2428f0" fill-opacity="0.71"/>
<circle cx="812.5" cy="1378.0" r="8.9" fill="#2428f0" fill-opacity="0.62"/>
<circle cx="812.5" cy="1395.7" r="8.9" fill="#2428f0" fill-opacity="0.66"/>
<circle cx="782.2" cy="1403.3" r="10.1" fill="#2428f0" fill-opacity="0.57"/>
<circle cx="751.8" cy="1423.5" r="10.1" fill="#2428f0" fill-opacity="0.66"/>
<circle cx="764.4" cy="1426.1" r="10.1" fill="#2428f0" fill-opacity="0.66"/>
<circle cx="835.3" cy="1426.1" r="11.4" fill="#2428f0" fill-opacity="0.76"/>
<circle cx="830.3" cy="1408.3" r="7.6" fill="#2428f0" fill-opacity="0.47"/>
<circle cx="612.6" cy="1410.9" r="10.1" fill="#2428f0" fill-opacity="0.71"/>
<circle cx="605.0" cy="1421.0" r="8.9" fill="#2428f0" fill-opacity="0.66"/>
<circle cx="635.3" cy="1426.1" r="11.4" fill="#2428f0" fill-opacity="0.76"/>
<circle cx="615.1" cy="1436.2" r="8.9" fill="#2428f0" fill-opacity="0.62"/>
<circle cx="615.1" cy="1448.9" r="11.4" fill="#2428f0" fill-opacity="0.76"/>
<circle cx="642.9" cy="1453.9" r="10.1" fill="#2428f0" fill-opacity="0.66"/>
<circle cx="592.3" cy="1451.4" r="8.9" fill="#2428f0" fill-opacity="0.62"/>
<circle cx="572.1" cy="1459.0" r="8.9" fill="#2428f0" fill-opacity="0.57"/>
<circle cx="650.5" cy="1474.2" r="8.9" fill="#2428f0" fill-opacity="0.57"/>
<circle cx="668.3" cy="1484.3" r="8.9" fill="#2428f0" fill-opacity="0.57"/>
<circle cx="739.1" cy="1446.3" r="10.1" fill="#2428f0" fill-opacity="0.62"/>
<circle cx="551.8" cy="1471.6" r="11.4" fill="#2428f0" fill-opacity="0.76"/>
<circle cx="541.7" cy="1489.4" r="10.1" fill="#2428f0" fill-opacity="0.71"/>
<circle cx="556.9" cy="1486.8" r="10.1" fill="#2428f0" fill-opacity="0.76"/>
<circle cx="579.7" cy="1494.4" r="12.7" fill="#2428f0" fill-opacity="0.81"/>
<circle cx="592.3" cy="1509.6" r="10.1" fill="#2428f0" fill-opacity="0.76"/>
<circle cx="549.3" cy="1504.6" r="8.9" fill="#2428f0" fill-opacity="0.62"/>
<circle cx="569.5" cy="1512.2" r="10.1" fill="#2428f0" fill-opacity="0.66"/>
<circle cx="718.9" cy="1464.0" r="8.9" fill="#2428f0" fill-opacity="0.62"/>
<circle cx="734.1" cy="1469.1" r="8.9" fill="#2428f0" fill-opacity="0.62"/>
<circle cx="721.4" cy="1484.3" r="10.1" fill="#2428f0" fill-opacity="0.62"/>
<circle cx="741.7" cy="1486.8" r="8.9" fill="#2428f0" fill-opacity="0.57"/>
<circle cx="759.4" cy="1484.3" r="10.1" fill="#2428f0" fill-opacity="0.66"/>
<circle cx="774.6" cy="1481.8" r="10.1" fill="#2428f0" fill-opacity="0.66"/>
<circle cx="789.8" cy="1471.6" r="11.4" fill="#2428f0" fill-opacity="0.76"/>
<circle cx="632.8" cy="1502.0" r="8.9" fill="#2428f0" fill-opacity="0.57"/>
<circle cx="686.0" cy="1502.0" r="7.6" fill="#2428f0" fill-opacity="0.52"/>
<circle cx="706.2" cy="1507.1" r="8.9" fill="#2428f0" fill-opacity="0.62"/>
<circle cx="721.4" cy="1507.1" r="8.9" fill="#2428f0" fill-opacity="0.57"/>
<circle cx="660.7" cy="1514.7" r="10.1" fill="#2428f0" fill-opacity="0.62"/>
<circle cx="635.3" cy="1522.3" r="11.4" fill="#2428f0" fill-opacity="0.76"/>
<circle cx="615.1" cy="1524.8" r="8.9" fill="#2428f0" fill-opacity="0.62"/>
<circle cx="678.4" cy="1522.3" r="8.9" fill="#2428f0" fill-opacity="0.62"/>
<circle cx="701.2" cy="1519.7" r="8.9" fill="#2428f0" fill-opacity="0.62"/>
<circle cx="716.3" cy="1524.8" r="8.9" fill="#2428f0" fill-opacity="0.57"/>
<circle cx="599.9" cy="1537.5" r="10.1" fill="#2428f0" fill-opacity="0.66"/>
<circle cx="691.0" cy="1534.9" r="11.4" fill="#2428f0" fill-opacity="0.71"/>
<circle cx="668.3" cy="1540.0" r="11.4" fill="#2428f0" fill-opacity="0.71"/>
<circle cx="493.6" cy="1532.4" r="10.1" fill="#2428f0" fill-opacity="0.47"/>
<circle cx="923.9" cy="1534.9" r="7.6" fill="#2428f0" fill-opacity="0.52"/>
<circle cx="642.9" cy="1555.2" r="12.7" fill="#2428f0" fill-opacity="0.71"/>
<circle cx="658.1" cy="1550.1" r="10.1" fill="#2428f0" fill-opacity="0.66"/>
<circle cx="627.8" cy="1570.4" r="11.4" fill="#2428f0" fill-opacity="0.71"/>
<circle cx="653.1" cy="1570.4" r="11.4" fill="#2428f0" fill-opacity="0.71"/>
<circle cx="658.1" cy="1583.0" r="12.7" fill="#2428f0" fill-opacity="0.71"/>
<circle cx="678.4" cy="1565.3" r="10.1" fill="#2428f0" fill-opacity="0.66"/>
<circle cx="698.6" cy="1565.3" r="12.7" fill="#2428f0" fill-opacity="0.76"/>
<circle cx="739.1" cy="1562.8" r="8.9" fill="#2428f0" fill-opacity="0.57"/>
<circle cx="734.1" cy="1580.5" r="11.4" fill="#2428f0" fill-opacity="0.66"/>
<circle cx="427.8" cy="1560.3" r="11.4" fill="#2428f0" fill-opacity="0.66"/>
<circle cx="422.7" cy="1572.9" r="8.9" fill="#2428f0" fill-opacity="0.57"/>
<circle cx="448.0" cy="1575.5" r="8.9" fill="#2428f0" fill-opacity="0.57"/>
<circle cx="455.6" cy="1590.6" r="10.1" fill="#2428f0" fill-opacity="0.66"/>
<circle cx="470.8" cy="1593.2" r="8.9" fill="#2428f0" fill-opacity="0.57"/>
<circle cx="443.0" cy="1605.8" r="11.4" fill="#2428f0" fill-opacity="0.66"/>
<circle cx="420.2" cy="1616.0" r="8.9" fill="#2428f0" fill-opacity="0.57"/>
<circle cx="774.6" cy="1595.7" r="10.1" fill="#2428f0" fill-opacity="0.71"/>
<circle cx="746.7" cy="1605.8" r="11.4" fill="#2428f0" fill-opacity="0.71"/>
<circle cx="729.0" cy="1616.0" r="7.6" fill="#2428f0" fill-opacity="0.52"/>
<circle cx="756.8" cy="1618.5" r="8.9" fill="#2428f0" fill-opacity="0.62"/>
<circle cx="774.6" cy="1618.5" r="8.9" fill="#2428f0" fill-opacity="0.66"/>
<circle cx="772.0" cy="1641.3" r="10.1" fill="#2428f0" fill-opacity="0.66"/>
<circle cx="756.8" cy="1648.9" r="8.9" fill="#2428f0" fill-opacity="0.57"/>
<circle cx="741.7" cy="1664.1" r="10.1" fill="#2428f0" fill-opacity="0.57"/>
<circle cx="769.5" cy="1671.7" r="8.9" fill="#2428f0" fill-opacity="0.52"/>
<circle cx="789.8" cy="1661.5" r="10.1" fill="#2428f0" fill-opacity="0.66"/>
<circle cx="848.0" cy="1621.0" r="8.9" fill="#2428f0" fill-opacity="0.38"/>
<circle cx="663.2" cy="1608.4" r="8.9" fill="#2428f0" fill-opacity="0.57"/>
<circle cx="640.4" cy="1623.6" r="12.7" fill="#4a80ff" fill-opacity="0.90"/>
<circle cx="658.1" cy="1628.6" r="10.1" fill="#2428f0" fill-opacity="0.76"/>
<circle cx="678.4" cy="1621.0" r="10.1" fill="#2428f0" fill-opacity="0.71"/>
<circle cx="686.0" cy="1633.7" r="11.4" fill="#2428f0" fill-opacity="0.71"/>
<circle cx="642.9" cy="1638.8" r="12.7" fill="#4a80ff" fill-opacity="0.90"/>
<circle cx="663.2" cy="1646.3" r="11.4" fill="#2428f0" fill-opacity="0.81"/>
<circle cx="688.5" cy="1653.9" r="8.9" fill="#2428f0" fill-opacity="0.62"/>
<circle cx="686.0" cy="1671.7" r="8.9" fill="#2428f0" fill-opacity="0.62"/>
<circle cx="721.4" cy="1681.8" r="11.4" fill="#2428f0" fill-opacity="0.71"/>
<circle cx="754.3" cy="1681.8" r="10.1" fill="#2428f0" fill-opacity="0.57"/>
</g>
</g></g>
<text x="424.0" y="1361.2" font-family="'Liberation Serif','Times New Roman',serif" font-size="42" fill="#6f90c0">DAPI</text>
<rect x="858" y="1675" width="53" height="16" fill="#f6f6f6" stroke="#9a9a9a" stroke-width="2"/>
<text x="884.5" y="1686" font-family="'Liberation Serif','Times New Roman',serif" font-size="8" fill="#777" text-anchor="middle">20 µm</text>
<rect x="941" y="1302" width="529" height="399" fill="#6f6f6f"/>
<clipPath id="clipB01"><rect x="944" y="1305" width="523" height="393"/></clipPath>
<rect x="944" y="1305" width="523" height="393" fill="#010005"/>
<g clip-path="url(#clipB01)"><g style="isolation:isolate">
<g filter="url(#blur)">
<circle cx="1152.3" cy="1309.7" r="8.0" fill="#e8203c" fill-opacity="0.47"/>
<circle cx="1185.4" cy="1312.2" r="9.4" fill="#e8203c" fill-opacity="0.57"/>
<circle cx="1198.1" cy="1319.9" r="9.4" fill="#e8203c" fill-opacity="0.57"/>
<circle cx="1121.7" cy="1322.4" r="9.4" fill="#e8203c" fill-opacity="0.57"/>
<circle cx="1116.7" cy="1335.2" r="8.0" fill="#e8203c" fill-opacity="0.52"/>
<circle cx="1175.2" cy="1342.8" r="9.4" fill="#e8203c" fill-opacity="0.62"/>
<circle cx="1193.0" cy="1342.8" r="9.4" fill="#e8203c" fill-opacity="0.57"/>
<circle cx="1073.4" cy="1368.3" r="9.4" fill="#e8203c" fill-opacity="0.57"/>
<circle cx="1088.7" cy="1370.9" r="10.7" fill="#e8203c" fill-opacity="0.66"/>
<circle cx="1101.4" cy="1388.7" r="9.4" fill="#e8203c" fill-opacity="0.52"/>
<circle cx="1012.3" cy="1401.5" r="10.7" fill="#e8203c" fill-opacity="0.66"/>
<circle cx="1058.1" cy="1398.9" r="10.7" fill="#e8203c" fill-opacity="0.66"/>
<circle cx="1040.3" cy="1411.7" r="12.0" fill="#e8203c" fill-opacity="0.76"/>
<circle cx="1027.6" cy="1424.5" r="12.0" fill="#e8203c" fill-opacity="0.76"/>
<circle cx="1047.9" cy="1421.9" r="10.7" fill="#e8203c" fill-opacity="0.66"/>
<circle cx="1282.1" cy="1373.4" r="10.7" fill="#e8203c" fill-opacity="0.66"/>
<circle cx="1269.4" cy="1386.2" r="9.4" fill="#e8203c" fill-opacity="0.57"/>
<circle cx="1297.4" cy="1383.6" r="9.4" fill="#e8203c" fill-opacity="0.57"/>
<circle cx="1312.7" cy="1381.1" r="9.4" fill="#e8203c" fill-opacity="0.57"/>
<circle cx="1322.9" cy="1365.8" r="9.4" fill="#e8203c" fill-opacity="0.62"/>
<circle cx="1345.8" cy="1353.0" r="12.0" fill="#e8203c" fill-opacity="0.71"/>
<circle cx="1350.9" cy="1378.5" r="9.4" fill="#e8203c" fill-opacity="0.62"/>
<circle cx="1350.9" cy="1396.4" r="9.4" fill="#e8203c" fill-opacity="0.66"/>
<circle cx="1320.3" cy="1404.0" r="10.7" fill="#e8203c" fill-opacity="0.57"/>
<circle cx="1289.8" cy="1424.5" r="10.7" fill="#e8203c" fill-opacity="0.66"/>
<circle cx="1302.5" cy="1427.0" r="10.7" fill="#e8203c" fill-opacity="0.66"/>
<circle cx="1373.8" cy="1427.0" r="12.0" fill="#e8203c" fill-opacity="0.76"/>
<circle cx="1368.7" cy="1409.1" r="8.0" fill="#e8203c" fill-opacity="0.47"/>
<circle cx="1149.7" cy="1411.7" r="10.7" fill="#e8203c" fill-opacity="0.71"/>
<circle cx="1142.1" cy="1421.9" r="9.4" fill="#e8203c" fill-opacity="0.66"/>
<circle cx="1172.7" cy="1427.0" r="12.0" fill="#e8203c" fill-opacity="0.76"/>
<circle cx="1152.3" cy="1437.2" r="9.4" fill="#e8203c" fill-opacity="0.62"/>
<circle cx="1152.3" cy="1450.0" r="12.0" fill="#e8203c" fill-opacity="0.76"/>
<circle cx="1180.3" cy="1455.1" r="10.7" fill="#e8203c" fill-opacity="0.66"/>
<circle cx="1129.4" cy="1452.5" r="9.4" fill="#e8203c" fill-opacity="0.62"/>
<circle cx="1109.0" cy="1460.2" r="9.4" fill="#e8203c" fill-opacity="0.57"/>
<circle cx="1187.9" cy="1475.5" r="9.4" fill="#e8203c" fill-opacity="0.57"/>
<circle cx="1205.8" cy="1485.7" r="9.4" fill="#e8203c" fill-opacity="0.57"/>
<circle cx="1277.0" cy="1447.4" r="10.7" fill="#e8203c" fill-opacity="0.62"/>
<circle cx="1088.7" cy="1472.9" r="12.0" fill="#e8203c" fill-opacity="0.76"/>
<circle cx="1078.5" cy="1490.8" r="10.7" fill="#e8203c" fill-opacity="0.71"/>
<circle cx="1093.7" cy="1488.2" r="10.7" fill="#e8203c" fill-opacity="0.76"/>
<circle cx="1116.7" cy="1495.9" r="13.4" fill="#e8203c" fill-opacity="0.81"/>
<circle cx="1129.4" cy="1511.2" r="10.7" fill="#e8203c" fill-opacity="0.76"/>
<circle cx="1086.1" cy="1506.1" r="9.4" fill="#e8203c" fill-opacity="0.62"/>
<circle cx="1106.5" cy="1513.7" r="10.7" fill="#e8203c" fill-opacity="0.66"/>
<circle cx="1256.7" cy="1465.3" r="9.4" fill="#e8203c" fill-opacity="0.62"/>
<circle cx="1271.9" cy="1470.4" r="9.4" fill="#e8203c" fill-opacity="0.62"/>
<circle cx="1259.2" cy="1485.7" r="10.7" fill="#e8203c" fill-opacity="0.62"/>
<circle cx="1279.6" cy="1488.2" r="9.4" fill="#e8203c" fill-opacity="0.57"/>
<circle cx="1297.4" cy="1485.7" r="10.7" fill="#e8203c" fill-opacity="0.66"/>
<circle cx="1312.7" cy="1483.1" r="10.7" fill="#e8203c" fill-opacity="0.66"/>
<circle cx="1327.9" cy="1472.9" r="12.0" fill="#e8203c" fill-opacity="0.76"/>
<circle cx="1170.1" cy="1503.5" r="9.4" fill="#e8203c" fill-opacity="0.57"/>
<circle cx="1223.6" cy="1503.5" r="8.0" fill="#e8203c" fill-opacity="0.52"/>
<circle cx="1243.9" cy="1508.6" r="9.4" fill="#e8203c" fill-opacity="0.62"/>
<circle cx="1259.2" cy="1508.6" r="9.4" fill="#e8203c" fill-opacity="0.57"/>
<circle cx="1198.1" cy="1516.3" r="10.7" fill="#e8203c" fill-opacity="0.62"/>
<circle cx="1172.7" cy="1524.0" r="12.0" fill="#e8203c" fill-opacity="0.76"/>
<circle cx="1152.3" cy="1526.5" r="9.4" fill="#e8203c" fill-opacity="0.62"/>
<circle cx="1215.9" cy="1524.0" r="9.4" fill="#e8203c" fill-opacity="0.62"/>
<circle cx="1238.8" cy="1521.4" r="9.4" fill="#e8203c" fill-opacity="0.62"/>
<circle cx="1254.1" cy="1526.5" r="9.4" fill="#e8203c" fill-opacity="0.57"/>
<circle cx="1137.0" cy="1539.3" r="10.7" fill="#e8203c" fill-opacity="0.66"/>
<circle cx="1228.7" cy="1536.7" r="12.0" fill="#e8203c" fill-opacity="0.71"/>
<circle cx="1205.8" cy="1541.8" r="12.0" fill="#e8203c" fill-opacity="0.71"/>
<circle cx="1030.1" cy="1534.2" r="10.7" fill="#e8203c" fill-opacity="0.47"/>
<circle cx="1462.9" cy="1536.7" r="8.0" fill="#e8203c" fill-opacity="0.52"/>
<circle cx="1180.3" cy="1557.1" r="13.4" fill="#e8203c" fill-opacity="0.71"/>
<circle cx="1195.6" cy="1552.0" r="10.7" fill="#e8203c" fill-opacity="0.66"/>
<circle cx="1165.0" cy="1572.4" r="12.0" fill="#e8203c" fill-opacity="0.71"/>
<circle cx="1190.5" cy="1572.4" r="12.0" fill="#e8203c" fill-opacity="0.71"/>
<circle cx="1195.6" cy="1585.2" r="13.4" fill="#e8203c" fill-opacity="0.71"/>
<circle cx="1215.9" cy="1567.3" r="10.7" fill="#e8203c" fill-opacity="0.66"/>
<circle cx="1236.3" cy="1567.3" r="13.4" fill="#e8203c" fill-opacity="0.76"/>
<circle cx="1277.0" cy="1564.8" r="9.4" fill="#e8203c" fill-opacity="0.57"/>
<circle cx="1271.9" cy="1582.6" r="12.0" fill="#e8203c" fill-opacity="0.66"/>
<circle cx="963.9" cy="1562.2" r="12.0" fill="#e8203c" fill-opacity="0.66"/>
<circle cx="958.8" cy="1575.0" r="9.4" fill="#e8203c" fill-opacity="0.57"/>
<circle cx="984.3" cy="1577.5" r="9.4" fill="#e8203c" fill-opacity="0.57"/>
<circle cx="991.9" cy="1592.8" r="10.7" fill="#e8203c" fill-opacity="0.66"/>
<circle cx="1007.2" cy="1595.4" r="9.4" fill="#e8203c" fill-opacity="0.57"/>
<circle cx="979.2" cy="1608.1" r="12.0" fill="#e8203c" fill-opacity="0.66"/>
<circle cx="956.3" cy="1618.3" r="9.4" fill="#e8203c" fill-opacity="0.57"/>
<circle cx="1312.7" cy="1597.9" r="10.7" fill="#e8203c" fill-opacity="0.71"/>
<circle cx="1284.7" cy="1608.1" r="12.0" fill="#e8203c" fill-opacity="0.71"/>
<circle cx="1266.9" cy="1618.3" r="8.0" fill="#e8203c" fill-opacity="0.52"/>
<circle cx="1294.9" cy="1620.9" r="9.4" fill="#e8203c" fill-opacity="0.62"/>
<circle cx="1312.7" cy="1620.9" r="9.4" fill="#e8203c" fill-opacity="0.66"/>
<circle cx="1310.1" cy="1643.9" r="10.7" fill="#e8203c" fill-opacity="0.66"/>
<circle cx="1294.9" cy="1651.5" r="9.4" fill="#e8203c" fill-opacity="0.57"/>
<circle cx="1279.6" cy="1666.8" r="10.7" fill="#e8203c" fill-opacity="0.57"/>
<circle cx="1307.6" cy="1674.5" r="9.4" fill="#e8203c" fill-opacity="0.52"/>
<circle cx="1327.9" cy="1664.3" r="10.7" fill="#e8203c" fill-opacity="0.66"/>
<circle cx="1386.5" cy="1623.4" r="9.4" fill="#e8203c" fill-opacity="0.38"/>
<circle cx="1200.7" cy="1610.7" r="9.4" fill="#e8203c" fill-opacity="0.57"/>
<circle cx="1177.8" cy="1626.0" r="13.4" fill="#e8203c" fill-opacity="0.90"/>
<circle cx="1195.6" cy="1631.1" r="10.7" fill="#e8203c" fill-opacity="0.76"/>
<circle cx="1215.9" cy="1623.4" r="10.7" fill="#e8203c" fill-opacity="0.71"/>
<circle cx="1223.6" cy="1636.2" r="12.0" fill="#e8203c" fill-opacity="0.71"/>
<circle cx="1180.3" cy="1641.3" r="13.4" fill="#e8203c" fill-opacity="0.90"/>
<circle cx="1200.7" cy="1649.0" r="12.0" fill="#e8203c" fill-opacity="0.81"/>
<circle cx="1226.1" cy="1656.6" r="9.4" fill="#e8203c" fill-opacity="0.62"/>
<circle cx="1223.6" cy="1674.5" r="9.4" fill="#e8203c" fill-opacity="0.62"/>
<circle cx="1259.2" cy="1684.7" r="12.0" fill="#e8203c" fill-opacity="0.71"/>
<circle cx="1292.3" cy="1684.7" r="10.7" fill="#e8203c" fill-opacity="0.57"/>
</g>
</g></g>
<text x="976.0" y="1362.0" font-family="'Liberation Serif','Times New Roman',serif" font-size="42" fill="#c85a5e">Ki67</text>
<rect x="1397" y="1678" width="53" height="16" fill="#f6f6f6" stroke="#9a9a9a" stroke-width="2"/>
<text x="1423.5" y="1689" font-family="'Liberation Serif','Times New Roman',serif" font-size="8" fill="#777" text-anchor="middle">20 µm</text>
<rect x="1484" y="1302" width="532" height="402" fill="#6f6f6f"/>
<clipPath id="clipB02"><rect x="1487" y="1305" width="526" height="396"/></clipPath>
<rect x="1487" y="1305" width="526" height="396" fill="#010005"/>
<g clip-path="url(#clipB02)"><g style="isolation:isolate">
<g filter="url(#blur)">
<circle cx="1696.5" cy="1309.7" r="7.7" fill="#2428f0" fill-opacity="0.29"/>
<circle cx="1729.8" cy="1312.3" r="9.0" fill="#2428f0" fill-opacity="0.35"/>
<circle cx="1742.6" cy="1320.0" r="9.0" fill="#2428f0" fill-opacity="0.35"/>
<circle cx="1665.8" cy="1322.6" r="9.0" fill="#2428f0" fill-opacity="0.35"/>
<circle cx="1660.7" cy="1335.4" r="7.7" fill="#2428f0" fill-opacity="0.32"/>
<circle cx="1719.5" cy="1343.1" r="9.0" fill="#2428f0" fill-opacity="0.38"/>
<circle cx="1737.5" cy="1343.1" r="9.0" fill="#2428f0" fill-opacity="0.35"/>
<circle cx="1617.1" cy="1368.8" r="9.0" fill="#2428f0" fill-opacity="0.35"/>
<circle cx="1632.5" cy="1371.4" r="10.2" fill="#2428f0" fill-opacity="0.41"/>
<circle cx="1645.3" cy="1389.4" r="9.0" fill="#2428f0" fill-opacity="0.32"/>
<circle cx="1555.7" cy="1402.2" r="10.2" fill="#2428f0" fill-opacity="0.41"/>
<circle cx="1601.8" cy="1399.7" r="10.2" fill="#2428f0" fill-opacity="0.41"/>
<circle cx="1583.8" cy="1412.5" r="11.5" fill="#2428f0" fill-opacity="0.47"/>
<circle cx="1571.0" cy="1425.4" r="11.5" fill="#2428f0" fill-opacity="0.47"/>
<circle cx="1591.5" cy="1422.8" r="10.2" fill="#2428f0" fill-opacity="0.41"/>
<circle cx="1827.1" cy="1374.0" r="10.2" fill="#2428f0" fill-opacity="0.41"/>
<circle cx="1814.3" cy="1386.8" r="9.0" fill="#2428f0" fill-opacity="0.35"/>
<circle cx="1842.4" cy="1384.3" r="9.0" fill="#2428f0" fill-opacity="0.35"/>
<circle cx="1857.8" cy="1381.7" r="9.0" fill="#2428f0" fill-opacity="0.35"/>
<circle cx="1868.0" cy="1366.3" r="9.0" fill="#2428f0" fill-opacity="0.38"/>
<circle cx="1891.1" cy="1353.4" r="11.5" fill="#2428f0" fill-opacity="0.44"/>
<circle cx="1896.2" cy="1379.1" r="9.0" fill="#2428f0" fill-opacity="0.38"/>
<circle cx="1896.2" cy="1397.1" r="9.0" fill="#2428f0" fill-opacity="0.41"/>
<circle cx="1865.5" cy="1404.8" r="10.2" fill="#2428f0" fill-opacity="0.35"/>
<circle cx="1834.7" cy="1425.4" r="10.2" fill="#2428f0" fill-opacity="0.41"/>
<circle cx="1847.5" cy="1427.9" r="10.2" fill="#2428f0" fill-opacity="0.41"/>
<circle cx="1919.2" cy="1427.9" r="11.5" fill="#2428f0" fill-opacity="0.47"/>
<circle cx="1914.1" cy="1410.0" r="7.7" fill="#2428f0" fill-opacity="0.29"/>
<circle cx="1693.9" cy="1412.5" r="10.2" fill="#2428f0" fill-opacity="0.44"/>
<circle cx="1686.3" cy="1422.8" r="9.0" fill="#2428f0" fill-opacity="0.41"/>
<circle cx="1717.0" cy="1427.9" r="11.5" fill="#2428f0" fill-opacity="0.47"/>
<circle cx="1696.5" cy="1438.2" r="9.0" fill="#2428f0" fill-opacity="0.38"/>
<circle cx="1696.5" cy="1451.1" r="11.5" fill="#2428f0" fill-opacity="0.47"/>
<circle cx="1724.7" cy="1456.2" r="10.2" fill="#2428f0" fill-opacity="0.41"/>
<circle cx="1673.5" cy="1453.6" r="9.0" fill="#2428f0" fill-opacity="0.38"/>
<circle cx="1653.0" cy="1461.4" r="9.0" fill="#2428f0" fill-opacity="0.35"/>
<circle cx="1732.3" cy="1476.8" r="9.0" fill="#2428f0" fill-opacity="0.35"/>
<circle cx="1750.3" cy="1487.1" r="9.0" fill="#2428f0" fill-opacity="0.35"/>
<circle cx="1821.9" cy="1448.5" r="10.2" fill="#2428f0" fill-opacity="0.38"/>
<circle cx="1632.5" cy="1474.2" r="11.5" fill="#2428f0" fill-opacity="0.47"/>
<circle cx="1622.2" cy="1492.2" r="10.2" fill="#2428f0" fill-opacity="0.44"/>
<circle cx="1637.6" cy="1489.6" r="10.2" fill="#2428f0" fill-opacity="0.47"/>
<circle cx="1660.7" cy="1497.3" r="12.8" fill="#2428f0" fill-opacity="0.50"/>
<circle cx="1673.5" cy="1512.8" r="10.2" fill="#2428f0" fill-opacity="0.47"/>
<circle cx="1629.9" cy="1507.6" r="9.0" fill="#2428f0" fill-opacity="0.38"/>
<circle cx="1650.4" cy="1515.3" r="10.2" fill="#2428f0" fill-opacity="0.41"/>
<circle cx="1801.5" cy="1466.5" r="9.0" fill="#2428f0" fill-opacity="0.38"/>
<circle cx="1816.8" cy="1471.6" r="9.0" fill="#2428f0" fill-opacity="0.38"/>
<circle cx="1804.0" cy="1487.1" r="10.2" fill="#2428f0" fill-opacity="0.38"/>
<circle cx="1824.5" cy="1489.6" r="9.0" fill="#2428f0" fill-opacity="0.35"/>
<circle cx="1842.4" cy="1487.1" r="10.2" fill="#2428f0" fill-opacity="0.41"/>
<circle cx="1857.8" cy="1484.5" r="10.2" fill="#2428f0" fill-opacity="0.41"/>
<circle cx="1873.1" cy="1474.2" r="11.5" fill="#2428f0" fill-opacity="0.47"/>
<circle cx="1714.4" cy="1505.1" r="9.0" fill="#2428f0" fill-opacity="0.35"/>
<circle cx="1768.2" cy="1505.1" r="7.7" fill="#2428f0" fill-opacity="0.32"/>
<circle cx="1788.7" cy="1510.2" r="9.0" fill="#2428f0" fill-opacity="0.38"/>
<circle cx="1804.0" cy="1510.2" r="9.0" fill="#2428f0" fill-opacity="0.35"/>
<circle cx="1742.6" cy="1517.9" r="10.2" fill="#2428f0" fill-opacity="0.38"/>
<circle cx="1717.0" cy="1525.6" r="11.5" fill="#2428f0" fill-opacity="0.47"/>
<circle cx="1696.5" cy="1528.2" r="9.0" fill="#2428f0" fill-opacity="0.38"/>
<circle cx="1760.5" cy="1525.6" r="9.0" fill="#2428f0" fill-opacity="0.38"/>
<circle cx="1783.5" cy="1523.0" r="9.0" fill="#2428f0" fill-opacity="0.38"/>
<circle cx="1798.9" cy="1528.2" r="9.0" fill="#2428f0" fill-opacity="0.35"/>
<circle cx="1681.1" cy="1541.0" r="10.2" fill="#2428f0" fill-opacity="0.41"/>
<circle cx="1773.3" cy="1538.5" r="11.5" fill="#2428f0" fill-opacity="0.44"/>
<circle cx="1750.3" cy="1543.6" r="11.5" fill="#2428f0" fill-opacity="0.44"/>
<circle cx="1573.6" cy="1535.9" r="10.2" fill="#2428f0" fill-opacity="0.29"/>
<circle cx="2008.8" cy="1538.5" r="7.7" fill="#2428f0" fill-opacity="0.32"/>
<circle cx="1724.7" cy="1559.0" r="12.8" fill="#2428f0" fill-opacity="0.44"/>
<circle cx="1740.0" cy="1553.9" r="10.2" fill="#2428f0" fill-opacity="0.41"/>
<circle cx="1709.3" cy="1574.5" r="11.5" fill="#2428f0" fill-opacity="0.44"/>
<circle cx="1734.9" cy="1574.5" r="11.5" fill="#2428f0" fill-opacity="0.44"/>
<circle cx="1740.0" cy="1587.3" r="12.8" fill="#2428f0" fill-opacity="0.44"/>
<circle cx="1760.5" cy="1569.3" r="10.2" fill="#2428f0" fill-opacity="0.41"/>
<circle cx="1781.0" cy="1569.3" r="12.8" fill="#2428f0" fill-opacity="0.47"/>
<circle cx="1821.9" cy="1566.7" r="9.0" fill="#2428f0" fill-opacity="0.35"/>
<circle cx="1816.8" cy="1584.7" r="11.5" fill="#2428f0" fill-opacity="0.41"/>
<circle cx="1507.0" cy="1564.2" r="11.5" fill="#2428f0" fill-opacity="0.41"/>
<circle cx="1501.9" cy="1577.0" r="9.0" fill="#2428f0" fill-opacity="0.35"/>
<circle cx="1527.5" cy="1579.6" r="9.0" fill="#2428f0" fill-opacity="0.35"/>
<circle cx="1535.2" cy="1595.0" r="10.2" fill="#2428f0" fill-opacity="0.41"/>
<circle cx="1550.6" cy="1597.6" r="9.0" fill="#2428f0" fill-opacity="0.35"/>
<circle cx="1522.4" cy="1610.4" r="11.5" fill="#2428f0" fill-opacity="0.41"/>
<circle cx="1499.4" cy="1620.7" r="9.0" fill="#2428f0" fill-opacity="0.35"/>
<circle cx="1857.8" cy="1600.2" r="10.2" fill="#2428f0" fill-opacity="0.44"/>
<circle cx="1829.6" cy="1610.4" r="11.5" fill="#2428f0" fill-opacity="0.44"/>
<circle cx="1811.7" cy="1620.7" r="7.7" fill="#2428f0" fill-opacity="0.32"/>
<circle cx="1839.9" cy="1623.3" r="9.0" fill="#2428f0" fill-opacity="0.38"/>
<circle cx="1857.8" cy="1623.3" r="9.0" fill="#2428f0" fill-opacity="0.41"/>
<circle cx="1855.2" cy="1646.4" r="10.2" fill="#2428f0" fill-opacity="0.41"/>
<circle cx="1839.9" cy="1654.1" r="9.0" fill="#2428f0" fill-opacity="0.35"/>
<circle cx="1824.5" cy="1669.6" r="10.2" fill="#2428f0" fill-opacity="0.35"/>
<circle cx="1852.7" cy="1677.3" r="9.0" fill="#2428f0" fill-opacity="0.32"/>
<circle cx="1873.1" cy="1667.0" r="10.2" fill="#2428f0" fill-opacity="0.41"/>
<circle cx="1932.0" cy="1625.9" r="9.0" fill="#2428f0" fill-opacity="0.24"/>
<circle cx="1745.1" cy="1613.0" r="9.0" fill="#2428f0" fill-opacity="0.35"/>
<circle cx="1722.1" cy="1628.4" r="12.8" fill="#4a80ff" fill-opacity="0.56"/>
<circle cx="1740.0" cy="1633.6" r="10.2" fill="#2428f0" fill-opacity="0.47"/>
<circle cx="1760.5" cy="1625.9" r="10.2" fill="#2428f0" fill-opacity="0.44"/>
<circle cx="1768.2" cy="1638.7" r="11.5" fill="#2428f0" fill-opacity="0.44"/>
<circle cx="1724.7" cy="1643.9" r="12.8" fill="#4a80ff" fill-opacity="0.56"/>
<circle cx="1745.1" cy="1651.6" r="11.5" fill="#2428f0" fill-opacity="0.50"/>
<circle cx="1770.7" cy="1659.3" r="9.0" fill="#2428f0" fill-opacity="0.38"/>
<circle cx="1768.2" cy="1677.3" r="9.0" fill="#2428f0" fill-opacity="0.38"/>
<circle cx="1804.0" cy="1687.5" r="11.5" fill="#2428f0" fill-opacity="0.44"/>
<circle cx="1837.3" cy="1687.5" r="10.2" fill="#2428f0" fill-opacity="0.35"/>
</g>
<g filter="url(#blur)" style="mix-blend-mode:screen">
<circle cx="1696.5" cy="1309.7" r="8.1" fill="#e8203c" fill-opacity="0.28"/>
<circle cx="1729.8" cy="1312.3" r="9.4" fill="#e8203c" fill-opacity="0.33"/>
<circle cx="1742.6" cy="1320.0" r="9.4" fill="#e8203c" fill-opacity="0.33"/>
<circle cx="1665.8" cy="1322.6" r="9.4" fill="#e8203c" fill-opacity="0.33"/>
<circle cx="1660.7" cy="1335.4" r="8.1" fill="#e8203c" fill-opacity="0.30"/>
<circle cx="1719.5" cy="1343.1" r="9.4" fill="#e8203c" fill-opacity="0.36"/>
<circle cx="1737.5" cy="1343.1" r="9.4" fill="#e8203c" fill-opacity="0.33"/>
<circle cx="1617.1" cy="1368.8" r="9.4" fill="#e8203c" fill-opacity="0.33"/>
<circle cx="1632.5" cy="1371.4" r="10.8" fill="#e8203c" fill-opacity="0.39"/>
<circle cx="1645.3" cy="1389.4" r="9.4" fill="#e8203c" fill-opacity="0.30"/>
<circle cx="1555.7" cy="1402.2" r="10.8" fill="#e8203c" fill-opacity="0.39"/>
<circle cx="1601.8" cy="1399.7" r="10.8" fill="#e8203c" fill-opacity="0.39"/>
<circle cx="1583.8" cy="1412.5" r="12.1" fill="#e8203c" fill-opacity="0.44"/>
<circle cx="1571.0" cy="1425.4" r="12.1" fill="#e8203c" fill-opacity="0.44"/>
<circle cx="1591.5" cy="1422.8" r="10.8" fill="#e8203c" fill-opacity="0.39"/>
<circle cx="1827.1" cy="1374.0" r="10.8" fill="#e8203c" fill-opacity="0.39"/>
<circle cx="1814.3" cy="1386.8" r="9.4" fill="#e8203c" fill-opacity="0.33"/>
<circle cx="1842.4" cy="1384.3" r="9.4" fill="#e8203c" fill-opacity="0.33"/>
<circle cx="1857.8" cy="1381.7" r="9.4" fill="#e8203c" fill-opacity="0.33"/>
<circle cx="1868.0" cy="1366.3" r="9.4" fill="#e8203c" fill-opacity="0.36"/>
<circle cx="1891.1" cy="1353.4" r="12.1" fill="#e8203c" fill-opacity="0.41"/>
<circle cx="1896.2" cy="1379.1" r="9.4" fill="#e8203c" fill-opacity="0.36"/>
<circle cx="1896.2" cy="1397.1" r="9.4" fill="#e8203c" fill-opacity="0.39"/>
<circle cx="1865.5" cy="1404.8" r="10.8" fill="#e8203c" fill-opacity="0.33"/>
<circle cx="1834.7" cy="1425.4" r="10.8" fill="#e8203c" fill-opacity="0.39"/>
<circle cx="1847.5" cy="1427.9" r="10.8" fill="#e8203c" fill-opacity="0.39"/>
<circle cx="1919.2" cy="1427.9" r="12.1" fill="#e8203c" fill-opacity="0.44"/>
<circle cx="1914.1" cy="1410.0" r="8.1" fill="#e8203c" fill-opacity="0.28"/>
<circle cx="1693.9" cy="1412.5" r="10.8" fill="#e8203c" fill-opacity="0.41"/>
<circle cx="1686.3" cy="1422.8" r="9.4" fill="#e8203c" fill-opacity="0.39"/>
<circle cx="1717.0" cy="1427.9" r="12.1" fill="#e8203c" fill-opacity="0.44"/>
<circle cx="1696.5" cy="1438.2" r="9.4" fill="#e8203c" fill-opacity="0.36"/>
<circle cx="1696.5" cy="1451.1" r="12.1" fill="#e8203c" fill-opacity="0.44"/>
<circle cx="1724.7" cy="1456.2" r="10.8" fill="#e8203c" fill-opacity="0.39"/>
<circle cx="1673.5" cy="1453.6" r="9.4" fill="#e8203c" fill-opacity="0.36"/>
<circle cx="1653.0" cy="1461.4" r="9.4" fill="#e8203c" fill-opacity="0.33"/>
<circle cx="1732.3" cy="1476.8" r="9.4" fill="#e8203c" fill-opacity="0.33"/>
<circle cx="1750.3" cy="1487.1" r="9.4" fill="#e8203c" fill-opacity="0.33"/>
<circle cx="1821.9" cy="1448.5" r="10.8" fill="#e8203c" fill-opacity="0.36"/>
<circle cx="1632.5" cy="1474.2" r="12.1" fill="#e8203c" fill-opacity="0.44"/>
<circle cx="1622.2" cy="1492.2" r="10.8" fill="#e8203c" fill-opacity="0.41"/>
<circle cx="1637.6" cy="1489.6" r="10.8" fill="#e8203c" fill-opacity="0.44"/>
<circle cx="1660.7" cy="1497.3" r="13.4" fill="#e8203c" fill-opacity="0.47"/>
<circle cx="1673.5" cy="1512.8" r="10.8" fill="#e8203c" fill-opacity="0.44"/>
<circle cx="1629.9" cy="1507.6" r="9.4" fill="#e8203c" fill-opacity="0.36"/>
<circle cx="1650.4" cy="1515.3" r="10.8" fill="#e8203c" fill-opacity="0.39"/>
<circle cx="1801.5" cy="1466.5" r="9.4" fill="#e8203c" fill-opacity="0.36"/>
<circle cx="1816.8" cy="1471.6" r="9.4" fill="#e8203c" fill-opacity="0.36"/>
<circle cx="1804.0" cy="1487.1" r="10.8" fill="#e8203c" fill-opacity="0.36"/>
<circle cx="1824.5" cy="1489.6" r="9.4" fill="#e8203c" fill-opacity="0.33"/>
<circle cx="1842.4" cy="1487.1" r="10.8" fill="#e8203c" fill-opacity="0.39"/>
<circle cx="1857.8" cy="1484.5" r="10.8" fill="#e8203c" fill-opacity="0.39"/>
<circle cx="1873.1" cy="1474.2" r="12.1" fill="#e8203c" fill-opacity="0.44"/>
<circle cx="1714.4" cy="1505.1" r="9.4" fill="#e8203c" fill-opacity="0.33"/>
<circle cx="1768.2" cy="1505.1" r="8.1" fill="#e8203c" fill-opacity="0.30"/>
<circle cx="1788.7" cy="1510.2" r="9.4" fill="#e8203c" fill-opacity="0.36"/>
<circle cx="1804.0" cy="1510.2" r="9.4" fill="#e8203c" fill-opacity="0.33"/>
<circle cx="1742.6" cy="1517.9" r="10.8" fill="#e8203c" fill-opacity="0.36"/>
<circle cx="1717.0" cy="1525.6" r="12.1" fill="#e8203c" fill-opacity="0.44"/>
<circle cx="1696.5" cy="1528.2" r="9.4" fill="#e8203c" fill-opacity="0.36"/>
<circle cx="1760.5" cy="1525.6" r="9.4" fill="#e8203c" fill-opacity="0.36"/>
<circle cx="1783.5" cy="1523.0" r="9.4" fill="#e8203c" fill-opacity="0.36"/>
<circle cx="1798.9" cy="1528.2" r="9.4" fill="#e8203c" fill-opacity="0.33"/>
<circle cx="1681.1" cy="1541.0" r="10.8" fill="#e8203c" fill-opacity="0.39"/>
<circle cx="1773.3" cy="1538.5" r="12.1" fill="#e8203c" fill-opacity="0.41"/>
<circle cx="1750.3" cy="1543.6" r="12.1" fill="#e8203c" fill-opacity="0.41"/>
<circle cx="1573.6" cy="1535.9" r="10.8" fill="#e8203c" fill-opacity="0.28"/>
<circle cx="2008.8" cy="1538.5" r="8.1" fill="#e8203c" fill-opacity="0.30"/>
<circle cx="1724.7" cy="1559.0" r="13.4" fill="#e8203c" fill-opacity="0.41"/>
<circle cx="1740.0" cy="1553.9" r="10.8" fill="#e8203c" fill-opacity="0.39"/>
<circle cx="1709.3" cy="1574.5" r="12.1" fill="#e8203c" fill-opacity="0.41"/>
<circle cx="1734.9" cy="1574.5" r="12.1" fill="#e8203c" fill-opacity="0.41"/>
<circle cx="1740.0" cy="1587.3" r="13.4" fill="#e8203c" fill-opacity="0.41"/>
<circle cx="1760.5" cy="1569.3" r="10.8" fill="#e8203c" fill-opacity="0.39"/>
<circle cx="1781.0" cy="1569.3" r="13.4" fill="#e8203c" fill-opacity="0.44"/>
<circle cx="1821.9" cy="1566.7" r="9.4" fill="#e8203c" fill-opacity="0.33"/>
<circle cx="1816.8" cy="1584.7" r="12.1" fill="#e8203c" fill-opacity="0.39"/>
<circle cx="1507.0" cy="1564.2" r="12.1" fill="#e8203c" fill-opacity="0.39"/>
<circle cx="1501.9" cy="1577.0" r="9.4" fill="#e8203c" fill-opacity="0.33"/>
<circle cx="1527.5" cy="1579.6" r="9.4" fill="#e8203c" fill-opacity="0.33"/>
<circle cx="1535.2" cy="1595.0" r="10.8" fill="#e8203c" fill-opacity="0.39"/>
<circle cx="1550.6" cy="1597.6" r="9.4" fill="#e8203c" fill-opacity="0.33"/>
<circle cx="1522.4" cy="1610.4" r="12.1" fill="#e8203c" fill-opacity="0.39"/>
<circle cx="1499.4" cy="1620.7" r="9.4" fill="#e8203c" fill-opacity="0.33"/>
<circle cx="1857.8" cy="1600.2" r="10.8" fill="#e8203c" fill-opacity="0.41"/>
<circle cx="1829.6" cy="1610.4" r="12.1" fill="#e8203c" fill-opacity="0.41"/>
<circle cx="1811.7" cy="1620.7" r="8.1" fill="#e8203c" fill-opacity="0.30"/>
<circle cx="1839.9" cy="1623.3" r="9.4" fill="#e8203c" fill-opacity="0.36"/>
<circle cx="1857.8" cy="1623.3" r="9.4" fill="#e8203c" fill-opacity="0.39"/>
<circle cx="1855.2" cy="1646.4" r="10.8" fill="#e8203c" fill-opacity="0.39"/>
<circle cx="1839.9" cy="1654.1" r="9.4" fill="#e8203c" fill-opacity="0.33"/>
<circle cx="1824.5" cy="1669.6" r="10.8" fill="#e8203c" fill-opacity="0.33"/>
<circle cx="1852.7" cy="1677.3" r="9.4" fill="#e8203c" fill-opacity="0.30"/>
<circle cx="1873.1" cy="1667.0" r="10.8" fill="#e8203c" fill-opacity="0.39"/>
<circle cx="1932.0" cy="1625.9" r="9.4" fill="#e8203c" fill-opacity="0.22"/>
<circle cx="1745.1" cy="1613.0" r="9.4" fill="#e8203c" fill-opacity="0.33"/>
<circle cx="1722.1" cy="1628.4" r="13.4" fill="#e8203c" fill-opacity="0.52"/>
<circle cx="1740.0" cy="1633.6" r="10.8" fill="#e8203c" fill-opacity="0.44"/>
<circle cx="1760.5" cy="1625.9" r="10.8" fill="#e8203c" fill-opacity="0.41"/>
<circle cx="1768.2" cy="1638.7" r="12.1" fill="#e8203c" fill-opacity="0.41"/>
<circle cx="1724.7" cy="1643.9" r="13.4" fill="#e8203c" fill-opacity="0.52"/>
<circle cx="1745.1" cy="1651.6" r="12.1" fill="#e8203c" fill-opacity="0.47"/>
<circle cx="1770.7" cy="1659.3" r="9.4" fill="#e8203c" fill-opacity="0.36"/>
<circle cx="1768.2" cy="1677.3" r="9.4" fill="#e8203c" fill-opacity="0.36"/>
<circle cx="1804.0" cy="1687.5" r="12.1" fill="#e8203c" fill-opacity="0.41"/>
<circle cx="1837.3" cy="1687.5" r="10.8" fill="#e8203c" fill-opacity="0.33"/>
</g>
</g></g>
<text x="1518.0" y="1351.5" font-family="'Liberation Serif','Times New Roman',serif" font-size="42" fill="#dcdcdc">Merged</text>
<rect x="1943" y="1681" width="53" height="16" fill="#f6f6f6" stroke="#9a9a9a" stroke-width="2"/>
<text x="1969.5" y="1692" font-family="'Liberation Serif','Times New Roman',serif" font-size="8" fill="#777" text-anchor="middle">20 µm</text>
<rect x="401" y="1708" width="533" height="403" fill="#6f6f6f"/>
<clipPath id="clipB10"><rect x="404" y="1711" width="527" height="397"/></clipPath>
<rect x="404" y="1711" width="527" height="397" fill="#010005"/>
<g clip-path="url(#clipB10)"><g style="isolation:isolate">
<g filter="url(#blur4)">
<circle cx="413.8" cy="1731.1" r="12.8" fill="#2a34ff" fill-opacity="0.80"/>
<circle cx="816.5" cy="1718.3" r="10.3" fill="#2a34ff" fill-opacity="0.60"/>
<circle cx="793.4" cy="1738.8" r="7.7" fill="#2a34ff" fill-opacity="0.60"/>
<circle cx="926.8" cy="1761.9" r="7.7" fill="#2a34ff" fill-opacity="0.60"/>
<circle cx="508.7" cy="1772.1" r="14.1" fill="#2a34ff" fill-opacity="0.85"/>
<circle cx="672.9" cy="1774.7" r="10.3" fill="#2a34ff" fill-opacity="0.75"/>
<circle cx="408.7" cy="1805.5" r="7.7" fill="#2a34ff" fill-opacity="0.60"/>
<circle cx="760.1" cy="1785.0" r="9.0" fill="#2a34ff" fill-opacity="0.70"/>
<circle cx="762.7" cy="1797.8" r="7.7" fill="#2a34ff" fill-opacity="0.65"/>
<circle cx="511.3" cy="1815.7" r="7.7" fill="#2a34ff" fill-opacity="0.70"/>
<circle cx="506.2" cy="1828.6" r="7.7" fill="#2a34ff" fill-opacity="0.65"/>
<circle cx="570.3" cy="1810.6" r="10.3" fill="#2a34ff" fill-opacity="0.75"/>
<circle cx="824.2" cy="1802.9" r="11.5" fill="#2a34ff" fill-opacity="0.80"/>
<circle cx="816.5" cy="1818.3" r="10.3" fill="#2a34ff" fill-opacity="0.75"/>
<circle cx="811.4" cy="1828.6" r="10.3" fill="#2a34ff" fill-opacity="0.75"/>
<circle cx="826.8" cy="1831.1" r="10.3" fill="#2a34ff" fill-opacity="0.75"/>
<circle cx="647.2" cy="1846.5" r="12.8" fill="#2a34ff" fill-opacity="0.80"/>
<circle cx="662.6" cy="1844.0" r="9.0" fill="#2a34ff" fill-opacity="0.70"/>
<circle cx="672.9" cy="1854.2" r="12.8" fill="#2a34ff" fill-opacity="0.80"/>
<circle cx="783.2" cy="1854.2" r="12.8" fill="#4a80ff" fill-opacity="0.95"/>
<circle cx="565.2" cy="1861.9" r="12.8" fill="#2a34ff" fill-opacity="0.85"/>
<circle cx="585.7" cy="1867.0" r="14.1" fill="#2a34ff" fill-opacity="0.80"/>
<circle cx="565.2" cy="1877.3" r="9.0" fill="#2a34ff" fill-opacity="0.60"/>
<circle cx="411.3" cy="1869.6" r="9.0" fill="#2a34ff" fill-opacity="0.70"/>
<circle cx="457.4" cy="1887.6" r="12.8" fill="#2a34ff" fill-opacity="0.80"/>
<circle cx="603.6" cy="1895.3" r="10.3" fill="#2a34ff" fill-opacity="0.75"/>
<circle cx="631.8" cy="1903.0" r="9.0" fill="#2a34ff" fill-opacity="0.70"/>
<circle cx="626.7" cy="1915.8" r="12.8" fill="#2a34ff" fill-opacity="0.85"/>
<circle cx="624.2" cy="1926.0" r="9.0" fill="#2a34ff" fill-opacity="0.70"/>
<circle cx="752.4" cy="1903.0" r="9.0" fill="#2a34ff" fill-opacity="0.75"/>
<circle cx="734.4" cy="1918.4" r="10.3" fill="#2a34ff" fill-opacity="0.75"/>
<circle cx="755.0" cy="1923.5" r="11.5" fill="#2a34ff" fill-opacity="0.80"/>
<circle cx="860.1" cy="1920.9" r="10.3" fill="#2a34ff" fill-opacity="0.75"/>
<circle cx="875.5" cy="1915.8" r="9.0" fill="#2a34ff" fill-opacity="0.65"/>
<circle cx="506.2" cy="1920.9" r="10.3" fill="#2a34ff" fill-opacity="0.75"/>
<circle cx="595.9" cy="1967.1" r="10.3" fill="#2a34ff" fill-opacity="0.80"/>
<circle cx="595.9" cy="1982.5" r="10.3" fill="#2a34ff" fill-opacity="0.80"/>
<circle cx="606.2" cy="1990.2" r="11.5" fill="#2a34ff" fill-opacity="0.80"/>
<circle cx="603.6" cy="2008.1" r="12.8" fill="#2a34ff" fill-opacity="0.80"/>
<circle cx="652.4" cy="1972.2" r="12.8" fill="#2a34ff" fill-opacity="0.85"/>
<circle cx="670.3" cy="1974.8" r="11.5" fill="#2a34ff" fill-opacity="0.80"/>
<circle cx="644.7" cy="1987.6" r="12.8" fill="#2a34ff" fill-opacity="0.85"/>
<circle cx="480.5" cy="1997.9" r="14.1" fill="#2a34ff" fill-opacity="0.85"/>
<circle cx="511.3" cy="2087.7" r="12.8" fill="#2a34ff" fill-opacity="0.85"/>
<circle cx="524.1" cy="2097.9" r="9.0" fill="#2a34ff" fill-opacity="0.70"/>
<circle cx="562.6" cy="2103.0" r="7.7" fill="#2a34ff" fill-opacity="0.60"/>
<circle cx="755.0" cy="2092.8" r="10.3" fill="#2a34ff" fill-opacity="0.80"/>
</g>
</g></g>
<text x="424.0" y="1762.0" font-family="'Liberation Serif','Times New Roman',serif" font-size="42" fill="#6f90c0">DAPI</text>
<rect x="861" y="2088" width="53" height="16" fill="#f6f6f6" stroke="#9a9a9a" stroke-width="2"/>
<text x="887.5" y="2099" font-family="'Liberation Serif','Times New Roman',serif" font-size="8" fill="#777" text-anchor="middle">20 µm</text>
<rect x="944" y="1708" width="529" height="400" fill="#6f6f6f"/>
<clipPath id="clipB11"><rect x="947" y="1711" width="523" height="394"/></clipPath>
<rect x="947" y="1711" width="523" height="394" fill="#010005"/>
<g clip-path="url(#clipB11)"><g style="isolation:isolate">
<g filter="url(#blur4)">
<circle cx="956.7" cy="1730.9" r="12.7" fill="#e01c38" fill-opacity="0.68"/>
<circle cx="1356.4" cy="1718.2" r="10.2" fill="#e01c38" fill-opacity="0.51"/>
<circle cx="1333.5" cy="1738.6" r="7.6" fill="#e01c38" fill-opacity="0.51"/>
<circle cx="1465.9" cy="1761.5" r="7.6" fill="#e01c38" fill-opacity="0.51"/>
<circle cx="1050.9" cy="1771.7" r="14.0" fill="#e01c38" fill-opacity="0.72"/>
<circle cx="1213.8" cy="1774.2" r="10.2" fill="#e01c38" fill-opacity="0.64"/>
<circle cx="951.6" cy="1804.8" r="7.6" fill="#e01c38" fill-opacity="0.51"/>
<circle cx="1300.4" cy="1784.4" r="8.9" fill="#e01c38" fill-opacity="0.59"/>
<circle cx="1302.9" cy="1797.1" r="7.6" fill="#e01c38" fill-opacity="0.55"/>
<circle cx="1053.5" cy="1814.9" r="7.6" fill="#e01c38" fill-opacity="0.59"/>
<circle cx="1048.4" cy="1827.7" r="7.6" fill="#e01c38" fill-opacity="0.55"/>
<circle cx="1112.0" cy="1809.8" r="10.2" fill="#e01c38" fill-opacity="0.64"/>
<circle cx="1364.0" cy="1802.2" r="11.5" fill="#e01c38" fill-opacity="0.68"/>
<circle cx="1356.4" cy="1817.5" r="10.2" fill="#e01c38" fill-opacity="0.64"/>
<circle cx="1351.3" cy="1827.7" r="10.2" fill="#e01c38" fill-opacity="0.64"/>
<circle cx="1366.6" cy="1830.2" r="10.2" fill="#e01c38" fill-opacity="0.64"/>
<circle cx="1188.4" cy="1845.5" r="12.7" fill="#e01c38" fill-opacity="0.68"/>
<circle cx="1203.7" cy="1842.9" r="8.9" fill="#e01c38" fill-opacity="0.59"/>
<circle cx="1213.8" cy="1853.1" r="12.7" fill="#e01c38" fill-opacity="0.68"/>
<circle cx="1323.3" cy="1853.1" r="12.7" fill="#e01c38" fill-opacity="0.81"/>
<circle cx="1106.9" cy="1860.8" r="12.7" fill="#e01c38" fill-opacity="0.72"/>
<circle cx="1127.3" cy="1865.9" r="14.0" fill="#e01c38" fill-opacity="0.68"/>
<circle cx="1106.9" cy="1876.0" r="8.9" fill="#e01c38" fill-opacity="0.51"/>
<circle cx="954.2" cy="1868.4" r="8.9" fill="#e01c38" fill-opacity="0.59"/>
<circle cx="1000.0" cy="1886.2" r="12.7" fill="#e01c38" fill-opacity="0.68"/>
<circle cx="1145.1" cy="1893.9" r="10.2" fill="#e01c38" fill-opacity="0.64"/>
<circle cx="1173.1" cy="1901.5" r="8.9" fill="#e01c38" fill-opacity="0.59"/>
<circle cx="1168.0" cy="1914.2" r="12.7" fill="#e01c38" fill-opacity="0.72"/>
<circle cx="1165.5" cy="1924.4" r="8.9" fill="#e01c38" fill-opacity="0.59"/>
<circle cx="1292.8" cy="1901.5" r="8.9" fill="#e01c38" fill-opacity="0.64"/>
<circle cx="1274.9" cy="1916.8" r="10.2" fill="#e01c38" fill-opacity="0.64"/>
<circle cx="1295.3" cy="1921.9" r="11.5" fill="#e01c38" fill-opacity="0.68"/>
<circle cx="1399.7" cy="1919.3" r="10.2" fill="#e01c38" fill-opacity="0.64"/>
<circle cx="1415.0" cy="1914.2" r="8.9" fill="#e01c38" fill-opacity="0.55"/>
<circle cx="1048.4" cy="1919.3" r="10.2" fill="#e01c38" fill-opacity="0.64"/>
<circle cx="1137.5" cy="1965.2" r="10.2" fill="#e01c38" fill-opacity="0.68"/>
<circle cx="1137.5" cy="1980.4" r="10.2" fill="#e01c38" fill-opacity="0.68"/>
<circle cx="1147.7" cy="1988.1" r="11.5" fill="#e01c38" fill-opacity="0.68"/>
<circle cx="1145.1" cy="2005.9" r="12.7" fill="#e01c38" fill-opacity="0.68"/>
<circle cx="1193.5" cy="1970.3" r="12.7" fill="#e01c38" fill-opacity="0.72"/>
<circle cx="1211.3" cy="1972.8" r="11.5" fill="#e01c38" fill-opacity="0.68"/>
<circle cx="1185.8" cy="1985.5" r="12.7" fill="#e01c38" fill-opacity="0.72"/>
<circle cx="1022.9" cy="1995.7" r="14.0" fill="#e01c38" fill-opacity="0.72"/>
<circle cx="1053.5" cy="2084.8" r="12.7" fill="#e01c38" fill-opacity="0.72"/>
<circle cx="1066.2" cy="2095.0" r="8.9" fill="#e01c38" fill-opacity="0.59"/>
<circle cx="1104.4" cy="2100.1" r="7.6" fill="#e01c38" fill-opacity="0.51"/>
<circle cx="1295.3" cy="2089.9" r="10.2" fill="#e01c38" fill-opacity="0.68"/>
</g>
</g></g>
<text x="978.0" y="1762.0" font-family="'Liberation Serif','Times New Roman',serif" font-size="42" fill="#c85a5e">Ki67</text>
<rect x="1400" y="2085" width="53" height="16" fill="#f6f6f6" stroke="#9a9a9a" stroke-width="2"/>
<text x="1426.5" y="2096" font-family="'Liberation Serif','Times New Roman',serif" font-size="8" fill="#777" text-anchor="middle">20 µm</text>
<rect x="1487" y="1708" width="532" height="402" fill="#6f6f6f"/>
<clipPath id="clipB12"><rect x="1490" y="1711" width="526" height="396"/></clipPath>
<rect x="1490" y="1711" width="526" height="396" fill="#010005"/>
<g clip-path="url(#clipB12)"><g style="isolation:isolate">
<g filter="url(#blur4)">
<circle cx="1499.8" cy="1731.0" r="12.8" fill="#2a34ff" fill-opacity="0.53"/>
<circle cx="1901.7" cy="1718.2" r="10.2" fill="#2a34ff" fill-opacity="0.40"/>
<circle cx="1878.7" cy="1738.7" r="7.7" fill="#2a34ff" fill-opacity="0.40"/>
<circle cx="2011.8" cy="1761.7" r="7.7" fill="#2a34ff" fill-opacity="0.40"/>
<circle cx="1594.5" cy="1772.0" r="14.1" fill="#2a34ff" fill-opacity="0.56"/>
<circle cx="1758.4" cy="1774.5" r="10.2" fill="#2a34ff" fill-opacity="0.49"/>
<circle cx="1494.7" cy="1805.2" r="7.7" fill="#2a34ff" fill-opacity="0.40"/>
<circle cx="1845.4" cy="1784.8" r="9.0" fill="#2a34ff" fill-opacity="0.46"/>
<circle cx="1848.0" cy="1797.6" r="7.7" fill="#2a34ff" fill-opacity="0.43"/>
<circle cx="1597.1" cy="1815.5" r="7.7" fill="#2a34ff" fill-opacity="0.46"/>
<circle cx="1592.0" cy="1828.3" r="7.7" fill="#2a34ff" fill-opacity="0.43"/>
<circle cx="1656.0" cy="1810.4" r="10.2" fill="#2a34ff" fill-opacity="0.49"/>
<circle cx="1909.4" cy="1802.7" r="11.5" fill="#2a34ff" fill-opacity="0.53"/>
<circle cx="1901.7" cy="1818.0" r="10.2" fill="#2a34ff" fill-opacity="0.49"/>
<circle cx="1896.6" cy="1828.3" r="10.2" fill="#2a34ff" fill-opacity="0.49"/>
<circle cx="1912.0" cy="1830.8" r="10.2" fill="#2a34ff" fill-opacity="0.49"/>
<circle cx="1732.8" cy="1846.2" r="12.8" fill="#2a34ff" fill-opacity="0.53"/>
<circle cx="1748.1" cy="1843.6" r="9.0" fill="#2a34ff" fill-opacity="0.46"/>
<circle cx="1758.4" cy="1853.9" r="12.8" fill="#2a34ff" fill-opacity="0.53"/>
<circle cx="1868.5" cy="1853.9" r="12.8" fill="#4a80ff" fill-opacity="0.63"/>
<circle cx="1650.8" cy="1861.5" r="12.8" fill="#2a34ff" fill-opacity="0.56"/>
<circle cx="1671.3" cy="1866.7" r="14.1" fill="#2a34ff" fill-opacity="0.53"/>
<circle cx="1650.8" cy="1876.9" r="9.0" fill="#2a34ff" fill-opacity="0.40"/>
<circle cx="1497.2" cy="1869.2" r="9.0" fill="#2a34ff" fill-opacity="0.46"/>
<circle cx="1543.3" cy="1887.1" r="12.8" fill="#2a34ff" fill-opacity="0.53"/>
<circle cx="1689.3" cy="1894.8" r="10.2" fill="#2a34ff" fill-opacity="0.49"/>
<circle cx="1717.4" cy="1902.5" r="9.0" fill="#2a34ff" fill-opacity="0.46"/>
<circle cx="1712.3" cy="1915.3" r="12.8" fill="#2a34ff" fill-opacity="0.56"/>
<circle cx="1709.7" cy="1925.5" r="9.0" fill="#2a34ff" fill-opacity="0.46"/>
<circle cx="1837.7" cy="1902.5" r="9.0" fill="#2a34ff" fill-opacity="0.49"/>
<circle cx="1819.8" cy="1917.8" r="10.2" fill="#2a34ff" fill-opacity="0.49"/>
<circle cx="1840.3" cy="1922.9" r="11.5" fill="#2a34ff" fill-opacity="0.53"/>
<circle cx="1945.3" cy="1920.4" r="10.2" fill="#2a34ff" fill-opacity="0.49"/>
<circle cx="1960.6" cy="1915.3" r="9.0" fill="#2a34ff" fill-opacity="0.43"/>
<circle cx="1592.0" cy="1920.4" r="10.2" fill="#2a34ff" fill-opacity="0.49"/>
<circle cx="1681.6" cy="1966.4" r="10.2" fill="#2a34ff" fill-opacity="0.53"/>
<circle cx="1681.6" cy="1981.8" r="10.2" fill="#2a34ff" fill-opacity="0.53"/>
<circle cx="1691.8" cy="1989.5" r="11.5" fill="#2a34ff" fill-opacity="0.53"/>
<circle cx="1689.3" cy="2007.4" r="12.8" fill="#2a34ff" fill-opacity="0.53"/>
<circle cx="1737.9" cy="1971.6" r="12.8" fill="#2a34ff" fill-opacity="0.56"/>
<circle cx="1755.8" cy="1974.1" r="11.5" fill="#2a34ff" fill-opacity="0.53"/>
<circle cx="1730.2" cy="1986.9" r="12.8" fill="#2a34ff" fill-opacity="0.56"/>
<circle cx="1566.4" cy="1997.2" r="14.1" fill="#2a34ff" fill-opacity="0.56"/>
<circle cx="1597.1" cy="2086.7" r="12.8" fill="#2a34ff" fill-opacity="0.56"/>
<circle cx="1609.9" cy="2096.9" r="9.0" fill="#2a34ff" fill-opacity="0.46"/>
<circle cx="1648.3" cy="2102.1" r="7.7" fill="#2a34ff" fill-opacity="0.40"/>
<circle cx="1840.3" cy="2091.8" r="10.2" fill="#2a34ff" fill-opacity="0.53"/>
</g>
<g filter="url(#blur4)" style="mix-blend-mode:screen">
<circle cx="1499.8" cy="1731.0" r="12.8" fill="#e01c38" fill-opacity="0.31"/>
<circle cx="1901.7" cy="1718.2" r="10.2" fill="#e01c38" fill-opacity="0.23"/>
<circle cx="1878.7" cy="1738.7" r="7.7" fill="#e01c38" fill-opacity="0.23"/>
<circle cx="2011.8" cy="1761.7" r="7.7" fill="#e01c38" fill-opacity="0.23"/>
<circle cx="1594.5" cy="1772.0" r="14.1" fill="#e01c38" fill-opacity="0.33"/>
<circle cx="1758.4" cy="1774.5" r="10.2" fill="#e01c38" fill-opacity="0.29"/>
<circle cx="1494.7" cy="1805.2" r="7.7" fill="#e01c38" fill-opacity="0.23"/>
<circle cx="1845.4" cy="1784.8" r="9.0" fill="#e01c38" fill-opacity="0.27"/>
<circle cx="1848.0" cy="1797.6" r="7.7" fill="#e01c38" fill-opacity="0.25"/>
<circle cx="1597.1" cy="1815.5" r="7.7" fill="#e01c38" fill-opacity="0.27"/>
<circle cx="1592.0" cy="1828.3" r="7.7" fill="#e01c38" fill-opacity="0.25"/>
<circle cx="1656.0" cy="1810.4" r="10.2" fill="#e01c38" fill-opacity="0.29"/>
<circle cx="1909.4" cy="1802.7" r="11.5" fill="#e01c38" fill-opacity="0.31"/>
<circle cx="1901.7" cy="1818.0" r="10.2" fill="#e01c38" fill-opacity="0.29"/>
<circle cx="1896.6" cy="1828.3" r="10.2" fill="#e01c38" fill-opacity="0.29"/>
<circle cx="1912.0" cy="1830.8" r="10.2" fill="#e01c38" fill-opacity="0.29"/>
<circle cx="1732.8" cy="1846.2" r="12.8" fill="#e01c38" fill-opacity="0.31"/>
<circle cx="1748.1" cy="1843.6" r="9.0" fill="#e01c38" fill-opacity="0.27"/>
<circle cx="1758.4" cy="1853.9" r="12.8" fill="#e01c38" fill-opacity="0.31"/>
<circle cx="1868.5" cy="1853.9" r="12.8" fill="#e01c38" fill-opacity="0.37"/>
<circle cx="1650.8" cy="1861.5" r="12.8" fill="#e01c38" fill-opacity="0.33"/>
<circle cx="1671.3" cy="1866.7" r="14.1" fill="#e01c38" fill-opacity="0.31"/>
<circle cx="1650.8" cy="1876.9" r="9.0" fill="#e01c38" fill-opacity="0.23"/>
<circle cx="1497.2" cy="1869.2" r="9.0" fill="#e01c38" fill-opacity="0.27"/>
<circle cx="1543.3" cy="1887.1" r="12.8" fill="#e01c38" fill-opacity="0.31"/>
<circle cx="1689.3" cy="1894.8" r="10.2" fill="#e01c38" fill-opacity="0.29"/>
<circle cx="1717.4" cy="1902.5" r="9.0" fill="#e01c38" fill-opacity="0.27"/>
<circle cx="1712.3" cy="1915.3" r="12.8" fill="#e01c38" fill-opacity="0.33"/>
<circle cx="1709.7" cy="1925.5" r="9.0" fill="#e01c38" fill-opacity="0.27"/>
<circle cx="1837.7" cy="1902.5" r="9.0" fill="#e01c38" fill-opacity="0.29"/>
<circle cx="1819.8" cy="1917.8" r="10.2" fill="#e01c38" fill-opacity="0.29"/>
<circle cx="1840.3" cy="1922.9" r="11.5" fill="#e01c38" fill-opacity="0.31"/>
<circle cx="1945.3" cy="1920.4" r="10.2" fill="#e01c38" fill-opacity="0.29"/>
<circle cx="1960.6" cy="1915.3" r="9.0" fill="#e01c38" fill-opacity="0.25"/>
<circle cx="1592.0" cy="1920.4" r="10.2" fill="#e01c38" fill-opacity="0.29"/>
<circle cx="1681.6" cy="1966.4" r="10.2" fill="#e01c38" fill-opacity="0.31"/>
<circle cx="1681.6" cy="1981.8" r="10.2" fill="#e01c38" fill-opacity="0.31"/>
<circle cx="1691.8" cy="1989.5" r="11.5" fill="#e01c38" fill-opacity="0.31"/>
<circle cx="1689.3" cy="2007.4" r="12.8" fill="#e01c38" fill-opacity="0.31"/>
<circle cx="1737.9" cy="1971.6" r="12.8" fill="#e01c38" fill-opacity="0.33"/>
<circle cx="1755.8" cy="1974.1" r="11.5" fill="#e01c38" fill-opacity="0.31"/>
<circle cx="1730.2" cy="1986.9" r="12.8" fill="#e01c38" fill-opacity="0.33"/>
<circle cx="1566.4" cy="1997.2" r="14.1" fill="#e01c38" fill-opacity="0.33"/>
<circle cx="1597.1" cy="2086.7" r="12.8" fill="#e01c38" fill-opacity="0.33"/>
<circle cx="1609.9" cy="2096.9" r="9.0" fill="#e01c38" fill-opacity="0.27"/>
<circle cx="1648.3" cy="2102.1" r="7.7" fill="#e01c38" fill-opacity="0.23"/>
<circle cx="1840.3" cy="2091.8" r="10.2" fill="#e01c38" fill-opacity="0.31"/>
</g>
</g></g>
<text x="1518.0" y="1762.0" font-family="'Liberation Serif','Times New Roman',serif" font-size="42" fill="#dcdcdc">Merged</text>
<rect x="1946" y="2087" width="53" height="16" fill="#f6f6f6" stroke="#9a9a9a" stroke-width="2"/>
<text x="1972.5" y="2098" font-family="'Liberation Serif','Times New Roman',serif" font-size="8" fill="#777" text-anchor="middle">20 µm</text>
<rect x="401" y="2118" width="531" height="400" fill="#6f6f6f"/>
<clipPath id="clipB20"><rect x="404" y="2121" width="525" height="394"/></clipPath>
<rect x="404" y="2121" width="525" height="394" fill="#010005"/>
<g clip-path="url(#clipB20)"><g style="isolation:isolate">
<g filter="url(#blur3)">
<circle cx="490.4" cy="2120.6" r="7.3" fill="#3c88ff" fill-opacity="0.80"/>
<circle cx="444.4" cy="2156.3" r="8.5" fill="#3c88ff" fill-opacity="0.80"/>
<circle cx="623.3" cy="2169.1" r="9.7" fill="#4aa0ff" fill-opacity="1.00"/>
<circle cx="840.5" cy="2135.9" r="9.7" fill="#4aa0ff" fill-opacity="1.00"/>
<circle cx="677.0" cy="2227.9" r="8.5" fill="#4aa0ff" fill-opacity="1.00"/>
<circle cx="669.3" cy="2240.7" r="8.5" fill="#4aa0ff" fill-opacity="1.00"/>
<circle cx="661.6" cy="2253.5" r="7.3" fill="#4aa0ff" fill-opacity="1.00"/>
<circle cx="546.7" cy="2263.7" r="8.5" fill="#4aa0ff" fill-opacity="1.00"/>
<circle cx="569.7" cy="2263.7" r="7.3" fill="#4aa0ff" fill-opacity="1.00"/>
<circle cx="556.9" cy="2279.0" r="10.9" fill="#4aa0ff" fill-opacity="1.00"/>
<circle cx="602.9" cy="2294.4" r="7.3" fill="#4aa0ff" fill-opacity="1.00"/>
<circle cx="602.9" cy="2309.7" r="7.3" fill="#4aa0ff" fill-opacity="1.00"/>
<circle cx="863.5" cy="2225.3" r="8.5" fill="#4aa0ff" fill-opacity="1.00"/>
<circle cx="516.0" cy="2322.5" r="9.7" fill="#4aa0ff" fill-opacity="1.00"/>
<circle cx="889.1" cy="2314.8" r="9.7" fill="#4aa0ff" fill-opacity="1.00"/>
<circle cx="429.1" cy="2358.3" r="8.5" fill="#4aa0ff" fill-opacity="1.00"/>
<circle cx="441.9" cy="2363.4" r="7.3" fill="#4aa0ff" fill-opacity="1.00"/>
<circle cx="457.2" cy="2363.4" r="8.5" fill="#4aa0ff" fill-opacity="1.00"/>
<circle cx="628.4" cy="2355.7" r="8.5" fill="#4aa0ff" fill-opacity="1.00"/>
<circle cx="648.9" cy="2371.0" r="8.5" fill="#4aa0ff" fill-opacity="1.00"/>
<circle cx="623.3" cy="2411.9" r="8.5" fill="#4aa0ff" fill-opacity="1.00"/>
<circle cx="625.9" cy="2427.3" r="8.5" fill="#4aa0ff" fill-opacity="1.00"/>
<circle cx="820.1" cy="2419.6" r="9.7" fill="#4aa0ff" fill-opacity="1.00"/>
<circle cx="912.1" cy="2440.0" r="9.7" fill="#4aa0ff" fill-opacity="1.00"/>
<circle cx="564.5" cy="2506.5" r="8.5" fill="#4aa0ff" fill-opacity="1.00"/>
<circle cx="738.3" cy="2506.5" r="9.7" fill="#4aa0ff" fill-opacity="1.00"/>
<circle cx="753.6" cy="2509.1" r="8.5" fill="#4aa0ff" fill-opacity="1.00"/>
</g>
</g></g>
<text x="424.0" y="2165.4" font-family="'Liberation Serif','Times New Roman',serif" font-size="42" fill="#6f90c0">DAPI</text>
<rect x="859" y="2495" width="53" height="16" fill="#f6f6f6" stroke="#9a9a9a" stroke-width="2"/>
<text x="885.5" y="2506" font-family="'Liberation Serif','Times New Roman',serif" font-size="8" fill="#777" text-anchor="middle">20 µm</text>
<rect x="941" y="2118" width="529" height="399" fill="#6f6f6f"/>
<clipPath id="clipB21"><rect x="944" y="2121" width="523" height="393"/></clipPath>
<rect x="944" y="2121" width="523" height="393" fill="#010005"/>
<g clip-path="url(#clipB21)"><g style="isolation:isolate">
<g filter="url(#blur3)">
<circle cx="1030.1" cy="2120.5" r="7.3" fill="#d81830" fill-opacity="0.64"/>
<circle cx="984.3" cy="2156.2" r="8.5" fill="#d81830" fill-opacity="0.64"/>
<circle cx="1162.5" cy="2169.0" r="9.7" fill="#d81830" fill-opacity="0.80"/>
<circle cx="1378.9" cy="2135.8" r="9.7" fill="#d81830" fill-opacity="0.80"/>
<circle cx="1215.9" cy="2227.6" r="8.5" fill="#d81830" fill-opacity="0.80"/>
<circle cx="1208.3" cy="2240.4" r="8.5" fill="#d81830" fill-opacity="0.80"/>
<circle cx="1200.7" cy="2253.1" r="7.3" fill="#d81830" fill-opacity="0.80"/>
<circle cx="1086.1" cy="2263.3" r="8.5" fill="#d81830" fill-opacity="0.80"/>
<circle cx="1109.0" cy="2263.3" r="7.3" fill="#d81830" fill-opacity="0.80"/>
<circle cx="1096.3" cy="2278.6" r="10.9" fill="#d81830" fill-opacity="0.80"/>
<circle cx="1142.1" cy="2293.9" r="7.3" fill="#d81830" fill-opacity="0.80"/>
<circle cx="1142.1" cy="2309.2" r="7.3" fill="#d81830" fill-opacity="0.80"/>
<circle cx="1401.8" cy="2225.1" r="8.5" fill="#d81830" fill-opacity="0.80"/>
<circle cx="1055.6" cy="2322.0" r="9.7" fill="#d81830" fill-opacity="0.80"/>
<circle cx="1427.2" cy="2314.3" r="9.7" fill="#d81830" fill-opacity="0.80"/>
<circle cx="969.0" cy="2357.7" r="8.5" fill="#d81830" fill-opacity="0.80"/>
<circle cx="981.7" cy="2362.8" r="7.3" fill="#d81830" fill-opacity="0.80"/>
<circle cx="997.0" cy="2362.8" r="8.5" fill="#d81830" fill-opacity="0.80"/>
<circle cx="1167.6" cy="2355.1" r="8.5" fill="#d81830" fill-opacity="0.80"/>
<circle cx="1187.9" cy="2370.4" r="8.5" fill="#d81830" fill-opacity="0.80"/>
<circle cx="1162.5" cy="2411.2" r="8.5" fill="#d81830" fill-opacity="0.80"/>
<circle cx="1165.0" cy="2426.5" r="8.5" fill="#d81830" fill-opacity="0.80"/>
<circle cx="1358.5" cy="2418.8" r="9.7" fill="#d81830" fill-opacity="0.80"/>
<circle cx="1450.1" cy="2439.2" r="9.7" fill="#d81830" fill-opacity="0.80"/>
<circle cx="1103.9" cy="2505.5" r="8.5" fill="#d81830" fill-opacity="0.80"/>
<circle cx="1277.0" cy="2505.5" r="9.7" fill="#d81830" fill-opacity="0.80"/>
<circle cx="1292.3" cy="2508.1" r="8.5" fill="#d81830" fill-opacity="0.80"/>
</g>
</g></g>
<text x="978.0" y="2166.0" font-family="'Liberation Serif','Times New Roman',serif" font-size="42" fill="#c85a5e">Ki67</text>
<rect x="1397" y="2494" width="53" height="16" fill="#f6f6f6" stroke="#9a9a9a" stroke-width="2"/>
<text x="1423.5" y="2505" font-family="'Liberation Serif','Times New Roman',serif" font-size="8" fill="#777" text-anchor="middle">20 µm</text>
<rect x="1487" y="2118" width="533" height="402" fill="#6f6f6f"/>
<clipPath id="clipB22"><rect x="1490" y="2121" width="527" height="396"/></clipPath>
<rect x="1490" y="2121" width="527" height="396" fill="#010005"/>
<g clip-path="url(#clipB22)"><g style="isolation:isolate">
<g filter="url(#blur3)">
<circle cx="1576.8" cy="2120.6" r="7.3" fill="#3c88ff" fill-opacity="0.54"/>
<circle cx="1530.6" cy="2156.5" r="8.5" fill="#3c88ff" fill-opacity="0.54"/>
<circle cx="1710.2" cy="2169.4" r="9.7" fill="#4aa0ff" fill-opacity="0.68"/>
<circle cx="1928.2" cy="2136.0" r="9.7" fill="#4aa0ff" fill-opacity="0.68"/>
<circle cx="1764.0" cy="2228.5" r="8.5" fill="#4aa0ff" fill-opacity="0.68"/>
<circle cx="1756.3" cy="2241.3" r="8.5" fill="#4aa0ff" fill-opacity="0.68"/>
<circle cx="1748.6" cy="2254.1" r="7.3" fill="#4aa0ff" fill-opacity="0.68"/>
<circle cx="1633.2" cy="2264.4" r="8.5" fill="#4aa0ff" fill-opacity="0.68"/>
<circle cx="1656.3" cy="2264.4" r="7.3" fill="#4aa0ff" fill-opacity="0.68"/>
<circle cx="1643.5" cy="2279.8" r="11.0" fill="#4aa0ff" fill-opacity="0.68"/>
<circle cx="1689.6" cy="2295.2" r="7.3" fill="#4aa0ff" fill-opacity="0.68"/>
<circle cx="1689.6" cy="2310.7" r="7.3" fill="#4aa0ff" fill-opacity="0.68"/>
<circle cx="1951.3" cy="2225.9" r="8.5" fill="#4aa0ff" fill-opacity="0.68"/>
<circle cx="1602.4" cy="2323.5" r="9.7" fill="#4aa0ff" fill-opacity="0.68"/>
<circle cx="1976.9" cy="2315.8" r="9.7" fill="#4aa0ff" fill-opacity="0.68"/>
<circle cx="1515.2" cy="2359.5" r="8.5" fill="#4aa0ff" fill-opacity="0.68"/>
<circle cx="1528.0" cy="2364.6" r="7.3" fill="#4aa0ff" fill-opacity="0.68"/>
<circle cx="1543.4" cy="2364.6" r="8.5" fill="#4aa0ff" fill-opacity="0.68"/>
<circle cx="1715.3" cy="2356.9" r="8.5" fill="#4aa0ff" fill-opacity="0.68"/>
<circle cx="1735.8" cy="2372.3" r="8.5" fill="#4aa0ff" fill-opacity="0.68"/>
<circle cx="1710.2" cy="2413.4" r="8.5" fill="#4aa0ff" fill-opacity="0.68"/>
<circle cx="1712.7" cy="2428.8" r="8.5" fill="#4aa0ff" fill-opacity="0.68"/>
<circle cx="1907.7" cy="2421.1" r="9.7" fill="#4aa0ff" fill-opacity="0.68"/>
<circle cx="2000.0" cy="2441.7" r="9.7" fill="#4aa0ff" fill-opacity="0.68"/>
<circle cx="1651.2" cy="2508.4" r="8.5" fill="#4aa0ff" fill-opacity="0.68"/>
<circle cx="1825.6" cy="2508.4" r="9.7" fill="#4aa0ff" fill-opacity="0.68"/>
<circle cx="1841.0" cy="2511.0" r="8.5" fill="#4aa0ff" fill-opacity="0.68"/>
</g>
<g filter="url(#blur3)" style="mix-blend-mode:screen">
<circle cx="1576.8" cy="2120.6" r="7.3" fill="#d81830" fill-opacity="0.27"/>
<circle cx="1530.6" cy="2156.5" r="8.5" fill="#d81830" fill-opacity="0.27"/>
<circle cx="1710.2" cy="2169.4" r="9.7" fill="#d81830" fill-opacity="0.34"/>
<circle cx="1928.2" cy="2136.0" r="9.7" fill="#d81830" fill-opacity="0.34"/>
<circle cx="1764.0" cy="2228.5" r="8.5" fill="#d81830" fill-opacity="0.34"/>
<circle cx="1756.3" cy="2241.3" r="8.5" fill="#d81830" fill-opacity="0.34"/>
<circle cx="1748.6" cy="2254.1" r="7.3" fill="#d81830" fill-opacity="0.34"/>
<circle cx="1633.2" cy="2264.4" r="8.5" fill="#d81830" fill-opacity="0.34"/>
<circle cx="1656.3" cy="2264.4" r="7.3" fill="#d81830" fill-opacity="0.34"/>
<circle cx="1643.5" cy="2279.8" r="11.0" fill="#d81830" fill-opacity="0.34"/>
<circle cx="1689.6" cy="2295.2" r="7.3" fill="#d81830" fill-opacity="0.34"/>
<circle cx="1689.6" cy="2310.7" r="7.3" fill="#d81830" fill-opacity="0.34"/>
<circle cx="1951.3" cy="2225.9" r="8.5" fill="#d81830" fill-opacity="0.34"/>
<circle cx="1602.4" cy="2323.5" r="9.7" fill="#d81830" fill-opacity="0.34"/>
<circle cx="1976.9" cy="2315.8" r="9.7" fill="#d81830" fill-opacity="0.34"/>
<circle cx="1515.2" cy="2359.5" r="8.5" fill="#d81830" fill-opacity="0.34"/>
<circle cx="1528.0" cy="2364.6" r="7.3" fill="#d81830" fill-opacity="0.34"/>
<circle cx="1543.4" cy="2364.6" r="8.5" fill="#d81830" fill-opacity="0.34"/>
<circle cx="1715.3" cy="2356.9" r="8.5" fill="#d81830" fill-opacity="0.34"/>
<circle cx="1735.8" cy="2372.3" r="8.5" fill="#d81830" fill-opacity="0.34"/>
<circle cx="1710.2" cy="2413.4" r="8.5" fill="#d81830" fill-opacity="0.34"/>
<circle cx="1712.7" cy="2428.8" r="8.5" fill="#d81830" fill-opacity="0.34"/>
<circle cx="1907.7" cy="2421.1" r="9.7" fill="#d81830" fill-opacity="0.34"/>
<circle cx="2000.0" cy="2441.7" r="9.7" fill="#d81830" fill-opacity="0.34"/>
<circle cx="1651.2" cy="2508.4" r="8.5" fill="#d81830" fill-opacity="0.34"/>
<circle cx="1825.6" cy="2508.4" r="9.7" fill="#d81830" fill-opacity="0.34"/>
<circle cx="1841.0" cy="2511.0" r="8.5" fill="#d81830" fill-opacity="0.34"/>
</g>
</g></g>
<text x="1518.0" y="2173.8" font-family="'Liberation Serif','Times New Roman',serif" font-size="42" fill="#dcdcdc">Merged</text>
<rect x="1947" y="2497" width="53" height="16" fill="#f6f6f6" stroke="#9a9a9a" stroke-width="2"/>
<text x="1973.5" y="2508" font-family="'Liberation Serif','Times New Roman',serif" font-size="8" fill="#777" text-anchor="middle">20 µm</text>
<text x="70" y="246.5" font-family="'Liberation Serif','Times New Roman',serif" font-weight="bold" font-size="78" fill="#111" letter-spacing="0.8">(A)</text>
<text x="56" y="1395" font-family="'Liberation Serif','Times New Roman',serif" font-weight="bold" font-size="78" fill="#111" letter-spacing="0.8">(B)</text>
<text x="266.5" y="269.8" font-family="'Liberation Serif','Times New Roman',serif" font-size="66" fill="#1a1a1a">FBS</text>
<text x="268" y="620.5" font-family="'Liberation Serif','Times New Roman',serif" font-size="64" fill="#1a1a1a">FCM</text>
<text x="256.5" y="1056" font-family="'Liberation Serif','Times New Roman',serif" font-size="64" fill="#1a1a1a">SCM</text>
<text x="287" y="1558.7" font-family="'Liberation Serif','Times New Roman',serif" font-size="64" fill="#1a1a1a">FBS</text>
<text x="260" y="1939.6" font-family="'Liberation Serif','Times New Roman',serif" font-size="64" fill="#1a1a1a">FCM</text>
<text x="257" y="2314" font-family="'Liberation Serif','Times New Roman',serif" font-size="64" fill="#1a1a1a">SCM</text>
<text transform="translate(199.5,746.5) rotate(-90)" font-family="'Liberation Serif','Times New Roman',serif" font-size="80" fill="#1a1a1a">MCF-7</text>
<text transform="translate(205.8,2130.5) rotate(-90)" font-family="'Liberation Serif','Times New Roman',serif" font-size="80" fill="#1a1a1a">MDA-MB 361</text>
<line x1="2309" y1="353" x2="2309" y2="998" stroke="#111" stroke-width="7"/>
<line x1="2291" y1="994" x2="2879" y2="994" stroke="#111" stroke-width="8"/>
<line x1="2290" y1="994" x2="2309" y2="994" stroke="#111" stroke-width="7"/>
<line x1="2290" y1="781.5" x2="2309" y2="781.5" stroke="#111" stroke-width="7"/>
<line x1="2290" y1="569" x2="2309" y2="569" stroke="#111" stroke-width="7"/>
<line x1="2290" y1="356.5" x2="2309" y2="356.5" stroke="#111" stroke-width="7"/>
<rect x="2362.5" y="781" width="121.5" height="209" fill="#000"/>
<rect x="2533" y="602.5" width="122" height="387.5" fill="#a2a2a6"/>
<rect x="2703" y="778" width="122" height="212" fill="#808080"/>
<line x1="2421.5" y1="781" x2="2421.5" y2="672.5" stroke="#3a3a3a" stroke-width="4.5"/>
<line x1="2394" y1="672.5" x2="2450" y2="672.5" stroke="#3a3a3a" stroke-width="5"/>
<line x1="2592.5" y1="605" x2="2592.5" y2="407" stroke="#3a3a3a" stroke-width="4.5"/>
<line x1="2564" y1="407" x2="2621" y2="407" stroke="#3a3a3a" stroke-width="5"/>
<line x1="2764" y1="778" x2="2764" y2="637" stroke="#3a3a3a" stroke-width="4.5"/>
<line x1="2736" y1="637" x2="2792" y2="637" stroke="#3a3a3a" stroke-width="5"/>
<line x1="2421.5" y1="996" x2="2421.5" y2="1011" stroke="#111" stroke-width="6"/>
<line x1="2592.5" y1="996" x2="2592.5" y2="1011" stroke="#111" stroke-width="6"/>
<line x1="2764" y1="996" x2="2764" y2="1011" stroke="#111" stroke-width="6"/>
<path d="M2407,627 V237.5 H2571" fill="none" stroke="#2a2a2a" stroke-width="4.5" stroke-linejoin="miter" stroke-linecap="butt"/>
<path d="M2435.5,623 V294.6 H2769 V568" fill="none" stroke="#555" stroke-width="4.5" stroke-linejoin="miter" stroke-linecap="butt"/>
<path d="M2462.5,631 V347 H2603.5 V369" fill="none" stroke="#6e6e6e" stroke-width="4.5" stroke-linejoin="miter" stroke-linecap="butt"/>
<text x="2494.5" y="236" font-family="'Liberation Serif','Times New Roman',serif" font-weight="bold" font-size="40" fill="#222" text-anchor="middle" letter-spacing="3">****</text>
<text x="2534" y="350" font-family="'Liberation Serif','Times New Roman',serif" font-weight="bold" font-size="40" fill="#222" text-anchor="middle" letter-spacing="3">****</text>
<text x="2575.5" y="285" font-family="'Liberation Serif','Times New Roman',serif" font-size="56" fill="#222" text-anchor="middle">ns</text>
<text transform="translate(2145.0,373.0) scale(1.0,1)" font-family="'Liberation Serif','Times New Roman',serif" font-weight="bold" font-size="51.0" fill="#111" text-anchor="middle">3</text>
<text transform="translate(2174.4,380.5) scale(1.0,1)" font-family="'Liberation Serif','Times New Roman',serif" font-weight="normal" font-size="51.0" fill="#444" text-anchor="middle">×</text>
<text transform="translate(2221.0,373.0) scale(1.0,1)" font-family="'Liberation Serif','Times New Roman',serif" font-weight="bold" font-size="51.0" fill="#111" text-anchor="middle" letter-spacing="1">10</text>
<text transform="translate(2267.5,357.0) scale(1.0,1)" font-family="'Liberation Serif','Times New Roman',serif" font-weight="bold" font-size="36.7" fill="#3a3a3a" text-anchor="middle" letter-spacing="0.5">05</text>
<text transform="translate(2145.0,585.5) scale(1.0,1)" font-family="'Liberation Serif','Times New Roman',serif" font-weight="bold" font-size="51.0" fill="#111" text-anchor="middle">2</text>
<text transform="translate(2174.4,593.0) scale(1.0,1)" font-family="'Liberation Serif','Times New Roman',serif" font-weight="normal" font-size="51.0" fill="#444" text-anchor="middle">×</text>
<text transform="translate(2221.0,585.5) scale(1.0,1)" font-family="'Liberation Serif','Times New Roman',serif" font-weight="bold" font-size="51.0" fill="#111" text-anchor="middle" letter-spacing="1">10</text>
<text transform="translate(2267.5,569.5) scale(1.0,1)" font-family="'Liberation Serif','Times New Roman',serif" font-weight="bold" font-size="36.7" fill="#3a3a3a" text-anchor="middle" letter-spacing="0.5">05</text>
<text transform="translate(2145.0,798.0) scale(1.0,1)" font-family="'Liberation Serif','Times New Roman',serif" font-weight="bold" font-size="51.0" fill="#111" text-anchor="middle">1</text>
<text transform="translate(2174.4,805.5) scale(1.0,1)" font-family="'Liberation Serif','Times New Roman',serif" font-weight="normal" font-size="51.0" fill="#444" text-anchor="middle">×</text>
<text transform="translate(2221.0,798.0) scale(1.0,1)" font-family="'Liberation Serif','Times New Roman',serif" font-weight="bold" font-size="51.0" fill="#111" text-anchor="middle" letter-spacing="1">10</text>
<text transform="translate(2267.5,782.0) scale(1.0,1)" font-family="'Liberation Serif','Times New Roman',serif" font-weight="bold" font-size="36.7" fill="#3a3a3a" text-anchor="middle" letter-spacing="0.5">05</text>
<text x="2277.5" y="1010" font-family="'Liberation Serif','Times New Roman',serif" font-weight="bold" font-size="52" fill="#111" text-anchor="end">0</text>
<text transform="translate(2089.5,1124) rotate(-90)" font-family="'Liberation Serif','Times New Roman',serif" font-weight="bold" font-size="64" fill="#111" textLength="903" lengthAdjust="spacingAndGlyphs">Corrected Total Cell Fluorescence</text>
<text transform="translate(2439.6,1060) rotate(-45)" font-family="'Liberation Serif','Times New Roman',serif" font-weight="bold" font-size="52" fill="#111" text-anchor="end">FBS 10%</text>
<text transform="translate(2610.1,1059.4) rotate(-45)" font-family="'Liberation Serif','Times New Roman',serif" font-weight="bold" font-size="52" fill="#111" text-anchor="end">FCM</text>
<text transform="translate(2780.5,1060) rotate(-45)" font-family="'Liberation Serif','Times New Roman',serif" font-weight="bold" font-size="52" fill="#111" text-anchor="end">SCM</text>
<line x1="2318.5" y1="1583" x2="2318.5" y2="2236" stroke="#111" stroke-width="6.5"/>
<line x1="2300" y1="2233" x2="2925" y2="2233" stroke="#111" stroke-width="7"/>
<line x1="2300" y1="2233" x2="2318.5" y2="2233" stroke="#111" stroke-width="6.5"/>
<line x1="2300" y1="2071.1" x2="2318.5" y2="2071.1" stroke="#111" stroke-width="6.5"/>
<line x1="2300" y1="1909.2" x2="2318.5" y2="1909.2" stroke="#111" stroke-width="6.5"/>
<line x1="2300" y1="1747.3" x2="2318.5" y2="1747.3" stroke="#111" stroke-width="6.5"/>
<line x1="2300" y1="1585.4" x2="2318.5" y2="1585.4" stroke="#111" stroke-width="6.5"/>
<rect x="2374" y="1937" width="128" height="293" fill="#000"/>
<rect x="2555" y="1971" width="130" height="259" fill="#a2a2a6"/>
<rect x="2737" y="2087" width="129" height="143" fill="#808080"/>
<line x1="2439" y1="1937" x2="2439" y2="1751.6" stroke="#3a3a3a" stroke-width="4.5"/>
<line x1="2410" y1="1751.6" x2="2468" y2="1751.6" stroke="#3a3a3a" stroke-width="5"/>
<line x1="2620" y1="1973" x2="2620" y2="1805" stroke="#3a3a3a" stroke-width="4.5"/>
<line x1="2589" y1="1805" x2="2649" y2="1805" stroke="#3a3a3a" stroke-width="5"/>
<line x1="2800.5" y1="2089" x2="2800.5" y2="2023" stroke="#3a3a3a" stroke-width="4.5"/>
<line x1="2769" y1="2023" x2="2830" y2="2023" stroke="#3a3a3a" stroke-width="5"/>
<line x1="2438" y1="2235" x2="2438" y2="2250" stroke="#111" stroke-width="6"/>
<line x1="2619.5" y1="2235" x2="2619.5" y2="2250" stroke="#111" stroke-width="6"/>
<line x1="2800.5" y1="2235" x2="2800.5" y2="2250" stroke="#111" stroke-width="6"/>
<path d="M2432,1736 V1570.5 H2792 V1989" fill="none" stroke="#666" stroke-width="4.5" stroke-linejoin="miter" stroke-linecap="butt"/>
<path d="M2452,1724 V1653.5 H2613 V1757" fill="none" stroke="#555" stroke-width="4.5" stroke-linejoin="miter" stroke-linecap="butt"/>
<text x="2601.5" y="1570" font-family="'Liberation Serif','Times New Roman',serif" font-weight="bold" font-size="38" fill="#222" text-anchor="middle" letter-spacing="2">***</text>
<text x="2514" y="1650" font-family="'Liberation Serif','Times New Roman',serif" font-size="54" fill="#222" text-anchor="middle">ns</text>
<text transform="translate(2166.8,1605.4) scale(0.87,1)" font-family="'Liberation Serif','Times New Roman',serif" font-weight="bold" font-size="53.0" fill="#111" text-anchor="middle">4</text>
<text transform="translate(2193.0,1609.4) scale(0.87,1)" font-family="'Liberation Serif','Times New Roman',serif" font-weight="normal" font-size="53.0" fill="#444" text-anchor="middle">×</text>
<text transform="translate(2235.0,1605.4) scale(0.87,1)" font-family="'Liberation Serif','Times New Roman',serif" font-weight="bold" font-size="53.0" fill="#111" text-anchor="middle" letter-spacing="1">10</text>
<text transform="translate(2278.0,1589.4) scale(0.87,1)" font-family="'Liberation Serif','Times New Roman',serif" font-weight="bold" font-size="38.2" fill="#3a3a3a" text-anchor="middle" letter-spacing="0.5">05</text>
<text transform="translate(2166.8,1767.3) scale(0.87,1)" font-family="'Liberation Serif','Times New Roman',serif" font-weight="bold" font-size="53.0" fill="#111" text-anchor="middle">3</text>
<text transform="translate(2193.0,1771.3) scale(0.87,1)" font-family="'Liberation Serif','Times New Roman',serif" font-weight="normal" font-size="53.0" fill="#444" text-anchor="middle">×</text>
<text transform="translate(2235.0,1767.3) scale(0.87,1)" font-family="'Liberation Serif','Times New Roman',serif" font-weight="bold" font-size="53.0" fill="#111" text-anchor="middle" letter-spacing="1">10</text>
<text transform="translate(2278.0,1751.3) scale(0.87,1)" font-family="'Liberation Serif','Times New Roman',serif" font-weight="bold" font-size="38.2" fill="#3a3a3a" text-anchor="middle" letter-spacing="0.5">05</text>
<text transform="translate(2166.8,1929.2) scale(0.87,1)" font-family="'Liberation Serif','Times New Roman',serif" font-weight="bold" font-size="53.0" fill="#111" text-anchor="middle">2</text>
<text transform="translate(2193.0,1933.2) scale(0.87,1)" font-family="'Liberation Serif','Times New Roman',serif" font-weight="normal" font-size="53.0" fill="#444" text-anchor="middle">×</text>
<text transform="translate(2235.0,1929.2) scale(0.87,1)" font-family="'Liberation Serif','Times New Roman',serif" font-weight="bold" font-size="53.0" fill="#111" text-anchor="middle" letter-spacing="1">10</text>
<text transform="translate(2278.0,1913.2) scale(0.87,1)" font-family="'Liberation Serif','Times New Roman',serif" font-weight="bold" font-size="38.2" fill="#3a3a3a" text-anchor="middle" letter-spacing="0.5">05</text>
<text transform="translate(2166.8,2091.1) scale(0.87,1)" font-family="'Liberation Serif','Times New Roman',serif" font-weight="bold" font-size="53.0" fill="#111" text-anchor="middle">1</text>
<text transform="translate(2193.0,2095.1) scale(0.87,1)" font-family="'Liberation Serif','Times New Roman',serif" font-weight="normal" font-size="53.0" fill="#444" text-anchor="middle">×</text>
<text transform="translate(2235.0,2091.1) scale(0.87,1)" font-family="'Liberation Serif','Times New Roman',serif" font-weight="bold" font-size="53.0" fill="#111" text-anchor="middle" letter-spacing="1">10</text>
<text transform="translate(2278.0,2075.1) scale(0.87,1)" font-family="'Liberation Serif','Times New Roman',serif" font-weight="bold" font-size="38.2" fill="#3a3a3a" text-anchor="middle" letter-spacing="0.5">05</text>
<text x="2290" y="2249" font-family="'Liberation Serif','Times New Roman',serif" font-weight="bold" font-size="48" fill="#111" text-anchor="end">0</text>
<text transform="translate(2109.5,2369) rotate(-90)" font-family="'Liberation Serif','Times New Roman',serif" font-weight="bold" font-size="68" fill="#111" textLength="919" lengthAdjust="spacingAndGlyphs">Corrected Total Cell Fluorescence</text>
<text transform="translate(2459.2,2290) rotate(-45)" font-family="'Liberation Serif','Times New Roman',serif" font-weight="bold" font-size="50" fill="#111" text-anchor="end">FBS 10%</text>
<text transform="translate(2638.1,2293.3) rotate(-45)" font-family="'Liberation Serif','Times New Roman',serif" font-weight="bold" font-size="50" fill="#111" text-anchor="end">FCM</text>
<text transform="translate(2808.7,2302.6) rotate(-45)" font-family="'Liberation Serif','Times New Roman',serif" font-weight="bold" font-size="50" fill="#111" text-anchor="end">SCM</text>
</svg></body></html>
